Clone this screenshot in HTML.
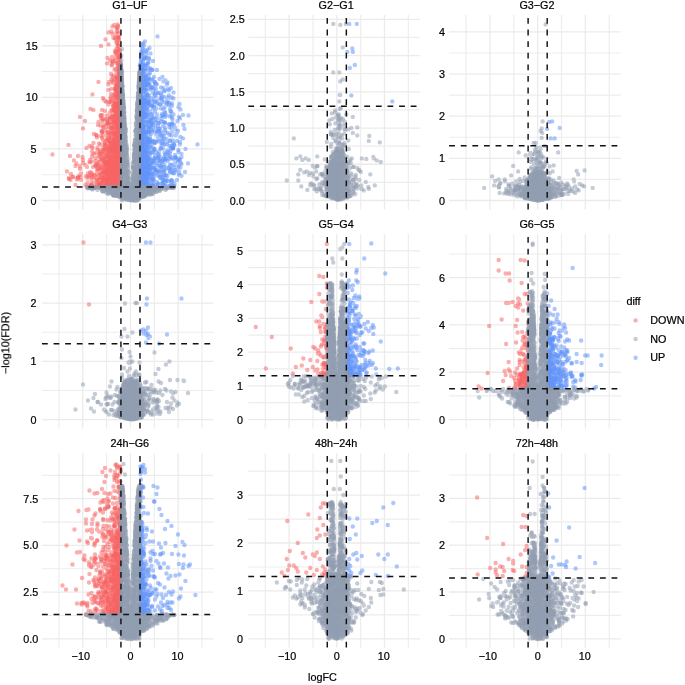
<!DOCTYPE html>
<html><head><meta charset="utf-8"><title>volcano</title>
<style>html,body{margin:0;padding:0;background:#fff}svg{display:block}text{will-change:transform}</style>
</head><body>
<svg width="685" height="685" viewBox="0 0 685 685">
<rect width="685" height="685" fill="#fff"/>
<path d="M58.92 14.90V209.40M106.62 14.90V209.40M154.32 14.90V209.40M202.02 14.90V209.40M41.97 174.71H213.57M41.97 123.12H213.57M41.97 71.54H213.57M41.97 19.95H213.57M265.25 14.90V209.40M312.95 14.90V209.40M360.65 14.90V209.40M408.35 14.90V209.40M248.30 182.38H419.90M248.30 146.15H419.90M248.30 109.91H419.90M248.30 73.68H419.90M248.30 37.44H419.90M466.10 14.90V209.40M513.80 14.90V209.40M561.50 14.90V209.40M609.20 14.90V209.40M449.15 179.43H620.75M449.15 137.28H620.75M449.15 95.12H620.75M449.15 52.97H620.75M58.92 233.97V428.47M106.62 233.97V428.47M154.32 233.97V428.47M202.02 233.97V428.47M41.97 390.46H213.57M41.97 332.24H213.57M41.97 274.02H213.57M265.25 233.97V428.47M312.95 233.97V428.47M360.65 233.97V428.47M408.35 233.97V428.47M248.30 402.69H419.90M248.30 368.94H419.90M248.30 335.19H419.90M248.30 301.44H419.90M248.30 267.69H419.90M466.10 233.97V428.47M513.80 233.97V428.47M561.50 233.97V428.47M609.20 233.97V428.47M449.15 395.92H620.75M449.15 348.62H620.75M449.15 301.32H620.75M449.15 254.02H620.75M58.92 452.96V647.46M106.62 452.96V647.46M154.32 452.96V647.46M202.02 452.96V647.46M41.97 615.45H213.57M41.97 568.75H213.57M41.97 522.05H213.57M41.97 475.35H213.57M265.25 452.96V647.46M312.95 452.96V647.46M360.65 452.96V647.46M408.35 452.96V647.46M248.30 614.85H419.90M248.30 566.95H419.90M248.30 519.05H419.90M248.30 471.15H419.90M466.10 452.96V647.46M513.80 452.96V647.46M561.50 452.96V647.46M609.20 452.96V647.46M449.15 615.40H620.75M449.15 568.60H620.75M449.15 521.80H620.75M449.15 475.00H620.75" fill="none" stroke="#EDEDED" stroke-width="1.15"/>
<path d="M82.77 14.90V209.40M130.47 14.90V209.40M178.17 14.90V209.40M41.97 200.50H213.57M41.97 148.91H213.57M41.97 97.33H213.57M41.97 45.75H213.57M289.10 14.90V209.40M336.80 14.90V209.40M384.50 14.90V209.40M248.30 200.50H419.90M248.30 164.26H419.90M248.30 128.03H419.90M248.30 91.80H419.90M248.30 55.56H419.90M248.30 19.32H419.90M489.95 14.90V209.40M537.65 14.90V209.40M585.35 14.90V209.40M449.15 200.50H620.75M449.15 158.35H620.75M449.15 116.20H620.75M449.15 74.05H620.75M449.15 31.90H620.75M82.77 233.97V428.47M130.47 233.97V428.47M178.17 233.97V428.47M41.97 419.57H213.57M41.97 361.35H213.57M41.97 303.13H213.57M41.97 244.91H213.57M289.10 233.97V428.47M336.80 233.97V428.47M384.50 233.97V428.47M248.30 419.57H419.90M248.30 385.82H419.90M248.30 352.07H419.90M248.30 318.32H419.90M248.30 284.57H419.90M248.30 250.82H419.90M489.95 233.97V428.47M537.65 233.97V428.47M585.35 233.97V428.47M449.15 419.57H620.75M449.15 372.27H620.75M449.15 324.97H620.75M449.15 277.67H620.75M82.77 452.96V647.46M130.47 452.96V647.46M178.17 452.96V647.46M41.97 638.80H213.57M41.97 592.10H213.57M41.97 545.40H213.57M41.97 498.70H213.57M289.10 452.96V647.46M336.80 452.96V647.46M384.50 452.96V647.46M248.30 638.80H419.90M248.30 590.90H419.90M248.30 543.00H419.90M248.30 495.10H419.90M489.95 452.96V647.46M537.65 452.96V647.46M585.35 452.96V647.46M449.15 638.80H620.75M449.15 592.00H620.75M449.15 545.20H620.75M449.15 498.40H620.75" fill="none" stroke="#EBEBEB" stroke-width="1.3"/>
<g fill="none" stroke-linecap="round" stroke-width="8.80" stroke-opacity=".5">
<svg x="41.97" y="14.90" width="171.60" height="194.50" viewBox="0 0 343.20 389.00">
<path stroke="#F85E5E" d="M143 344h0M154 213h0M148 286h0M150 323h0M142 271h0M155 182h0M119 277h0M154 312h0M143 333h0M149 158h0M146 318h0M158 174h0M154 166h0M135 300h0M150 336h0M143 260h0M153 220h0M146 278h0M157 179h0M157 210h0M129 280h0M139 343h0M149 332h0M146 189h0M158 145h0M150 288h0M148 238h0M148 269h0M118 326h0M156 211h0M153 310h0M154 249h0M156 168h0M149 326h0M143 312h0M155 156h0M145 202h0M154 274h0M154 332h0M156 296h0M153 341h0M150 216h0M124 317h0M154 294h0M128 316h0M139 333h0M149 220h0M155 219h0M154 324h0M132 320h0M157 331h0M146 337h0M129 296h0M121 330h0M154 140h0M149 308h0M149 327h0M153 240h0M144 327h0M108 328h0M155 324h0M145 230h0M158 286h0M133 252h0M154 281h0M150 327h0M146 336h0M153 141h0M149 115h0M137 306h0M146 339h0M154 53h0M152 217h0M137 322h0M142 182h0M145 307h0M99 315h0M147 178h0M150 214h0M148 149h0M149 221h0M155 274h0M153 281h0M157 299h0M148 294h0M157 229h0M153 233h0M127 302h0M144 309h0M151 254h0M150 125h0M143 335h0M156 326h0M153 235h0M137 320h0M157 306h0M149 34h0M140 336h0M154 321h0M156 337h0M157 194h0M158 342h0M157 176h0M149 74h0M155 271h0M157 133h0M151 267h0M151 168h0M157 114h0M149 25h0M140 255h0M149 319h0M154 143h0M132 294h0M144 343h0M157 303h0M156 233h0M138 239h0M147 146h0M147 283h0M156 251h0M133 279h0M150 33h0M157 172h0M158 253h0M157 314h0M129 342h0M157 180h0M152 326h0M157 250h0M157 179h0M149 273h0M143 318h0M126 285h0M152 314h0M124 291h0M157 144h0M142 256h0M148 242h0M137 296h0M134 284h0M124 280h0M138 301h0M154 112h0M154 187h0M139 344h0M132 311h0M141 23h0M138 336h0M149 249h0M154 247h0M142 298h0M131 323h0M145 329h0M140 270h0M156 307h0M121 344h0M151 300h0M152 101h0M157 203h0M156 278h0M149 259h0M154 301h0M142 327h0M153 320h0M152 84h0M139 242h0M149 341h0M147 222h0M111 324h0M152 235h0M147 302h0M144 209h0M119 282h0M130 331h0M145 268h0M142 340h0M156 263h0M154 136h0M152 264h0M153 309h0M145 247h0M149 188h0M151 256h0M121 233h0M141 315h0M143 232h0M144 319h0M129 313h0M158 232h0M152 228h0M155 144h0M133 315h0M156 250h0M146 235h0M155 178h0M155 340h0M153 336h0M146 73h0M155 217h0M155 236h0M149 142h0M154 315h0M120 246h0M131 334h0M141 284h0M146 245h0M151 289h0M141 326h0M153 324h0M147 330h0M133 332h0M152 276h0M153 195h0M150 121h0M146 205h0M135 315h0M155 292h0M148 334h0M141 307h0M152 162h0M143 299h0M157 192h0M151 294h0M135 299h0M148 261h0M151 81h0M153 177h0M149 250h0M148 306h0M143 210h0M134 322h0M154 317h0M125 324h0M139 317h0M78 317h0M152 179h0M152 246h0M151 323h0M152 170h0M153 58h0M144 233h0M119 317h0M149 310h0M152 333h0M152 242h0M154 221h0M115 337h0M134 322h0M148 258h0M132 218h0M149 212h0M142 319h0M143 333h0M137 322h0M155 96h0M142 307h0M147 295h0M153 234h0M154 267h0M154 212h0M142 314h0M137 343h0M155 324h0M148 293h0M142 342h0M150 277h0M157 191h0M153 258h0M134 315h0M140 310h0M154 338h0M149 337h0M137 263h0M145 303h0M154 224h0M131 331h0M155 340h0M146 224h0M151 162h0M124 298h0M148 247h0M139 329h0M146 299h0M157 293h0M150 271h0M157 159h0M140 330h0M153 208h0M158 102h0M136 208h0M146 336h0M157 314h0M157 191h0M143 186h0M115 307h0M140 262h0M96 290h0M139 312h0M146 323h0M131 264h0M144 222h0M127 261h0M143 250h0M111 270h0M155 333h0M127 321h0M139 246h0M87 300h0M152 279h0M148 193h0M157 106h0M145 223h0M128 340h0M155 281h0M143 227h0M108 292h0M158 245h0M151 313h0M104 238h0M137 327h0M136 289h0M142 247h0M116 284h0M99 339h0M95 293h0M141 341h0M123 269h0M130 214h0M150 284h0M128 284h0M109 276h0M148 235h0M153 246h0M135 329h0M76 320h0M142 278h0M129 173h0M109 303h0M154 270h0M110 334h0M67 302h0M141 226h0M117 221h0M151 289h0M112 328h0M107 302h0M135 297h0M123 292h0M154 233h0M150 284h0M111 293h0M90 304h0M148 108h0M131 304h0M113 341h0M115 321h0M127 231h0M118 342h0M137 226h0M50 313h0M61 324h0M82 227h0M97 188h0M67 340h0M118 62h0M127 49h0"/>
<path stroke="#F85E5E" d="M144 344h0M154 133h0M137 329h0M142 340h0M149 287h0M148 262h0M151 288h0M155 128h0M154 218h0M148 220h0M150 329h0M147 343h0M152 324h0M156 328h0M156 342h0M154 293h0M144 302h0M133 271h0M154 287h0M154 186h0M137 328h0M146 91h0M158 293h0M96 342h0M155 116h0M137 266h0M158 208h0M143 211h0M145 230h0M134 324h0M144 291h0M152 326h0M155 302h0M151 197h0M145 296h0M146 327h0M151 287h0M117 307h0M158 254h0M155 174h0M153 325h0M151 245h0M142 169h0M152 126h0M103 321h0M154 278h0M142 267h0M151 244h0M147 312h0M140 315h0M153 234h0M157 251h0M148 337h0M121 304h0M151 291h0M155 333h0M150 232h0M157 323h0M144 342h0M141 229h0M131 313h0M140 217h0M149 125h0M152 184h0M148 217h0M128 327h0M142 263h0M155 257h0M139 33h0M139 331h0M150 304h0M157 280h0M153 254h0M155 84h0M157 142h0M156 244h0M147 278h0M122 333h0M148 304h0M147 274h0M155 157h0M132 234h0M148 319h0M152 273h0M155 161h0M158 299h0M155 213h0M157 113h0M123 327h0M148 336h0M153 222h0M138 300h0M143 343h0M151 294h0M150 239h0M102 304h0M157 313h0M138 167h0M155 333h0M137 340h0M141 97h0M144 319h0M139 343h0M148 238h0M148 250h0M152 281h0M143 190h0M150 183h0M156 169h0M155 233h0M156 313h0M152 25h0M153 277h0M150 277h0M133 295h0M156 221h0M158 313h0M144 273h0M155 275h0M141 235h0M158 213h0M157 208h0M131 210h0M138 221h0M122 335h0M153 294h0M156 332h0M153 70h0M134 319h0M136 332h0M126 289h0M152 318h0M156 232h0M158 325h0M157 276h0M148 141h0M157 208h0M146 263h0M151 334h0M158 267h0M155 340h0M142 303h0M149 325h0M148 301h0M149 67h0M136 337h0M152 22h0M144 333h0M157 277h0M158 329h0M96 315h0M151 235h0M140 203h0M151 326h0M152 252h0M156 124h0M133 335h0M147 180h0M154 300h0M121 279h0M148 308h0M158 188h0M132 341h0M153 304h0M139 148h0M138 313h0M145 336h0M126 260h0M134 239h0M131 308h0M157 109h0M148 236h0M150 207h0M69 327h0M150 244h0M121 200h0M145 172h0M150 335h0M151 219h0M147 93h0M151 228h0M152 315h0M146 254h0M130 329h0M135 207h0M146 225h0M126 295h0M156 288h0M131 86h0M115 341h0M153 296h0M146 147h0M151 131h0M156 309h0M158 175h0M155 105h0M147 248h0M158 281h0M149 232h0M154 234h0M139 292h0M147 197h0M156 264h0M150 286h0M152 103h0M158 140h0M155 84h0M154 244h0M154 174h0M154 292h0M143 257h0M155 332h0M143 335h0M151 278h0M71 326h0M157 233h0M78 330h0M91 336h0M146 239h0M151 198h0M155 222h0M146 292h0M146 343h0M155 323h0M152 266h0M153 158h0M128 317h0M142 287h0M149 320h0M156 306h0M154 138h0M148 232h0M152 46h0M150 242h0M128 335h0M157 124h0M157 217h0M157 249h0M150 303h0M140 101h0M147 152h0M157 229h0M115 294h0M135 288h0M141 341h0M144 335h0M154 239h0M149 298h0M132 308h0M137 329h0M154 240h0M153 173h0M138 309h0M156 130h0M126 262h0M149 277h0M151 225h0M156 143h0M141 309h0M149 303h0M138 312h0M150 57h0M152 242h0M157 260h0M151 216h0M154 290h0M99 331h0M138 205h0M141 327h0M152 33h0M152 245h0M157 228h0M147 302h0M154 106h0M129 328h0M155 78h0M158 242h0M150 249h0M141 310h0M150 336h0M158 131h0M157 343h0M143 335h0M143 160h0M155 181h0M141 316h0M157 300h0M151 223h0M154 225h0M155 269h0M151 329h0M154 118h0M140 342h0M153 205h0M140 326h0M147 293h0M122 332h0M136 316h0M76 302h0M150 329h0M138 227h0M148 166h0M147 269h0M81 284h0M112 220h0M122 166h0M76 303h0M54 326h0M155 302h0M82 296h0M123 334h0M150 138h0M153 272h0M129 333h0M117 325h0M70 329h0M136 235h0M137 256h0M120 190h0M124 221h0M141 133h0M151 262h0M118 206h0M145 263h0M144 218h0M142 293h0M126 300h0M138 318h0M152 290h0M121 235h0M101 278h0M140 288h0M142 339h0M154 250h0M138 283h0M128 209h0M149 297h0M110 313h0M116 298h0M127 299h0M100 273h0M137 307h0M124 310h0M140 300h0M139 339h0M150 265h0M109 241h0M138 168h0M99 343h0M135 337h0M96 295h0M140 309h0M143 302h0M128 309h0M133 319h0M147 287h0M118 302h0M127 298h0M147 318h0M144 284h0M113 214h0M109 320h0M139 273h0M152 320h0M21 279h0"/>
<path stroke="#F85E5E" d="M149 343h0M141 269h0M151 280h0M155 192h0M157 100h0M152 302h0M142 159h0M138 319h0M152 283h0M153 112h0M142 283h0M146 185h0M130 97h0M142 200h0M157 191h0M150 334h0M152 144h0M147 86h0M143 276h0M124 334h0M124 339h0M144 248h0M158 280h0M154 157h0M151 225h0M133 295h0M146 303h0M157 321h0M130 310h0M136 302h0M157 204h0M136 299h0M150 321h0M118 289h0M113 283h0M153 273h0M148 312h0M149 278h0M134 203h0M148 254h0M142 217h0M133 326h0M156 192h0M132 344h0M157 297h0M151 38h0M158 235h0M153 280h0M137 218h0M131 240h0M139 305h0M157 261h0M156 290h0M146 291h0M125 257h0M157 173h0M134 267h0M119 304h0M131 334h0M156 316h0M155 147h0M146 286h0M153 271h0M141 301h0M137 339h0M150 289h0M137 173h0M156 334h0M153 109h0M143 167h0M155 176h0M121 315h0M122 272h0M145 264h0M139 280h0M155 302h0M152 21h0M155 331h0M157 283h0M142 303h0M151 264h0M119 337h0M149 196h0M145 327h0M155 277h0M141 336h0M157 267h0M148 272h0M157 173h0M116 317h0M151 194h0M139 291h0M153 125h0M157 141h0M126 192h0M150 216h0M141 337h0M153 143h0M111 343h0M145 162h0M147 267h0M143 235h0M141 322h0M154 80h0M141 237h0M149 50h0M157 274h0M157 225h0M154 247h0M143 304h0M154 225h0M156 311h0M154 112h0M137 343h0M153 205h0M152 44h0M153 336h0M144 305h0M140 328h0M144 343h0M156 259h0M144 192h0M138 158h0M156 212h0M139 204h0M146 264h0M123 208h0M144 327h0M151 150h0M154 112h0M155 207h0M156 247h0M136 91h0M155 166h0M126 340h0M146 310h0M153 208h0M153 316h0M155 194h0M136 276h0M144 174h0M157 311h0M138 344h0M155 184h0M147 336h0M124 332h0M150 330h0M124 343h0M125 308h0M155 226h0M155 261h0M156 174h0M157 342h0M151 308h0M155 250h0M150 235h0M155 329h0M156 263h0M149 339h0M143 294h0M158 241h0M149 314h0M139 99h0M156 245h0M154 163h0M155 118h0M152 230h0M131 284h0M157 293h0M156 291h0M139 129h0M151 19h0M154 261h0M149 344h0M131 338h0M153 84h0M156 90h0M149 310h0M154 340h0M150 295h0M156 332h0M103 256h0M155 103h0M128 298h0M145 341h0M155 216h0M154 38h0M154 221h0M151 290h0M72 324h0M141 342h0M132 252h0M147 238h0M151 323h0M155 285h0M153 251h0M154 323h0M157 151h0M157 277h0M150 314h0M153 129h0M156 106h0M156 332h0M148 47h0M155 80h0M150 185h0M156 240h0M151 303h0M128 252h0M127 318h0M158 124h0M145 327h0M137 312h0M140 322h0M137 308h0M138 221h0M137 325h0M138 340h0M131 216h0M146 213h0M146 207h0M150 199h0M128 330h0M143 264h0M149 76h0M154 176h0M152 212h0M144 271h0M153 251h0M136 341h0M145 20h0M139 325h0M157 264h0M156 302h0M152 177h0M133 294h0M134 244h0M113 338h0M127 339h0M155 287h0M153 61h0M153 178h0M122 225h0M145 213h0M154 50h0M137 273h0M135 262h0M150 295h0M153 338h0M114 308h0M157 218h0M148 326h0M126 313h0M149 322h0M138 341h0M155 214h0M155 336h0M151 288h0M149 303h0M144 284h0M145 266h0M120 317h0M152 197h0M127 331h0M148 249h0M152 299h0M155 225h0M143 266h0M150 26h0M128 314h0M155 142h0M149 224h0M150 252h0M154 158h0M152 154h0M154 219h0M151 273h0M150 256h0M149 266h0M153 238h0M156 342h0M155 232h0M158 290h0M117 259h0M155 153h0M116 274h0M149 316h0M91 323h0M121 261h0M101 266h0M124 170h0M149 273h0M144 295h0M144 300h0M134 225h0M123 241h0M152 343h0M141 255h0M145 261h0M155 296h0M151 295h0M144 287h0M92 317h0M130 270h0M62 324h0M146 280h0M134 311h0M143 235h0M132 290h0M127 173h0M157 281h0M134 237h0M100 325h0M130 201h0M154 216h0M95 262h0M143 343h0M142 318h0M139 343h0M136 279h0M133 179h0M118 338h0M134 274h0M111 300h0M154 342h0M138 118h0M150 245h0M115 340h0M134 312h0M124 323h0M154 227h0M146 164h0M109 240h0M144 267h0M116 282h0M137 340h0M147 294h0M109 341h0M129 207h0M133 275h0M110 307h0M147 340h0M143 295h0M133 139h0M140 326h0M57 330h0M86 212h0M133 35h0"/>
<path stroke="#F85E5E" d="M150 344h0M151 344h0M152 344h0M144 319h0M144 340h0M136 298h0M148 184h0M118 336h0M153 323h0M146 285h0M100 284h0M132 306h0M153 312h0M157 147h0M154 246h0M151 214h0M157 320h0M141 307h0M156 333h0M136 304h0M139 285h0M136 274h0M146 281h0M140 203h0M157 304h0M138 305h0M154 109h0M146 308h0M152 294h0M149 250h0M150 288h0M136 284h0M156 325h0M126 296h0M156 315h0M148 307h0M121 326h0M155 161h0M146 298h0M157 275h0M156 141h0M154 307h0M120 339h0M156 188h0M135 319h0M153 298h0M155 278h0M157 325h0M143 325h0M148 275h0M151 244h0M138 340h0M152 299h0M133 150h0M152 289h0M153 286h0M158 333h0M156 278h0M145 109h0M157 184h0M153 337h0M150 237h0M136 341h0M141 226h0M127 331h0M147 325h0M119 232h0M152 313h0M136 255h0M154 242h0M155 308h0M157 333h0M157 111h0M128 281h0M149 127h0M135 174h0M157 174h0M156 256h0M148 339h0M158 315h0M158 156h0M150 131h0M154 257h0M123 295h0M149 96h0M158 115h0M130 332h0M151 322h0M133 343h0M157 224h0M141 331h0M147 241h0M153 198h0M155 246h0M133 309h0M150 257h0M155 153h0M153 179h0M155 341h0M155 117h0M131 307h0M155 243h0M157 168h0M157 320h0M147 130h0M143 296h0M150 323h0M145 334h0M157 341h0M150 138h0M148 286h0M141 300h0M154 214h0M150 194h0M156 134h0M150 255h0M154 156h0M158 130h0M149 54h0M138 339h0M153 247h0M146 323h0M148 313h0M151 222h0M147 161h0M141 322h0M152 263h0M152 280h0M149 273h0M154 340h0M152 341h0M149 158h0M143 252h0M154 278h0M151 243h0M149 267h0M154 178h0M157 233h0M155 294h0M152 250h0M152 326h0M156 248h0M150 314h0M154 91h0M149 139h0M156 329h0M157 245h0M132 216h0M154 311h0M154 261h0M100 319h0M156 344h0M123 304h0M158 279h0M157 296h0M141 124h0M147 307h0M152 235h0M148 193h0M156 72h0M158 258h0M155 342h0M134 318h0M142 330h0M155 291h0M98 341h0M155 187h0M156 210h0M156 243h0M130 247h0M140 300h0M157 229h0M144 318h0M126 255h0M157 340h0M153 289h0M154 206h0M149 249h0M157 272h0M156 209h0M142 332h0M156 260h0M143 336h0M146 273h0M156 288h0M157 324h0M157 338h0M154 253h0M129 303h0M157 110h0M149 230h0M144 300h0M134 134h0M147 343h0M148 277h0M155 342h0M127 294h0M156 125h0M134 299h0M151 191h0M139 337h0M150 316h0M146 176h0M146 325h0M144 313h0M147 78h0M144 339h0M123 314h0M149 232h0M140 84h0M137 325h0M148 44h0M156 109h0M150 342h0M139 268h0M150 238h0M151 328h0M110 245h0M155 252h0M155 227h0M155 229h0M150 260h0M158 133h0M158 186h0M156 145h0M143 288h0M147 325h0M157 320h0M153 262h0M118 201h0M157 334h0M129 341h0M134 330h0M141 265h0M153 247h0M134 326h0M156 155h0M142 295h0M158 216h0M149 309h0M131 277h0M90 344h0M145 270h0M149 202h0M107 300h0M142 257h0M145 333h0M146 304h0M100 263h0M142 93h0M143 284h0M152 276h0M152 131h0M143 288h0M141 315h0M158 145h0M157 273h0M152 248h0M157 100h0M143 288h0M123 305h0M153 292h0M133 319h0M154 195h0M142 287h0M138 272h0M153 46h0M150 264h0M156 82h0M143 332h0M134 343h0M152 198h0M136 304h0M146 284h0M156 104h0M135 284h0M156 318h0M156 252h0M158 228h0M148 267h0M137 165h0M156 325h0M144 324h0M157 104h0M157 109h0M146 239h0M156 241h0M147 272h0M110 330h0M149 289h0M157 231h0M148 328h0M155 213h0M145 181h0M152 292h0M158 157h0M137 288h0M146 47h0M143 268h0M156 326h0M121 209h0M145 242h0M148 266h0M154 302h0M151 330h0M132 294h0M149 336h0M153 68h0M155 256h0M129 314h0M143 319h0M143 214h0M132 310h0M138 233h0M137 294h0M147 238h0M154 258h0M139 251h0M82 290h0M124 274h0M157 177h0M136 312h0M143 329h0M132 336h0M111 330h0M150 185h0M135 288h0M116 275h0M149 308h0M133 333h0M157 279h0M153 341h0M124 287h0M129 260h0M89 266h0M132 247h0M72 327h0M94 322h0M147 280h0M156 271h0M147 335h0M147 246h0M153 320h0M119 289h0M118 242h0M156 314h0M150 194h0M140 192h0M153 294h0M158 289h0M154 236h0M145 299h0M150 162h0M118 326h0M116 337h0M148 150h0M76 308h0M116 271h0M112 309h0M143 182h0M54 328h0M104 277h0M125 268h0M135 247h0M122 269h0M132 269h0M72 326h0M155 259h0M141 273h0M147 334h0M156 280h0M126 267h0M152 248h0M148 254h0M72 282h0M56 282h0M53 260h0M76 204h0M101 159h0"/>
<path stroke="#F85E5E" d="M137 344h0M152 343h0M151 343h0M154 186h0M158 240h0M156 70h0M154 272h0M148 182h0M135 215h0M155 116h0M155 315h0M157 96h0M130 307h0M154 272h0M145 330h0M147 342h0M157 184h0M133 59h0M153 278h0M109 301h0M153 259h0M153 224h0M149 337h0M143 238h0M154 342h0M147 129h0M157 113h0M137 304h0M158 287h0M157 225h0M151 319h0M109 343h0M150 166h0M154 306h0M143 225h0M147 267h0M158 133h0M157 322h0M152 284h0M139 324h0M157 278h0M130 338h0M143 318h0M157 124h0M152 62h0M157 210h0M141 38h0M142 336h0M148 201h0M122 314h0M146 305h0M127 311h0M153 323h0M155 276h0M150 136h0M150 332h0M147 318h0M129 328h0M154 325h0M155 138h0M142 312h0M149 253h0M131 343h0M157 285h0M138 336h0M138 321h0M100 339h0M140 296h0M146 341h0M150 263h0M157 236h0M141 328h0M150 320h0M137 255h0M149 274h0M152 311h0M149 315h0M157 270h0M140 323h0M147 239h0M122 329h0M149 161h0M141 250h0M143 332h0M127 319h0M146 247h0M157 183h0M140 344h0M154 318h0M156 252h0M147 326h0M122 335h0M127 316h0M151 303h0M153 173h0M156 267h0M148 210h0M143 295h0M149 190h0M152 290h0M152 301h0M146 331h0M143 132h0M143 316h0M148 156h0M153 325h0M131 326h0M143 283h0M152 268h0M153 159h0M154 158h0M149 315h0M155 322h0M156 102h0M149 239h0M158 201h0M132 295h0M157 156h0M136 195h0M146 316h0M152 224h0M157 249h0M156 295h0M154 323h0M155 302h0M147 304h0M157 183h0M149 268h0M112 331h0M95 344h0M157 144h0M157 276h0M156 228h0M149 331h0M145 283h0M136 321h0M143 180h0M126 269h0M141 315h0M151 240h0M156 291h0M146 203h0M145 301h0M146 148h0M133 308h0M125 293h0M154 243h0M138 275h0M154 266h0M157 270h0M155 287h0M156 343h0M150 336h0M147 270h0M115 330h0M154 178h0M157 209h0M149 216h0M139 327h0M139 308h0M151 202h0M153 306h0M155 99h0M129 342h0M156 264h0M154 304h0M141 324h0M136 288h0M155 336h0M77 324h0M154 256h0M156 325h0M135 267h0M131 282h0M124 225h0M155 319h0M157 183h0M158 179h0M150 288h0M157 234h0M157 244h0M137 246h0M124 320h0M150 246h0M151 245h0M152 300h0M156 287h0M131 249h0M142 136h0M157 211h0M147 284h0M141 92h0M155 266h0M157 317h0M143 289h0M154 274h0M158 298h0M97 323h0M149 313h0M156 231h0M142 262h0M152 237h0M157 306h0M157 290h0M154 293h0M143 121h0M158 249h0M142 251h0M136 258h0M150 304h0M146 275h0M149 267h0M152 249h0M153 328h0M155 254h0M156 259h0M121 311h0M153 206h0M151 319h0M151 259h0M132 343h0M137 296h0M157 287h0M142 40h0M114 329h0M136 262h0M146 123h0M137 314h0M113 344h0M150 219h0M145 206h0M140 283h0M156 191h0M155 256h0M155 203h0M141 255h0M104 325h0M131 315h0M156 317h0M145 289h0M143 46h0M131 235h0M132 335h0M157 201h0M153 249h0M142 343h0M143 238h0M154 111h0M130 273h0M156 148h0M146 302h0M148 287h0M138 174h0M156 238h0M155 71h0M157 325h0M151 301h0M148 305h0M139 297h0M122 320h0M143 253h0M154 156h0M148 144h0M150 325h0M155 145h0M146 209h0M140 310h0M157 336h0M147 252h0M153 263h0M130 324h0M152 95h0M157 253h0M152 161h0M149 256h0M137 208h0M152 282h0M127 328h0M155 86h0M148 126h0M144 322h0M158 250h0M157 140h0M151 270h0M158 248h0M139 327h0M147 72h0M136 254h0M123 313h0M158 303h0M153 142h0M149 162h0M150 333h0M158 202h0M143 334h0M158 279h0M144 292h0M156 206h0M157 110h0M156 263h0M149 166h0M157 306h0M155 303h0M133 275h0M151 138h0M140 306h0M155 298h0M150 316h0M139 272h0M153 307h0M140 338h0M132 316h0M145 320h0M147 254h0M151 251h0M155 338h0M155 214h0M154 44h0M107 344h0M144 183h0M145 300h0M91 327h0M154 337h0M154 336h0M126 339h0M155 191h0M147 333h0M153 148h0M136 313h0M152 275h0M121 213h0M139 190h0M118 318h0M121 287h0M115 343h0M157 325h0M152 253h0M156 104h0M109 297h0M114 257h0M102 322h0M148 282h0M111 265h0M127 333h0M88 323h0M115 278h0M111 339h0M129 275h0M128 224h0M149 338h0M114 335h0M128 221h0M105 320h0M127 328h0M146 339h0M133 267h0M127 272h0M130 341h0M104 336h0M103 343h0M138 299h0M147 304h0M87 340h0M103 339h0M131 302h0M158 299h0M145 294h0M158 224h0M145 213h0M153 237h0M143 317h0M155 156h0M145 178h0M118 329h0M149 183h0M117 201h0M156 165h0M141 252h0M148 284h0M128 284h0M135 339h0M156 245h0M135 322h0M107 286h0M114 300h0M157 339h0M139 245h0M134 344h0M135 310h0M100 293h0M120 234h0M155 256h0M132 343h0M150 129h0M153 314h0M122 250h0M58 318h0M64 291h0M69 297h0M103 190h0M113 134h0"/>
<path stroke="#5B8FF9" d="M198 111h0M222 273h0M197 209h0M227 310h0M200 278h0M211 342h0M201 317h0M204 236h0M212 184h0M196 327h0M211 341h0M198 318h0M200 175h0M202 223h0M200 186h0M212 282h0M196 326h0M199 271h0M204 242h0M205 277h0M199 321h0M198 123h0M199 290h0M207 332h0M204 195h0M196 305h0M216 248h0M202 339h0M199 211h0M196 301h0M209 276h0M211 327h0M213 213h0M208 219h0M213 344h0M198 198h0M198 243h0M203 342h0M197 305h0M200 219h0M199 175h0M197 176h0M202 191h0M201 330h0M196 326h0M210 256h0M199 341h0M199 127h0M197 229h0M197 338h0M201 165h0M207 303h0M211 248h0M201 315h0M198 300h0M203 334h0M201 192h0M205 334h0M207 214h0M198 340h0M208 296h0M202 296h0M210 308h0M203 322h0M211 196h0M231 250h0M199 259h0M203 311h0M196 279h0M196 219h0M198 222h0M213 291h0M198 326h0M198 307h0M197 195h0M203 273h0M199 305h0M200 221h0M205 325h0M198 302h0M203 300h0M205 231h0M197 172h0M202 282h0M197 245h0M202 293h0M203 336h0M199 342h0M198 332h0M219 338h0M203 308h0M198 182h0M198 226h0M210 317h0M198 268h0M200 311h0M201 272h0M201 337h0M198 166h0M201 242h0M198 301h0M198 276h0M197 252h0M200 303h0M200 333h0M205 284h0M196 234h0M209 315h0M206 322h0M204 176h0M200 268h0M196 339h0M197 191h0M212 193h0M200 182h0M218 295h0M197 199h0M216 313h0M201 230h0M206 310h0M197 312h0M200 251h0M208 298h0M202 311h0M199 223h0M201 231h0M205 278h0M196 293h0M199 336h0M200 335h0M200 243h0M199 326h0M207 257h0M197 269h0M205 313h0M200 205h0M203 128h0M205 341h0M199 255h0M201 255h0M198 243h0M203 278h0M198 203h0M199 248h0M203 134h0M203 313h0M206 310h0M198 315h0M214 310h0M199 254h0M197 194h0M196 238h0M200 343h0M210 257h0M205 334h0M196 142h0M218 300h0M198 279h0M211 284h0M199 309h0M201 308h0M202 273h0M201 281h0M196 277h0M206 163h0M197 211h0M201 242h0M197 189h0M197 184h0M201 329h0M196 176h0M205 297h0M216 252h0M208 338h0M212 282h0M199 313h0M199 344h0M218 275h0M197 187h0M202 286h0M236 249h0M275 288h0M210 187h0M245 275h0M197 247h0M229 239h0M205 275h0M232 287h0M238 179h0M231 171h0M234 216h0M198 152h0M265 340h0M241 337h0M264 259h0M196 332h0M245 236h0M209 281h0M236 324h0M237 326h0M213 265h0M246 151h0M202 93h0M265 337h0M226 297h0M214 107h0M203 111h0M214 86h0M200 64h0M250 176h0M259 330h0M287 268h0M202 275h0M207 150h0M262 316h0M255 288h0M276 259h0M196 113h0M199 149h0M232 337h0M256 252h0M213 299h0M198 326h0M218 265h0M283 220h0M219 181h0M211 109h0M245 318h0M200 267h0M198 212h0M210 141h0M219 329h0M210 320h0M202 296h0M201 323h0M252 332h0M244 329h0M197 166h0M205 278h0M214 294h0M257 272h0M197 181h0M250 139h0M274 320h0M255 342h0M240 326h0M198 252h0M211 196h0M198 236h0M239 315h0M202 288h0M208 137h0M203 328h0M229 138h0M210 184h0M196 126h0M197 160h0M197 188h0M275 178h0M204 320h0M209 79h0M243 288h0M197 231h0M234 178h0M273 184h0M221 307h0M196 101h0M277 296h0M196 291h0M260 197h0M216 278h0M196 252h0M200 336h0M279 322h0M200 217h0M199 122h0M234 314h0M197 339h0M224 267h0M223 319h0M221 332h0M201 281h0M258 180h0M196 276h0M197 188h0M198 245h0M215 333h0M254 219h0M217 193h0M246 226h0M215 140h0M218 145h0M210 160h0M197 226h0M240 172h0M231 242h0M229 275h0M246 343h0M228 216h0M223 291h0M199 317h0M228 214h0M273 270h0M261 219h0M208 339h0M277 244h0M197 113h0M196 326h0M263 199h0M212 175h0M212 96h0M260 182h0M253 306h0M246 196h0M206 126h0M262 266h0M227 206h0M207 170h0M241 201h0M197 149h0M203 292h0M220 275h0M243 316h0M216 336h0M234 156h0M226 137h0M204 138h0M247 235h0M202 66h0M199 304h0M229 295h0M214 126h0M200 261h0M239 247h0M197 267h0M215 225h0M200 227h0M267 313h0M208 189h0M245 320h0M238 155h0M226 193h0M240 198h0M198 296h0M213 232h0M276 207h0M259 200h0M197 265h0M231 43h0"/>
<path stroke="#5B8FF9" d="M199 343h0M201 228h0M215 287h0M201 297h0M198 344h0M197 337h0M202 305h0M203 296h0M205 291h0M198 165h0M203 255h0M204 327h0M207 263h0M197 242h0M197 328h0M197 250h0M214 319h0M203 327h0M196 247h0M199 333h0M201 258h0M200 335h0M196 326h0M202 246h0M198 253h0M202 226h0M197 248h0M200 250h0M214 287h0M200 244h0M207 251h0M203 262h0M200 325h0M197 168h0M198 248h0M201 331h0M196 233h0M200 238h0M199 204h0M201 289h0M199 325h0M199 212h0M196 320h0M197 213h0M208 320h0M198 197h0M199 341h0M205 303h0M241 334h0M209 295h0M200 318h0M198 283h0M197 278h0M198 302h0M206 339h0M197 302h0M202 306h0M197 240h0M198 232h0M199 304h0M199 103h0M197 100h0M200 265h0M200 315h0M212 307h0M199 259h0M206 279h0M197 305h0M200 172h0M198 246h0M207 261h0M209 280h0M196 272h0M212 233h0M199 257h0M197 149h0M231 344h0M196 317h0M201 263h0M202 343h0M200 268h0M201 248h0M198 312h0M198 338h0M197 284h0M206 305h0M197 125h0M203 291h0M204 341h0M198 253h0M199 154h0M206 343h0M198 338h0M200 344h0M204 324h0M201 333h0M210 185h0M200 184h0M198 295h0M201 104h0M197 154h0M203 101h0M199 209h0M196 135h0M198 105h0M197 127h0M197 337h0M198 178h0M199 302h0M235 310h0M200 109h0M197 181h0M198 274h0M223 305h0M210 264h0M198 121h0M208 202h0M205 197h0M198 120h0M200 287h0M210 247h0M197 319h0M210 272h0M201 230h0M197 343h0M203 222h0M199 340h0M198 330h0M199 214h0M207 337h0M198 248h0M214 308h0M201 273h0M207 341h0M208 305h0M198 309h0M214 300h0M208 267h0M201 322h0M203 343h0M197 301h0M206 338h0M197 340h0M202 284h0M196 302h0M199 225h0M218 211h0M200 285h0M200 300h0M206 276h0M198 210h0M208 271h0M205 237h0M204 320h0M199 327h0M208 177h0M198 138h0M211 316h0M197 173h0M202 323h0M200 332h0M199 228h0M199 270h0M198 252h0M207 133h0M201 258h0M196 334h0M200 326h0M199 99h0M198 101h0M196 335h0M204 301h0M201 268h0M202 295h0M208 276h0M199 164h0M202 335h0M197 212h0M254 181h0M245 259h0M256 313h0M240 164h0M279 278h0M241 328h0M199 295h0M242 266h0M257 193h0M210 285h0M260 307h0M208 184h0M258 332h0M204 147h0M231 207h0M197 340h0M245 310h0M218 212h0M202 174h0M244 153h0M200 339h0M203 154h0M196 202h0M213 94h0M199 137h0M245 341h0M230 285h0M249 248h0M277 305h0M206 270h0M197 293h0M263 257h0M262 257h0M240 163h0M261 263h0M221 110h0M237 338h0M235 309h0M211 214h0M258 315h0M218 342h0M243 214h0M258 338h0M197 180h0M252 236h0M212 172h0M225 256h0M237 293h0M279 284h0M201 112h0M240 295h0M196 235h0M214 253h0M201 240h0M259 300h0M254 176h0M201 205h0M235 228h0M237 238h0M197 317h0M254 151h0M235 292h0M207 85h0M240 324h0M197 131h0M213 271h0M207 328h0M201 153h0M235 280h0M244 242h0M201 343h0M214 251h0M205 234h0M207 131h0M197 327h0M256 189h0M216 116h0M196 151h0M197 274h0M243 293h0M225 211h0M222 92h0M203 172h0M267 285h0M216 251h0M213 254h0M228 311h0M245 256h0M228 148h0M208 245h0M196 222h0M235 280h0M226 282h0M200 331h0M254 181h0M201 261h0M199 240h0M206 135h0M202 231h0M247 288h0M219 210h0M227 155h0M204 317h0M198 158h0M228 254h0M246 341h0M224 184h0M222 219h0M197 170h0M200 144h0M209 169h0M224 208h0M197 326h0M198 115h0M197 218h0M209 291h0M235 302h0M203 320h0M198 153h0M230 177h0M203 290h0M221 296h0M270 330h0M244 304h0M198 256h0M204 325h0M255 262h0M256 251h0M206 142h0M198 213h0M206 141h0M205 200h0M198 135h0M220 145h0M253 343h0M205 204h0M204 329h0M207 124h0M230 234h0M199 191h0M254 161h0M227 224h0M263 155h0M197 290h0M271 292h0M241 304h0M196 246h0M239 261h0M204 333h0M228 211h0M217 255h0M242 267h0M260 312h0M197 167h0M197 143h0M248 320h0M260 303h0M222 253h0M197 327h0M255 219h0M251 254h0M217 277h0M206 87h0M292 297h0M198 178h0M201 75h0M211 305h0M242 267h0M199 225h0M213 180h0M198 157h0M208 234h0M197 215h0M212 164h0M198 132h0M201 219h0M276 254h0M203 269h0M206 53h0"/>
<path stroke="#5B8FF9" d="M215 344h0M203 344h0M210 344h0M208 251h0M198 250h0M203 289h0M208 198h0M196 121h0M205 292h0M197 167h0M202 168h0M208 231h0M209 334h0M208 320h0M202 202h0M215 301h0M199 238h0M199 338h0M203 251h0M206 332h0M200 344h0M198 258h0M210 291h0M197 308h0M199 265h0M210 199h0M200 331h0M211 204h0M202 300h0M200 342h0M198 253h0M203 315h0M202 321h0M207 132h0M198 302h0M198 343h0M202 142h0M197 155h0M200 328h0M199 149h0M196 287h0M196 320h0M204 202h0M198 251h0M196 245h0M201 256h0M197 325h0M219 327h0M216 309h0M198 312h0M199 251h0M201 303h0M196 186h0M203 314h0M199 301h0M207 315h0M202 255h0M199 213h0M201 232h0M216 286h0M198 290h0M198 221h0M209 263h0M197 260h0M198 219h0M210 283h0M199 146h0M201 227h0M207 337h0M209 327h0M199 270h0M197 313h0M197 268h0M207 324h0M196 338h0M207 199h0M230 340h0M205 290h0M205 323h0M204 255h0M199 341h0M202 335h0M198 192h0M199 330h0M219 261h0M207 322h0M197 283h0M206 317h0M207 281h0M204 337h0M203 283h0M202 242h0M204 118h0M196 281h0M197 161h0M208 302h0M203 316h0M202 267h0M200 269h0M216 325h0M213 235h0M198 191h0M201 325h0M198 285h0M207 341h0M197 342h0M198 329h0M200 301h0M198 255h0M196 208h0M197 286h0M196 210h0M197 344h0M200 342h0M198 239h0M205 290h0M207 225h0M203 228h0M256 299h0M198 331h0M208 233h0M200 295h0M203 322h0M214 259h0M202 291h0M196 327h0M196 315h0M196 333h0M198 276h0M200 276h0M201 308h0M209 266h0M215 219h0M199 284h0M197 206h0M199 133h0M204 309h0M209 320h0M217 304h0M197 333h0M199 303h0M199 328h0M199 330h0M198 337h0M202 198h0M197 308h0M204 190h0M215 286h0M215 235h0M198 133h0M208 264h0M206 274h0M209 254h0M205 343h0M197 252h0M211 160h0M197 252h0M196 141h0M203 302h0M211 343h0M218 238h0M199 229h0M199 314h0M213 223h0M201 315h0M207 342h0M208 140h0M220 203h0M197 240h0M199 344h0M197 341h0M197 341h0M205 335h0M213 317h0M197 229h0M207 291h0M200 301h0M205 319h0M205 228h0M234 284h0M204 246h0M207 294h0M209 177h0M218 318h0M217 77h0M201 190h0M206 317h0M209 316h0M197 331h0M274 301h0M206 159h0M229 139h0M217 255h0M261 286h0M208 274h0M200 230h0M237 241h0M205 342h0M239 256h0M219 172h0M224 340h0M223 253h0M220 173h0M197 180h0M256 203h0M235 128h0M232 222h0M196 322h0M222 275h0M246 215h0M218 180h0M210 326h0M220 274h0M202 259h0M251 322h0M249 332h0M200 179h0M274 313h0M198 143h0M213 133h0M207 120h0M213 200h0M213 318h0M241 124h0M219 166h0M258 308h0M204 88h0M225 134h0M202 205h0M215 322h0M220 344h0M208 102h0M218 150h0M282 247h0M232 156h0M224 287h0M204 160h0M209 154h0M199 206h0M198 76h0M238 145h0M230 110h0M241 319h0M230 313h0M205 339h0M239 208h0M215 138h0M212 248h0M196 127h0M199 73h0M197 244h0M199 246h0M205 103h0M199 338h0M214 177h0M252 274h0M246 290h0M214 139h0M244 319h0M198 266h0M200 208h0M206 253h0M202 185h0M226 141h0M199 277h0M219 199h0M255 240h0M208 297h0M244 313h0M198 91h0M220 236h0M286 314h0M198 279h0M262 251h0M205 251h0M220 234h0M199 222h0M226 256h0M213 303h0M263 167h0M214 224h0M210 135h0M216 129h0M267 241h0M225 162h0M207 106h0M272 232h0M218 218h0M243 200h0M237 167h0M205 140h0M213 140h0M204 169h0M266 280h0M256 277h0M269 237h0M279 298h0M222 156h0M213 250h0M201 342h0M205 202h0M221 179h0M246 230h0M208 317h0M199 295h0M230 300h0M203 212h0M261 267h0M261 209h0M208 313h0M200 228h0M207 188h0M208 307h0M275 317h0M257 285h0M223 330h0M212 302h0M243 285h0M206 271h0M216 211h0M224 149h0M220 131h0M235 234h0M242 258h0M209 150h0M232 321h0M201 107h0M202 296h0M208 241h0M215 66h0"/>
<path stroke="#5B8FF9" d="M210 344h0M198 344h0M209 344h0M215 220h0M202 192h0M199 313h0M198 337h0M197 259h0M205 316h0M196 265h0M217 293h0M196 279h0M207 113h0M201 338h0M200 304h0M203 222h0M199 296h0M198 318h0M197 344h0M197 216h0M198 210h0M200 286h0M196 267h0M196 227h0M222 340h0M197 308h0M198 239h0M201 237h0M198 320h0M202 110h0M197 317h0M197 292h0M198 204h0M198 324h0M206 307h0M199 249h0M197 330h0M197 143h0M209 244h0M198 229h0M198 197h0M198 184h0M207 344h0M199 322h0M200 324h0M197 336h0M197 293h0M200 271h0M200 127h0M200 131h0M210 141h0M196 289h0M196 199h0M203 293h0M199 283h0M206 336h0M208 305h0M197 307h0M200 98h0M214 298h0M199 302h0M200 283h0M199 264h0M202 273h0M204 199h0M200 307h0M198 334h0M197 267h0M197 238h0M197 270h0M197 339h0M197 146h0M202 174h0M204 152h0M197 305h0M211 316h0M219 330h0M205 192h0M225 322h0M196 165h0M201 181h0M198 165h0M202 312h0M204 321h0M197 233h0M198 127h0M198 149h0M196 304h0M202 341h0M198 290h0M201 140h0M204 306h0M201 317h0M200 231h0M197 270h0M210 290h0M199 317h0M204 264h0M200 337h0M198 278h0M197 248h0M207 334h0M197 249h0M215 309h0M197 329h0M200 195h0M203 292h0M198 220h0M203 192h0M211 174h0M202 291h0M202 321h0M198 140h0M201 115h0M197 143h0M197 269h0M200 229h0M196 168h0M201 321h0M198 330h0M199 236h0M197 146h0M200 254h0M206 268h0M207 165h0M197 253h0M197 330h0M198 258h0M211 319h0M201 279h0M227 307h0M200 331h0M199 308h0M205 168h0M205 330h0M218 222h0M197 331h0M197 264h0M203 334h0M197 265h0M225 288h0M198 310h0M203 334h0M218 227h0M196 230h0M212 304h0M210 306h0M213 327h0M201 334h0M206 283h0M200 321h0M205 328h0M202 284h0M197 288h0M201 146h0M205 309h0M203 330h0M200 308h0M207 341h0M200 311h0M196 321h0M199 278h0M199 329h0M199 297h0M211 338h0M212 336h0M210 336h0M197 186h0M209 158h0M200 223h0M200 239h0M198 291h0M200 302h0M197 262h0M209 121h0M197 319h0M199 343h0M208 211h0M198 171h0M196 261h0M207 253h0M208 309h0M207 314h0M223 319h0M200 281h0M198 276h0M199 304h0M197 322h0M218 336h0M256 314h0M260 339h0M241 255h0M272 305h0M197 158h0M220 110h0M238 267h0M245 330h0M246 330h0M251 165h0M201 343h0M224 124h0M247 131h0M204 132h0M196 193h0M203 70h0M198 312h0M196 332h0M201 281h0M258 266h0M205 271h0M268 305h0M206 250h0M211 100h0M236 227h0M213 205h0M251 135h0M223 327h0M211 321h0M220 206h0M214 160h0M203 84h0M196 238h0M198 131h0M220 215h0M211 190h0M221 319h0M261 332h0M247 280h0M208 72h0M200 296h0M201 149h0M241 341h0M197 322h0M212 276h0M197 320h0M268 286h0M264 317h0M201 149h0M259 165h0M234 253h0M206 270h0M260 234h0M208 238h0M220 182h0M198 109h0M201 77h0M238 291h0M206 181h0M213 168h0M259 218h0M230 337h0M212 138h0M274 204h0M272 290h0M240 167h0M209 200h0M233 230h0M243 133h0M244 164h0M242 222h0M236 288h0M197 198h0M201 79h0M230 334h0M226 173h0M228 286h0M262 267h0M217 110h0M213 316h0M211 176h0M265 261h0M220 199h0M238 233h0M241 251h0M200 141h0M224 332h0M215 344h0M282 200h0M221 252h0M245 185h0M217 296h0M204 61h0M234 273h0M258 192h0M277 189h0M206 86h0M270 252h0M244 174h0M205 272h0M211 148h0M198 297h0M249 329h0M235 293h0M259 226h0M222 317h0M246 217h0M239 305h0M200 274h0M197 191h0M251 271h0M200 59h0M211 251h0M198 231h0M218 327h0M213 258h0M197 341h0M258 166h0M246 216h0M199 62h0M224 254h0M197 113h0M197 312h0M213 146h0M215 216h0M246 204h0M250 259h0M201 191h0M201 70h0M213 199h0M228 162h0M238 160h0M208 204h0M213 293h0M197 308h0M259 241h0M224 170h0M212 177h0M250 167h0M215 225h0M221 293h0M240 309h0M201 276h0M233 228h0M239 166h0M222 293h0M204 128h0M236 313h0M196 160h0M197 257h0M216 235h0M259 332h0M213 129h0M203 99h0M242 334h0M201 323h0M208 267h0M200 123h0M249 179h0M198 123h0M196 282h0M248 288h0M217 265h0M236 302h0M257 284h0M200 292h0M225 268h0M253 279h0M196 228h0M236 179h0M202 206h0M202 153h0M199 181h0M247 326h0M271 212h0M238 187h0M226 159h0M197 110h0M226 232h0M203 321h0M233 216h0M260 177h0M217 343h0M258 146h0M223 231h0M197 307h0M311 259h0M201 62h0"/>
<path stroke="#5B8FF9" d="M197 311h0M201 108h0M198 118h0M202 323h0M202 123h0M204 200h0M197 304h0M201 283h0M198 326h0M202 312h0M199 209h0M203 263h0M214 293h0M204 320h0M198 335h0M203 333h0M198 175h0M210 330h0M201 271h0M198 327h0M199 315h0M208 313h0M198 177h0M215 253h0M196 181h0M205 270h0M197 295h0M197 171h0M202 226h0M220 322h0M204 319h0M207 219h0M204 274h0M197 163h0M212 321h0M196 288h0M204 311h0M199 324h0M207 292h0M201 319h0M222 342h0M200 237h0M199 341h0M196 109h0M202 301h0M196 219h0M208 333h0M200 208h0M202 107h0M213 304h0M197 251h0M197 244h0M199 232h0M197 317h0M202 312h0M208 221h0M197 301h0M201 106h0M205 319h0M201 313h0M209 340h0M198 324h0M204 123h0M198 303h0M198 308h0M198 277h0M201 179h0M199 308h0M206 327h0M207 332h0M202 235h0M197 200h0M197 233h0M197 334h0M206 203h0M225 270h0M199 282h0M200 331h0M201 272h0M196 188h0M208 291h0M197 99h0M202 335h0M196 297h0M198 96h0M201 320h0M208 323h0M199 127h0M197 233h0M205 232h0M198 307h0M201 341h0M198 189h0M196 102h0M198 237h0M198 281h0M208 318h0M198 331h0M198 268h0M199 292h0M205 312h0M200 208h0M197 156h0M201 205h0M197 146h0M202 317h0M204 343h0M200 303h0M204 341h0M197 153h0M196 288h0M201 254h0M197 244h0M205 225h0M207 328h0M196 241h0M207 99h0M198 308h0M212 272h0M201 339h0M203 181h0M204 311h0M220 292h0M198 121h0M208 304h0M199 245h0M197 221h0M197 334h0M207 292h0M196 176h0M204 323h0M198 328h0M198 114h0M199 249h0M199 308h0M197 326h0M199 333h0M200 294h0M205 198h0M199 196h0M199 100h0M197 277h0M197 297h0M197 223h0M199 341h0M203 122h0M198 282h0M196 284h0M222 327h0M200 172h0M206 343h0M200 318h0M199 253h0M204 199h0M198 339h0M214 323h0M200 301h0M208 301h0M202 332h0M200 247h0M210 322h0M216 304h0M200 322h0M200 286h0M201 237h0M211 344h0M200 225h0M198 258h0M198 236h0M204 174h0M201 331h0M196 208h0M197 273h0M199 310h0M198 205h0M199 279h0M197 219h0M200 184h0M196 322h0M201 268h0M198 242h0M199 338h0M200 332h0M266 225h0M221 129h0M198 245h0M197 335h0M219 218h0M198 195h0M198 148h0M293 201h0M229 187h0M229 316h0M207 108h0M259 262h0M211 70h0M199 91h0M261 217h0M197 308h0M197 223h0M247 279h0M219 210h0M200 146h0M199 151h0M212 129h0M260 205h0M237 267h0M198 82h0M241 242h0M273 274h0M250 282h0M201 334h0M198 325h0M226 174h0M222 187h0M196 241h0M226 134h0M203 225h0M200 275h0M250 279h0M230 199h0M245 333h0M209 131h0M216 244h0M239 202h0M267 285h0M239 302h0M201 147h0M199 166h0M202 116h0M200 176h0M201 318h0M247 336h0M212 337h0M243 189h0M201 339h0M198 87h0M232 231h0M219 294h0M204 146h0M220 146h0M207 332h0M200 82h0M244 248h0M200 213h0M213 235h0M197 342h0M198 145h0M223 311h0M210 314h0M266 297h0M205 107h0M219 317h0M215 173h0M235 323h0M208 235h0M214 227h0M214 119h0M251 292h0M248 307h0M209 86h0M212 323h0M206 281h0M196 322h0M249 201h0M205 343h0M202 123h0M201 265h0M240 294h0M212 137h0M255 225h0M252 174h0M204 186h0M198 214h0M205 205h0M247 201h0M217 107h0M237 326h0M254 307h0M266 310h0M198 329h0M196 329h0M196 136h0M198 217h0M201 214h0M232 279h0M264 342h0M197 97h0M213 175h0M216 290h0M246 194h0M207 172h0M196 192h0M262 266h0M229 314h0M202 57h0M238 292h0M201 309h0M197 343h0M245 300h0M207 261h0M201 104h0M198 268h0M220 145h0M199 268h0M267 229h0M240 292h0M214 88h0M264 300h0M276 290h0M198 126h0M212 285h0M252 148h0M238 213h0M221 222h0M200 271h0M208 73h0M243 146h0M197 210h0M197 123h0M216 292h0M196 315h0M220 230h0M198 86h0M204 307h0M198 214h0M285 228h0M224 184h0M201 168h0M201 310h0M263 289h0M201 246h0M196 240h0M224 306h0M197 172h0M209 313h0M264 220h0M225 292h0M253 305h0"/>
<path stroke="#8D99AE" d="M163 213h0M168 258h0M160 144h0M168 341h0M168 367h0M163 242h0M164 186h0M164 241h0M161 178h0M165 223h0M168 325h0M167 274h0M163 212h0M167 272h0M174 335h0M167 233h0M169 284h0M160 307h0M163 316h0M159 140h0M158 107h0M172 301h0M164 312h0M159 295h0M159 245h0M170 282h0M167 295h0M169 370h0M158 160h0M172 342h0M161 177h0M160 314h0M176 358h0M169 352h0M163 203h0M160 200h0M163 214h0M162 160h0M164 268h0M159 179h0M159 129h0M158 164h0M166 227h0M159 219h0M160 135h0M158 107h0M163 178h0M160 237h0M170 325h0M159 121h0M163 315h0M160 136h0M160 371h0M162 208h0M161 345h0M161 226h0M165 194h0M161 169h0M165 361h0M164 335h0M172 325h0M173 335h0M162 175h0M162 171h0M166 232h0M159 229h0M159 110h0M165 347h0M169 259h0M171 338h0M166 261h0M171 348h0M166 280h0M165 284h0M170 295h0M166 241h0M169 361h0M163 172h0M165 232h0M162 223h0M161 263h0M161 284h0M158 113h0M160 210h0M161 317h0M165 342h0M170 366h0M161 186h0M159 112h0M158 99h0M173 327h0M169 265h0M168 252h0M164 208h0M168 368h0M159 123h0M160 233h0M161 231h0M158 110h0M159 123h0M164 213h0M169 270h0M174 365h0M174 360h0M167 287h0M164 266h0M158 102h0M163 175h0M165 300h0M165 264h0M161 141h0M163 246h0M158 303h0M159 303h0M164 187h0M159 133h0M163 184h0M161 187h0M168 279h0M160 261h0M164 246h0M162 169h0M160 247h0M167 275h0M158 143h0M162 270h0M169 351h0M160 138h0M168 258h0M164 193h0M164 248h0M167 229h0M165 250h0M163 351h0M159 113h0M167 352h0M164 215h0M169 261h0M163 193h0M168 359h0M159 112h0M164 210h0M160 145h0M159 161h0M163 355h0M164 364h0M169 321h0M163 290h0M159 251h0M159 128h0M161 196h0M163 311h0M161 288h0M167 233h0M171 330h0M161 199h0M165 228h0M163 194h0M160 151h0M167 315h0M163 208h0M166 366h0M159 115h0M163 282h0M164 237h0M180 362h0M189 326h0M188 278h0M190 361h0M191 343h0M187 305h0M193 264h0M194 187h0M188 350h0M195 131h0M190 250h0M195 210h0M194 203h0M188 257h0M194 138h0M196 121h0M190 319h0M195 125h0M185 301h0M194 236h0M186 359h0M188 250h0M195 145h0M194 267h0M195 350h0M190 203h0M195 120h0M184 352h0M192 236h0M192 192h0M193 160h0M185 351h0M192 249h0M195 144h0M189 262h0M185 291h0M193 354h0M191 286h0M180 350h0M194 148h0M190 262h0M186 371h0M190 268h0M194 258h0M195 120h0M192 291h0M190 190h0M187 231h0M191 286h0M188 303h0M195 333h0M195 117h0M193 211h0M185 258h0M192 254h0M179 362h0M190 371h0M183 310h0M195 217h0M196 141h0M183 326h0M191 218h0M193 268h0M194 178h0M179 369h0M188 315h0M190 305h0M193 290h0M190 350h0M185 255h0M191 312h0M195 184h0M192 156h0M180 353h0M191 185h0M186 353h0M191 233h0M196 193h0M193 170h0M190 272h0M195 115h0M194 143h0M183 311h0M195 136h0M190 189h0M187 281h0M193 169h0M184 278h0M191 343h0M192 226h0M194 141h0M184 346h0M195 129h0M181 349h0M193 275h0M189 202h0M182 356h0M192 255h0M186 349h0M190 229h0M195 133h0M184 288h0M193 162h0M195 298h0M184 307h0M178 367h0M194 340h0M187 266h0M186 364h0M186 356h0M189 241h0M186 259h0M193 330h0M187 257h0M195 119h0M179 364h0M186 250h0M195 269h0M195 227h0M186 331h0M189 204h0M194 127h0M194 319h0M190 209h0M183 326h0M186 306h0M193 338h0M186 269h0M190 229h0M194 232h0M195 120h0M181 328h0M192 324h0M191 304h0M187 328h0M193 243h0M191 190h0M194 264h0M196 241h0M191 180h0M195 214h0M179 370h0M193 344h0M186 265h0M183 356h0M195 147h0M182 297h0M183 296h0M189 252h0M190 322h0M195 128h0M182 303h0M195 351h0M195 117h0M195 351h0M193 219h0M184 346h0M158 346h0M189 361h0M137 344h0M177 344h0M148 361h0M168 351h0M192 350h0M181 351h0M192 366h0M168 345h0M175 366h0M193 360h0M153 355h0M152 351h0M172 352h0M188 357h0M158 364h0M173 352h0M169 356h0M146 345h0M171 353h0M174 351h0M196 354h0M192 344h0M174 343h0M148 359h0M165 360h0M177 359h0M139 346h0M139 344h0M190 351h0M178 344h0M206 360h0M164 350h0M168 361h0M153 362h0M160 349h0M163 367h0M151 346h0M168 363h0M170 355h0M159 355h0M192 360h0M184 353h0M214 346h0M153 351h0M162 358h0M175 354h0M199 361h0M185 360h0M165 348h0M184 361h0M191 363h0M168 350h0M193 351h0M192 360h0M192 345h0M205 350h0M182 359h0M205 357h0M184 369h0M163 353h0M179 348h0M188 349h0M172 361h0M182 344h0M159 347h0M181 358h0M169 344h0M165 353h0M166 350h0M182 350h0M188 349h0M161 348h0M175 355h0M174 353h0M201 355h0M201 354h0M180 364h0M165 361h0M190 351h0M152 362h0M194 360h0M194 345h0M170 360h0M176 359h0M154 351h0M165 361h0M177 346h0M179 362h0M135 351h0M172 367h0M188 365h0M167 351h0M157 353h0M159 364h0M149 345h0M179 349h0M178 356h0M176 365h0M182 346h0M200 358h0M208 357h0M191 366h0M151 354h0M141 345h0M210 345h0M96 346h0M157 348h0M162 351h0M191 349h0M200 351h0M159 345h0M156 349h0M217 354h0M161 350h0M137 354h0M233 346h0M256 345h0M118 345h0M137 348h0M147 361h0M200 357h0M138 348h0M160 351h0M206 349h0M217 347h0M205 352h0M198 346h0M204 357h0M224 347h0M107 345h0M153 357h0M166 366h0M216 353h0M144 359h0M238 347h0M150 352h0M252 345h0M223 349h0M154 360h0M192 351h0M155 352h0M163 345h0M160 359h0M151 357h0M166 360h0M113 345h0M195 358h0M213 349h0M167 346h0M192 362h0M197 355h0M213 357h0M163 353h0M190 362h0M188 365h0M225 352h0M149 354h0M101 345h0M213 354h0M165 347h0M188 356h0M188 349h0M201 356h0M159 357h0M97 346h0M141 358h0M167 352h0M192 349h0M190 354h0M196 355h0M151 356h0M187 347h0M162 357h0M164 362h0M160 348h0M260 346h0M218 346h0M161 351h0M164 349h0M165 348h0M187 360h0M193 351h0M188 345h0M146 358h0M130 348h0M158 360h0M201 347h0M164 345h0M155 361h0M151 348h0M203 351h0M194 364h0M131 348h0M188 353h0M230 353h0M196 350h0M159 91h0"/>
<path stroke="#8D99AE" d="M159 129h0M166 333h0M169 264h0M158 137h0M161 179h0M169 294h0M163 220h0M167 253h0M160 210h0M169 322h0M159 237h0M160 222h0M159 233h0M162 217h0M162 163h0M160 175h0M163 265h0M173 364h0M158 99h0M159 128h0M167 299h0M166 305h0M170 296h0M160 130h0M170 293h0M159 111h0M170 314h0M172 307h0M169 350h0M161 156h0M161 201h0M171 310h0M171 326h0M161 304h0M159 136h0M160 129h0M161 187h0M163 204h0M172 348h0M163 366h0M166 308h0M161 157h0M165 259h0M160 150h0M166 221h0M159 110h0M169 263h0M164 221h0M162 251h0M159 124h0M161 346h0M162 185h0M159 204h0M167 251h0M164 309h0M171 338h0M159 191h0M159 145h0M158 161h0M169 315h0M160 135h0M167 339h0M159 114h0M158 257h0M163 287h0M166 302h0M158 114h0M169 300h0M170 359h0M166 338h0M160 191h0M159 140h0M159 129h0M164 312h0M166 334h0M162 156h0M167 235h0M160 137h0M159 232h0M168 269h0M160 142h0M171 330h0M163 196h0M161 142h0M160 137h0M172 317h0M165 337h0M175 369h0M160 319h0M159 148h0M163 336h0M159 112h0M162 276h0M162 317h0M158 246h0M164 285h0M170 312h0M158 113h0M164 336h0M168 245h0M176 359h0M164 348h0M166 262h0M172 319h0M163 294h0M167 270h0M175 351h0M163 217h0M158 103h0M158 117h0M159 152h0M158 147h0M160 204h0M168 333h0M162 327h0M175 347h0M163 318h0M162 308h0M160 233h0M164 268h0M170 279h0M169 280h0M159 185h0M162 177h0M165 225h0M161 171h0M164 342h0M164 317h0M165 261h0M163 251h0M162 227h0M161 305h0M159 178h0M160 166h0M169 299h0M159 109h0M164 269h0M174 347h0M172 341h0M160 201h0M163 182h0M168 361h0M168 274h0M158 108h0M160 216h0M164 259h0M162 191h0M170 361h0M159 120h0M167 279h0M173 346h0M160 217h0M160 140h0M162 208h0M158 184h0M191 355h0M185 358h0M195 185h0M188 264h0M185 288h0M192 167h0M186 329h0M195 116h0M193 323h0M192 212h0M191 329h0M195 286h0M184 332h0M186 279h0M188 279h0M182 360h0M195 187h0M180 344h0M186 350h0M183 325h0M186 337h0M185 349h0M192 345h0M189 253h0M192 200h0M189 244h0M195 117h0M188 353h0M193 243h0M184 365h0M195 139h0M190 199h0M188 287h0M195 151h0M195 182h0M193 195h0M186 346h0M193 189h0M195 214h0M194 292h0M191 296h0M187 310h0M191 182h0M190 371h0M194 133h0M195 123h0M186 356h0M192 205h0M195 158h0M188 298h0M189 317h0M187 273h0M193 340h0M190 329h0M191 198h0M192 184h0M193 163h0M187 277h0M194 187h0M196 220h0M187 232h0M195 159h0M194 282h0M189 259h0M188 220h0M188 230h0M186 335h0M193 229h0M185 368h0M186 284h0M187 240h0M195 131h0M193 155h0M192 174h0M196 115h0M189 283h0M195 115h0M179 366h0M191 177h0M189 312h0M195 234h0M196 116h0M189 349h0M195 127h0M180 349h0M195 197h0M178 356h0M190 203h0M190 294h0M185 261h0M188 319h0M186 326h0M191 324h0M192 214h0M180 344h0M190 193h0M189 258h0M194 169h0M188 232h0M194 148h0M195 122h0M187 291h0M184 363h0M186 282h0M191 281h0M185 277h0M193 236h0M192 185h0M192 187h0M194 143h0M187 281h0M180 364h0M186 249h0M195 252h0M185 285h0M195 143h0M185 359h0M183 333h0M191 278h0M195 133h0M195 267h0M195 118h0M183 321h0M189 296h0M187 254h0M181 338h0M194 299h0M190 189h0M183 304h0M195 151h0M194 136h0M182 353h0M191 296h0M195 363h0M193 222h0M188 259h0M189 217h0M193 189h0M184 293h0M195 154h0M193 266h0M183 305h0M186 353h0M195 118h0M191 265h0M196 262h0M185 329h0M193 293h0M194 226h0M191 203h0M194 274h0M195 116h0M191 265h0M195 338h0M180 357h0M191 208h0M192 214h0M193 194h0M184 333h0M195 215h0M187 299h0M185 309h0M188 260h0M191 195h0M188 264h0M195 345h0M194 359h0M196 352h0M142 359h0M162 366h0M170 348h0M186 355h0M180 362h0M177 345h0M196 354h0M192 366h0M200 363h0M180 357h0M171 363h0M168 347h0M155 356h0M180 360h0M169 364h0M182 358h0M177 344h0M181 366h0M178 365h0M158 348h0M188 349h0M188 352h0M174 352h0M177 345h0M153 363h0M188 346h0M167 364h0M202 358h0M208 344h0M180 351h0M189 350h0M153 354h0M187 360h0M188 353h0M170 359h0M167 354h0M215 359h0M175 355h0M181 344h0M155 364h0M195 349h0M162 344h0M167 346h0M172 363h0M177 357h0M193 362h0M171 356h0M145 345h0M155 349h0M168 364h0M151 355h0M166 344h0M170 354h0M194 358h0M173 364h0M176 360h0M156 361h0M183 358h0M156 360h0M174 355h0M199 350h0M169 347h0M172 361h0M174 359h0M158 350h0M159 358h0M180 348h0M190 352h0M189 363h0M179 370h0M165 359h0M191 352h0M172 349h0M196 358h0M154 351h0M155 353h0M150 352h0M183 367h0M137 345h0M165 360h0M175 351h0M163 355h0M198 349h0M184 346h0M191 366h0M164 363h0M170 355h0M180 358h0M184 345h0M169 368h0M203 355h0M151 360h0M156 357h0M154 350h0M196 362h0M160 364h0M187 356h0M186 346h0M179 361h0M181 346h0M176 356h0M158 360h0M163 358h0M195 359h0M152 344h0M211 358h0M211 355h0M161 363h0M162 358h0M212 357h0M158 357h0M182 355h0M163 345h0M186 362h0M165 348h0M157 347h0M167 358h0M144 361h0M164 361h0M194 346h0M143 345h0M155 345h0M174 369h0M234 349h0M142 346h0M96 345h0M198 357h0M160 356h0M161 347h0M188 364h0M219 352h0M122 347h0M160 356h0M212 351h0M193 354h0M165 360h0M162 366h0M222 356h0M158 349h0M159 353h0M126 346h0M189 347h0M155 357h0M191 358h0M189 359h0M223 352h0M189 354h0M110 348h0M201 348h0M139 346h0M133 358h0M162 363h0M93 346h0M130 345h0M154 353h0M166 349h0M192 365h0M163 346h0M149 348h0M153 346h0M223 352h0M206 350h0M139 352h0M234 347h0M203 363h0M107 346h0M164 346h0M160 359h0M98 345h0M220 348h0M202 355h0M151 356h0M222 358h0M224 355h0M206 355h0M133 346h0M227 347h0M134 349h0M128 347h0M157 360h0M141 352h0M187 360h0M160 366h0M147 356h0M200 363h0M132 350h0M222 351h0M155 350h0M216 354h0M151 344h0M212 360h0M193 347h0M122 353h0M196 348h0M202 345h0M166 358h0M204 358h0M149 354h0M198 346h0M152 353h0M167 351h0M188 355h0M156 354h0M167 353h0M216 353h0M218 345h0M147 359h0M125 345h0M191 356h0M152 345h0M188 356h0M111 350h0M215 358h0M124 353h0M198 360h0M158 345h0M239 347h0M190 359h0M153 352h0M107 346h0M189 346h0M163 358h0M104 345h0M258 345h0M198 349h0M143 353h0M249 348h0M145 357h0M158 348h0"/>
<path stroke="#8D99AE" d="M160 131h0M159 121h0M164 271h0M159 172h0M165 258h0M163 250h0M161 162h0M167 246h0M166 273h0M159 131h0M158 124h0M160 165h0M164 184h0M164 260h0M175 360h0M158 110h0M165 361h0M159 255h0M160 132h0M159 239h0M169 311h0M158 103h0M163 309h0M159 152h0M166 257h0M159 138h0M160 160h0M162 160h0M159 222h0M164 195h0M163 171h0M169 279h0M163 200h0M160 187h0M163 181h0M161 225h0M164 219h0M175 352h0M161 178h0M168 296h0M160 218h0M162 222h0M167 322h0M166 305h0M160 189h0M161 152h0M160 291h0M165 294h0M159 320h0M176 368h0M169 278h0M163 255h0M168 279h0M166 347h0M164 263h0M161 184h0M158 159h0M160 181h0M165 287h0M158 215h0M160 155h0M164 195h0M173 326h0M163 187h0M173 336h0M160 130h0M172 312h0M174 335h0M173 328h0M159 219h0M166 243h0M161 310h0M170 363h0M169 298h0M165 225h0M171 290h0M159 198h0M162 307h0M160 234h0M176 358h0M159 146h0M166 296h0M158 99h0M171 366h0M162 215h0M159 146h0M167 300h0M166 269h0M158 106h0M159 168h0M166 270h0M167 342h0M167 257h0M160 127h0M159 328h0M159 116h0M161 263h0M159 174h0M159 153h0M169 341h0M165 204h0M160 130h0M166 253h0M159 246h0M158 116h0M162 166h0M160 267h0M170 346h0M167 246h0M158 108h0M164 320h0M160 283h0M159 173h0M160 259h0M158 204h0M159 178h0M158 114h0M166 322h0M158 130h0M173 313h0M171 286h0M164 303h0M158 105h0M164 224h0M162 292h0M160 301h0M170 343h0M159 215h0M165 350h0M162 214h0M167 313h0M159 175h0M161 167h0M161 148h0M169 321h0M167 231h0M167 340h0M159 125h0M165 211h0M165 207h0M170 274h0M158 105h0M165 236h0M162 258h0M162 300h0M158 183h0M166 243h0M166 230h0M160 144h0M161 314h0M169 282h0M176 366h0M163 345h0M165 203h0M168 359h0M165 216h0M191 179h0M188 344h0M196 255h0M194 239h0M191 322h0M187 366h0M193 257h0M183 338h0M193 299h0M194 304h0M193 172h0M185 347h0M181 316h0M178 367h0M185 278h0M184 278h0M182 324h0M191 265h0M190 193h0M192 352h0M191 190h0M195 207h0M194 294h0M187 366h0M183 331h0M195 128h0M186 276h0M191 306h0M195 293h0M190 357h0M193 329h0M192 255h0M185 315h0M189 227h0M190 207h0M192 350h0M182 316h0M192 181h0M191 180h0M187 343h0M196 143h0M194 196h0M193 211h0M186 268h0M195 134h0M184 318h0M188 263h0M182 349h0M188 341h0M192 352h0M191 242h0M194 332h0M191 174h0M181 362h0M191 363h0M191 226h0M190 244h0M195 337h0M193 214h0M195 122h0M194 165h0M196 116h0M183 356h0M193 143h0M195 271h0M190 334h0M192 165h0M193 255h0M191 311h0M194 289h0M189 249h0M196 124h0M178 368h0M185 292h0M191 253h0M193 185h0M195 180h0M185 323h0M188 313h0M187 353h0M195 128h0M192 284h0M188 327h0M193 285h0M191 301h0M189 311h0M194 294h0M192 272h0M193 213h0M195 144h0M195 294h0M191 279h0M192 210h0M193 160h0M193 221h0M186 308h0M183 305h0M191 255h0M195 208h0M196 155h0M193 225h0M195 129h0M193 205h0M190 191h0M193 370h0M194 169h0M195 144h0M195 205h0M193 206h0M196 116h0M194 301h0M194 185h0M182 319h0M185 260h0M192 220h0M195 123h0M196 119h0M193 174h0M181 371h0M191 225h0M190 304h0M196 200h0M196 119h0M187 268h0M181 345h0M185 284h0M195 135h0M195 244h0M187 340h0M195 134h0M192 164h0M195 195h0M182 358h0M193 181h0M195 181h0M191 179h0M194 232h0M187 289h0M173 359h0M181 357h0M187 346h0M163 356h0M185 358h0M195 355h0M181 346h0M178 347h0M183 363h0M200 348h0M157 363h0M170 364h0M196 358h0M200 345h0M205 347h0M202 352h0M206 345h0M201 362h0M202 355h0M184 349h0M189 350h0M193 362h0M182 368h0M176 363h0M191 356h0M194 347h0M198 351h0M157 364h0M161 363h0M215 352h0M143 350h0M204 354h0M192 344h0M193 351h0M187 347h0M181 344h0M188 357h0M181 369h0M164 366h0M202 363h0M183 364h0M177 360h0M177 370h0M167 366h0M164 364h0M191 358h0M163 363h0M172 345h0M169 352h0M163 349h0M162 351h0M163 344h0M162 364h0M159 362h0M192 356h0M141 358h0M165 359h0M150 345h0M194 347h0M180 366h0M187 356h0M169 344h0M189 347h0M165 355h0M146 355h0M174 345h0M208 349h0M204 362h0M176 353h0M196 345h0M174 353h0M163 356h0M195 346h0M158 346h0M167 355h0M143 353h0M154 348h0M193 351h0M208 354h0M161 352h0M167 344h0M166 352h0M161 355h0M180 352h0M186 356h0M165 367h0M184 365h0M150 354h0M190 346h0M176 362h0M158 360h0M216 356h0M184 354h0M150 360h0M215 354h0M160 348h0M184 350h0M142 357h0M164 354h0M171 356h0M195 358h0M174 367h0M199 347h0M150 357h0M166 367h0M207 353h0M158 351h0M190 353h0M209 355h0M161 358h0M143 357h0M185 350h0M207 353h0M192 359h0M163 346h0M147 361h0M196 350h0M160 344h0M199 350h0M191 359h0M191 349h0M258 344h0M164 347h0M193 345h0M153 349h0M210 358h0M155 348h0M193 345h0M101 349h0M189 350h0M156 346h0M235 352h0M122 353h0M159 357h0M131 347h0M191 355h0M202 351h0M161 356h0M198 351h0M151 358h0M139 345h0M236 348h0M207 352h0M204 345h0M263 346h0M153 349h0M120 351h0M162 360h0M155 352h0M132 357h0M192 346h0M202 345h0M164 352h0M190 355h0M161 345h0M195 353h0M130 347h0M207 352h0M213 351h0M139 354h0M193 352h0M163 349h0M206 351h0M202 362h0M194 364h0M200 345h0M208 346h0M196 360h0M189 359h0M165 354h0M232 347h0M152 351h0M188 350h0M197 362h0M155 358h0M198 354h0M142 356h0M188 357h0M210 353h0M188 353h0M222 351h0M219 348h0M101 345h0M148 362h0M190 348h0M226 350h0M143 361h0M187 353h0M192 346h0M220 345h0M127 350h0M92 347h0M138 347h0M166 346h0M217 351h0M150 348h0M105 346h0M220 353h0M205 363h0M196 357h0M151 359h0M165 367h0M188 357h0M199 349h0M240 347h0M221 354h0M205 353h0M157 346h0M138 350h0M198 351h0M219 357h0M115 346h0M202 346h0M187 348h0M211 344h0M165 357h0M205 359h0M228 347h0"/>
<path stroke="#8D99AE" d="M165 237h0M171 298h0M159 295h0M175 343h0M167 228h0M166 261h0M161 239h0M163 200h0M166 280h0M169 296h0M171 296h0M173 354h0M161 348h0M170 296h0M168 289h0M168 294h0M166 294h0M159 122h0M165 216h0M159 115h0M169 316h0M160 239h0M164 253h0M164 353h0M162 336h0M175 365h0M166 294h0M158 198h0M164 217h0M168 328h0M158 270h0M160 183h0M165 334h0M164 357h0M159 321h0M161 305h0M163 232h0M159 121h0M165 213h0M160 166h0M162 296h0M159 213h0M162 217h0M163 177h0M174 360h0M160 228h0M161 303h0M162 195h0M171 303h0M163 205h0M168 273h0M162 293h0M163 219h0M161 230h0M163 205h0M163 345h0M158 299h0M162 183h0M167 300h0M171 343h0M168 309h0M162 268h0M159 208h0M161 235h0M161 160h0M165 329h0M166 354h0M164 245h0M164 337h0M173 336h0M161 201h0M163 359h0M164 203h0M159 156h0M158 110h0M163 286h0M160 233h0M175 341h0M160 145h0M159 136h0M158 109h0M164 197h0M159 113h0M166 335h0M164 318h0M163 279h0M173 314h0M169 363h0M164 197h0M158 137h0M158 215h0M159 133h0M166 274h0M165 219h0M166 252h0M159 291h0M158 109h0M165 270h0M168 268h0M159 135h0M165 247h0M159 146h0M159 339h0M161 252h0M161 188h0M169 295h0M161 260h0M176 363h0M164 206h0M163 345h0M160 157h0M170 363h0M159 289h0M160 231h0M167 259h0M168 312h0M163 231h0M161 290h0M171 289h0M160 335h0M159 155h0M171 312h0M163 292h0M162 211h0M160 169h0M159 292h0M171 351h0M175 351h0M163 229h0M176 359h0M166 326h0M162 287h0M167 307h0M159 244h0M164 340h0M163 244h0M162 242h0M159 160h0M161 183h0M170 328h0M159 168h0M161 293h0M159 120h0M176 362h0M159 293h0M164 220h0M159 265h0M159 178h0M163 319h0M163 272h0M172 353h0M170 269h0M158 99h0M161 352h0M162 316h0M160 148h0M158 185h0M162 197h0M159 332h0M166 239h0M158 100h0M159 357h0M161 151h0M164 211h0M163 253h0M162 336h0M167 352h0M162 278h0M159 161h0M166 220h0M165 221h0M162 292h0M160 151h0M158 324h0M185 284h0M187 337h0M190 331h0M185 262h0M196 148h0M193 147h0M180 350h0M180 358h0M194 266h0M189 213h0M187 341h0M189 205h0M190 352h0M194 132h0M190 209h0M192 191h0M184 283h0M193 206h0M190 198h0M195 207h0M183 346h0M181 339h0M190 276h0M195 125h0M193 270h0M185 293h0M191 188h0M190 239h0M193 162h0M179 342h0M191 181h0M183 299h0M182 305h0M195 275h0M191 368h0M195 203h0M187 332h0M194 144h0M196 318h0M192 301h0M194 218h0M192 302h0M194 157h0M182 330h0M194 200h0M182 367h0M193 196h0M191 319h0M195 234h0M185 371h0M193 197h0M195 188h0M184 339h0M194 169h0M179 353h0M184 288h0M193 326h0M190 193h0M187 319h0M183 340h0M192 284h0M189 239h0M190 258h0M192 263h0M191 301h0M184 328h0M184 345h0M186 283h0M191 189h0M190 240h0M189 227h0M184 359h0M193 282h0M187 325h0M189 269h0M189 250h0M193 156h0M194 173h0M187 289h0M181 353h0M194 174h0M191 336h0M195 121h0M194 134h0M194 136h0M194 336h0M193 192h0M186 296h0M189 285h0M185 309h0M189 360h0M186 255h0M193 230h0M194 142h0M195 119h0M192 288h0M187 283h0M195 117h0M186 274h0M181 361h0M191 367h0M196 170h0M194 256h0M194 230h0M196 236h0M191 231h0M183 369h0M184 337h0M187 296h0M196 146h0M189 243h0M193 272h0M192 164h0M192 311h0M189 226h0M186 290h0M178 371h0M191 236h0M191 334h0M184 345h0M192 166h0M184 354h0M195 249h0M183 318h0M194 239h0M188 235h0M188 356h0M184 354h0M194 244h0M185 314h0M196 120h0M195 220h0M191 204h0M192 212h0M191 335h0M190 214h0M192 243h0M191 272h0M180 362h0M189 263h0M194 207h0M194 354h0M185 287h0M184 285h0M192 304h0M192 206h0M194 151h0M195 273h0M194 181h0M190 197h0M190 299h0M194 146h0M195 339h0M190 334h0M195 119h0M186 306h0M189 348h0M195 226h0M192 257h0M186 302h0M188 285h0M192 341h0M194 204h0M196 185h0M187 314h0M193 185h0M195 126h0M194 345h0M161 355h0M208 351h0M195 366h0M158 352h0M187 365h0M183 367h0M166 351h0M184 353h0M202 351h0M180 357h0M156 352h0M185 357h0M182 366h0M186 353h0M164 362h0M188 343h0M147 361h0M178 344h0M158 359h0M202 356h0M165 344h0M167 354h0M187 350h0M153 345h0M186 368h0M162 354h0M167 345h0M169 346h0M161 358h0M173 363h0M136 354h0M160 364h0M177 358h0M185 358h0M198 358h0M158 344h0M174 350h0M156 361h0M158 345h0M189 354h0M174 370h0M186 368h0M167 359h0M161 358h0M159 355h0M179 355h0M163 346h0M188 346h0M160 348h0M167 357h0M197 354h0M178 360h0M135 344h0M210 356h0M180 346h0M167 357h0M196 363h0M179 370h0M164 353h0M186 357h0M177 367h0M195 364h0M196 360h0M174 357h0M189 360h0M171 363h0M161 359h0M172 368h0M177 349h0M178 345h0M172 359h0M174 352h0M154 345h0M172 350h0M176 370h0M174 366h0M181 348h0M182 360h0M181 347h0M195 345h0M154 350h0M210 345h0M209 351h0M175 357h0M175 345h0M196 358h0M184 345h0M174 359h0M152 360h0M203 362h0M189 354h0M201 351h0M152 348h0M206 358h0M174 359h0M187 364h0M196 349h0M199 354h0M173 365h0M165 362h0M186 345h0M186 344h0M175 367h0M192 364h0M158 362h0M187 351h0M136 355h0M175 363h0M181 355h0M190 345h0M173 368h0M161 362h0M205 346h0M180 352h0M187 348h0M173 346h0M161 344h0M193 351h0M173 346h0M192 347h0M198 359h0M191 352h0M181 348h0M198 347h0M206 351h0M128 351h0M204 361h0M204 361h0M162 352h0M189 346h0M218 359h0M193 347h0M188 360h0M152 347h0M211 347h0M156 362h0M147 353h0M191 361h0M150 349h0M192 364h0M189 358h0M206 357h0M207 349h0M142 357h0M157 349h0M216 353h0M162 362h0M204 354h0M103 346h0M160 363h0M160 346h0M122 348h0M157 350h0M144 361h0M165 360h0M198 351h0M148 358h0M192 348h0M153 347h0M197 347h0M247 346h0M92 345h0M223 345h0M200 355h0M191 346h0M198 357h0M145 345h0M191 363h0M202 357h0M156 345h0M149 359h0M154 347h0M142 345h0M211 352h0M191 354h0M162 348h0M210 345h0M162 358h0M132 349h0M234 347h0M203 352h0M163 355h0M208 355h0M120 345h0M134 348h0M261 345h0M207 354h0M191 354h0M98 345h0M229 345h0M141 348h0M146 345h0M212 349h0M189 350h0M213 355h0M199 349h0M193 345h0M188 348h0M146 350h0M194 363h0M196 348h0M203 353h0M167 353h0M207 346h0M90 345h0M162 359h0M125 346h0M147 349h0M194 354h0M148 354h0M210 350h0M198 358h0M202 344h0M145 348h0M203 349h0M144 353h0M158 348h0M198 355h0M160 357h0M216 353h0M215 350h0M189 353h0M187 346h0M202 347h0M164 352h0M153 350h0M201 364h0M131 350h0M225 350h0M146 353h0M125 351h0M131 345h0M147 350h0M229 354h0M159 82h0"/>
<path stroke="#8D99AE" d="M161 368h0M159 368h0M165 271h0M164 303h0M158 140h0M163 329h0M164 239h0M159 126h0M166 330h0M172 336h0M160 272h0M163 183h0M167 240h0M161 290h0M174 362h0M159 137h0M164 208h0M163 320h0M167 340h0M162 294h0M161 167h0M173 358h0M161 346h0M165 208h0M169 309h0M171 296h0M163 215h0M168 364h0M170 313h0M167 328h0M160 163h0M159 222h0M158 196h0M159 128h0M158 127h0M164 187h0M161 164h0M160 144h0M164 200h0M158 151h0M162 264h0M164 277h0M160 208h0M163 184h0M163 182h0M173 354h0M159 189h0M167 227h0M165 253h0M163 258h0M167 291h0M165 366h0M159 115h0M170 365h0M173 327h0M170 298h0M161 175h0M158 115h0M158 274h0M160 169h0M164 216h0M175 365h0M158 172h0M158 182h0M168 277h0M162 336h0M163 265h0M164 229h0M160 192h0M163 183h0M159 246h0M169 264h0M172 326h0M161 278h0M171 321h0M160 228h0M161 204h0M159 191h0M166 264h0M164 368h0M160 156h0M158 109h0M158 105h0M158 195h0M160 200h0M160 182h0M163 195h0M168 275h0M164 294h0M158 207h0M170 337h0M173 322h0M159 145h0M164 203h0M169 267h0M162 226h0M160 175h0M158 224h0M173 353h0M166 240h0M171 327h0M163 186h0M159 328h0M166 236h0M167 288h0M164 322h0M160 321h0M169 345h0M163 232h0M159 146h0M165 280h0M169 314h0M166 327h0M160 150h0M160 153h0M160 331h0M163 237h0M171 321h0M158 144h0M160 186h0M160 318h0M169 297h0M165 238h0M162 169h0M164 188h0M161 168h0M165 257h0M164 266h0M166 241h0M163 357h0M160 154h0M162 289h0M159 116h0M160 340h0M159 351h0M163 255h0M162 268h0M161 171h0M169 294h0M160 182h0M175 347h0M158 104h0M160 186h0M171 337h0M159 125h0M164 186h0M169 296h0M160 335h0M164 325h0M168 347h0M167 320h0M159 260h0M165 217h0M160 159h0M159 313h0M172 339h0M166 361h0M161 183h0M161 142h0M166 243h0M160 190h0M159 137h0M163 190h0M159 139h0M158 153h0M167 335h0M160 144h0M159 188h0M159 163h0M160 265h0M193 141h0M189 258h0M195 323h0M195 170h0M181 351h0M195 145h0M185 358h0M188 273h0M188 308h0M191 351h0M193 213h0M193 216h0M179 366h0M195 284h0M186 367h0M183 356h0M194 145h0M194 135h0M183 337h0M193 286h0M191 236h0M194 267h0M194 201h0M192 215h0M192 195h0M195 129h0M184 282h0M192 215h0M193 193h0M191 329h0M196 137h0M183 294h0M184 280h0M193 165h0M190 206h0M195 141h0M193 320h0M188 350h0M192 160h0M189 233h0M193 188h0M183 357h0M187 365h0M190 233h0M190 320h0M193 220h0M193 165h0M182 326h0M193 290h0M186 270h0M188 221h0M189 286h0M194 345h0M195 140h0M185 261h0M188 261h0M181 336h0M182 306h0M196 121h0M189 326h0M194 148h0M191 300h0M187 272h0M194 131h0M196 135h0M187 315h0M186 346h0M193 283h0M195 221h0M186 371h0M187 342h0M195 140h0M195 284h0M194 137h0M180 337h0M192 289h0M191 183h0M185 318h0M194 153h0M186 267h0M192 319h0M195 208h0M191 252h0M185 305h0M192 186h0M183 364h0M183 319h0M193 182h0M195 367h0M191 297h0M188 269h0M191 330h0M194 165h0M190 348h0M195 197h0M189 286h0M192 279h0M194 185h0M188 285h0M195 157h0M180 340h0M194 181h0M188 217h0M186 294h0M192 199h0M191 174h0M188 334h0M188 258h0M187 260h0M186 317h0M187 233h0M189 281h0M192 181h0M193 274h0M192 306h0M189 345h0M194 283h0M188 348h0M195 298h0M195 138h0M194 191h0M187 282h0M184 270h0M194 265h0M194 265h0M193 179h0M187 308h0M194 232h0M195 219h0M195 287h0M192 199h0M192 295h0M187 347h0M195 115h0M182 332h0M191 176h0M188 264h0M191 217h0M192 161h0M191 316h0M194 155h0M195 208h0M189 300h0M193 206h0M183 345h0M192 168h0M194 271h0M187 262h0M190 251h0M194 146h0M190 224h0M187 264h0M161 361h0M166 359h0M151 346h0M188 352h0M172 345h0M164 352h0M173 363h0M169 349h0M176 355h0M156 357h0M151 356h0M174 345h0M171 367h0M172 348h0M189 358h0M165 353h0M182 351h0M172 368h0M162 357h0M183 369h0M194 358h0M146 359h0M196 359h0M192 360h0M174 369h0M202 357h0M179 344h0M189 362h0M159 350h0M200 363h0M182 361h0M200 345h0M206 362h0M185 360h0M153 345h0M170 350h0M179 347h0M162 354h0M169 358h0M179 356h0M172 363h0M199 348h0M177 351h0M208 345h0M180 350h0M162 351h0M172 346h0M206 357h0M146 346h0M173 346h0M178 351h0M187 366h0M186 344h0M195 361h0M160 355h0M166 350h0M161 358h0M166 360h0M175 356h0M170 354h0M166 350h0M158 352h0M175 347h0M164 359h0M210 358h0M166 364h0M204 344h0M168 347h0M177 352h0M164 353h0M217 353h0M152 350h0M151 346h0M161 352h0M150 344h0M184 347h0M195 344h0M170 360h0M210 355h0M210 355h0M174 365h0M216 349h0M187 343h0M186 351h0M198 364h0M189 351h0M208 354h0M160 358h0M207 358h0M183 358h0M166 364h0M149 354h0M198 364h0M190 354h0M200 352h0M155 362h0M171 360h0M176 351h0M154 350h0M179 347h0M161 351h0M192 349h0M160 357h0M179 350h0M148 354h0M184 357h0M188 348h0M161 359h0M159 349h0M168 367h0M179 362h0M154 361h0M173 364h0M181 369h0M200 347h0M165 346h0M193 357h0M193 346h0M128 345h0M207 349h0M166 358h0M119 349h0M131 345h0M203 347h0M229 349h0M156 349h0M190 354h0M213 355h0M215 349h0M228 346h0M161 355h0M160 357h0M222 348h0M236 351h0M264 345h0M164 346h0M211 349h0M152 347h0M164 348h0M127 347h0M195 348h0M166 357h0M205 351h0M203 349h0M190 353h0M131 350h0M218 350h0M240 347h0M205 354h0M156 358h0M218 354h0M253 346h0M207 352h0M162 359h0M162 351h0M134 350h0M224 354h0M100 348h0M157 353h0M217 352h0M157 355h0M144 360h0M160 355h0M209 359h0M144 356h0M158 354h0M146 350h0M149 345h0M188 363h0M164 345h0M204 358h0M161 358h0M133 352h0M134 351h0M227 348h0M210 353h0M188 356h0M203 351h0M194 354h0M129 356h0M166 350h0M206 355h0M166 349h0M165 353h0M218 348h0M187 357h0M130 354h0M193 352h0M142 345h0M196 357h0M153 346h0M157 359h0M163 350h0M142 360h0M140 351h0M167 353h0M155 346h0M105 346h0M162 349h0M157 346h0M162 353h0M166 361h0M247 350h0M210 354h0M188 362h0M195 349h0M132 347h0M121 352h0M213 352h0M219 358h0M99 345h0M222 350h0M157 353h0M164 348h0M164 362h0M166 352h0M128 350h0M193 350h0M231 349h0M150 348h0M165 360h0M158 363h0M160 68h0"/>
</svg>
<svg x="248.30" y="14.90" width="171.60" height="194.50" viewBox="0 0 343.20 389.00">
<path stroke="#5B8FF9" d="M208 67h0"/>
<path stroke="#5B8FF9" d="M202 18h0"/>
<path stroke="#5B8FF9" d="M206 161h0"/>
<path stroke="#5B8FF9" d="M198 74h0M213 100h0M203 106h0"/>
<path stroke="#5B8FF9" d="M217 18h0M209 74h0M288 173h0"/>
<path stroke="#8D99AE" d="M167 347h0M162 308h0M172 305h0M184 295h0M198 356h0M183 318h0M189 336h0M192 282h0M168 331h0M188 328h0M172 307h0M161 337h0M165 360h0M202 353h0M177 294h0M191 344h0M181 319h0M173 298h0M198 350h0M176 356h0M179 364h0M188 362h0M164 333h0M163 348h0M173 296h0M179 283h0M184 354h0M166 346h0M186 275h0M164 322h0M173 278h0M182 307h0M193 351h0M185 289h0M178 306h0M174 357h0M191 360h0M177 341h0M184 324h0M162 357h0M179 351h0M161 336h0M181 368h0M176 298h0M168 350h0M192 347h0M164 340h0M177 307h0M171 309h0M174 356h0M171 326h0M170 278h0M187 306h0M182 324h0M193 314h0M189 347h0M157 337h0M192 288h0M180 278h0M184 311h0M160 341h0M178 277h0M163 335h0M175 310h0M167 351h0M171 338h0M164 350h0M162 358h0M175 330h0M171 307h0M173 337h0M187 326h0M171 310h0M193 353h0M189 330h0M187 278h0M182 277h0M181 357h0M172 365h0M188 288h0M171 340h0M195 363h0M181 336h0M188 360h0M182 273h0M187 361h0M160 357h0M172 288h0M186 340h0M179 267h0M162 325h0M170 337h0M175 350h0M180 318h0M187 356h0M177 292h0M165 298h0M193 344h0M188 353h0M178 346h0M167 333h0M169 292h0M176 283h0M169 311h0M187 286h0M175 274h0M177 330h0M174 352h0M193 326h0M188 327h0M165 328h0M189 277h0M169 339h0M159 322h0M177 328h0M164 310h0M181 313h0M170 330h0M168 325h0M194 341h0M179 342h0M182 318h0M175 310h0M193 286h0M175 288h0M172 302h0M178 352h0M170 351h0M187 297h0M179 345h0M182 307h0M180 368h0M173 348h0M172 341h0M157 333h0M175 334h0M189 349h0M187 358h0M182 358h0M182 320h0M166 339h0M166 327h0M171 343h0M170 299h0M177 308h0M181 298h0M185 334h0M182 362h0M164 330h0M185 347h0M182 303h0M178 345h0M174 341h0M221 310h0M177 354h0M198 314h0M195 363h0M150 322h0M159 363h0M182 343h0M180 350h0M160 313h0M190 297h0M175 350h0M178 349h0M180 312h0M195 348h0M192 351h0M227 287h0M190 316h0M199 335h0M180 309h0M201 299h0M235 334h0M178 346h0M178 351h0M206 332h0M168 355h0M185 351h0M200 364h0M171 310h0M189 347h0M181 341h0M166 343h0M148 353h0M179 338h0M206 336h0M216 342h0M157 330h0M175 363h0M184 335h0M169 351h0M182 320h0M193 313h0M199 323h0M168 359h0M163 333h0M162 309h0M189 327h0M176 366h0M176 329h0M187 327h0M149 322h0M130 340h0M150 337h0M173 325h0M211 334h0M178 358h0M205 361h0M180 308h0M187 339h0M136 313h0M178 346h0M154 362h0M157 305h0M185 343h0M193 320h0M161 312h0M144 319h0M181 317h0M184 365h0M179 329h0M182 335h0M137 353h0M130 317h0M170 329h0M212 349h0M171 317h0M214 324h0M185 333h0M171 355h0M192 333h0M165 305h0M158 337h0M172 365h0M192 319h0M175 323h0M176 368h0M169 355h0M176 356h0M187 350h0M178 345h0M182 367h0M180 306h0M192 280h0M188 269h0M177 280h0M173 230h0M201 299h0M183 257h0M186 259h0M172 278h0M181 236h0M183 221h0M192 237h0M184 271h0M181 289h0M180 262h0M181 207h0M194 230h0M193 260h0M184 241h0M165 234h0M182 244h0M209 204h0M189 208h0M250 284h0M104 283h0M218 241h0M241 252h0M251 287h0"/>
<path stroke="#8D99AE" d="M189 346h0M180 316h0M180 349h0M190 311h0M178 369h0M159 344h0M170 342h0M184 277h0M187 354h0M197 344h0M169 301h0M190 328h0M175 355h0M175 352h0M176 349h0M196 333h0M172 312h0M191 314h0M185 295h0M178 329h0M180 297h0M183 306h0M188 320h0M184 322h0M162 330h0M185 314h0M164 301h0M184 353h0M187 305h0M187 286h0M170 280h0M194 364h0M191 308h0M166 286h0M186 314h0M182 343h0M180 318h0M170 303h0M185 347h0M166 305h0M170 346h0M184 306h0M194 313h0M167 318h0M173 324h0M183 365h0M168 286h0M167 297h0M169 343h0M184 315h0M161 346h0M172 318h0M185 285h0M179 335h0M162 307h0M198 363h0M175 332h0M184 341h0M192 340h0M168 331h0M179 355h0M192 332h0M183 356h0M181 363h0M171 325h0M168 345h0M177 274h0M188 329h0M171 310h0M184 282h0M166 329h0M175 362h0M191 321h0M181 365h0M180 345h0M187 362h0M190 345h0M178 361h0M169 310h0M185 364h0M186 305h0M159 341h0M160 319h0M189 367h0M162 361h0M178 365h0M186 343h0M181 325h0M196 339h0M159 357h0M181 297h0M189 309h0M189 327h0M166 335h0M194 340h0M195 358h0M167 348h0M171 346h0M187 325h0M182 357h0M170 327h0M163 311h0M166 283h0M184 282h0M183 286h0M166 366h0M177 362h0M169 333h0M175 273h0M178 353h0M176 353h0M195 308h0M163 320h0M181 352h0M183 288h0M191 331h0M184 337h0M188 366h0M189 363h0M175 306h0M176 307h0M173 292h0M169 361h0M158 346h0M185 352h0M188 297h0M184 351h0M156 343h0M178 356h0M169 365h0M182 345h0M163 357h0M196 297h0M159 328h0M168 289h0M171 295h0M183 338h0M196 324h0M178 327h0M176 325h0M171 359h0M198 327h0M167 285h0M164 340h0M194 300h0M188 347h0M163 358h0M184 297h0M171 298h0M192 359h0M163 329h0M172 326h0M187 329h0M185 361h0M182 312h0M162 340h0M175 324h0M179 331h0M159 362h0M189 322h0M174 321h0M200 361h0M188 309h0M166 296h0M178 285h0M188 347h0M164 350h0M171 289h0M165 291h0M177 305h0M199 343h0M178 298h0M189 274h0M199 346h0M199 345h0M184 311h0M170 343h0M168 367h0M179 315h0M186 303h0M201 335h0M194 321h0M180 353h0M187 356h0M143 348h0M182 323h0M124 316h0M179 343h0M215 320h0M157 342h0M179 342h0M198 352h0M188 329h0M167 344h0M227 348h0M203 322h0M209 354h0M195 324h0M190 331h0M196 331h0M142 339h0M176 344h0M194 330h0M206 321h0M192 360h0M160 337h0M209 343h0M166 347h0M163 301h0M187 350h0M199 349h0M197 352h0M205 349h0M175 355h0M173 337h0M198 328h0M189 356h0M154 333h0M215 343h0M178 348h0M188 338h0M179 316h0M151 341h0M170 329h0M138 302h0M183 348h0M173 328h0M195 300h0M174 328h0M180 317h0M157 318h0M153 289h0M180 307h0M219 341h0M155 328h0M241 348h0M236 288h0M253 341h0M190 302h0M187 316h0M215 328h0M193 325h0M185 354h0M172 296h0M204 362h0M118 350h0M176 313h0M179 302h0M174 358h0M198 339h0M181 326h0M217 339h0M207 287h0M200 355h0M181 331h0M132 341h0M184 333h0M168 346h0M159 346h0M193 359h0M178 301h0M197 313h0M180 326h0M167 309h0M190 323h0M167 329h0M178 354h0M159 360h0M170 351h0M132 348h0M178 333h0M188 310h0M163 302h0M173 343h0M177 340h0M186 347h0M168 208h0M183 298h0M192 228h0M169 240h0M174 314h0M190 263h0M192 256h0M186 295h0M185 287h0M181 199h0M174 217h0M188 247h0M190 222h0M187 241h0M182 256h0M165 264h0M163 219h0M91 247h0M263 255h0M218 225h0"/>
<path stroke="#8D99AE" d="M192 285h0M177 310h0M194 299h0M176 271h0M167 335h0M192 314h0M177 311h0M172 341h0M193 357h0M177 285h0M158 359h0M182 328h0M190 296h0M192 297h0M179 356h0M175 358h0M183 359h0M172 281h0M175 268h0M177 326h0M179 311h0M180 337h0M167 317h0M177 343h0M179 316h0M182 330h0M181 326h0M172 303h0M187 306h0M187 357h0M173 329h0M184 302h0M200 346h0M173 346h0M179 366h0M195 298h0M184 279h0M172 365h0M156 350h0M169 340h0M201 344h0M161 313h0M181 344h0M184 279h0M180 358h0M177 278h0M184 367h0M195 317h0M181 304h0M184 298h0M164 331h0M182 330h0M173 366h0M191 364h0M182 332h0M172 297h0M175 273h0M165 350h0M180 271h0M197 311h0M178 277h0M191 281h0M183 366h0M167 305h0M158 345h0M170 274h0M178 369h0M167 332h0M177 366h0M185 350h0M181 347h0M181 287h0M187 300h0M168 328h0M195 363h0M175 267h0M171 363h0M180 335h0M158 326h0M180 304h0M169 327h0M176 306h0M163 348h0M191 315h0M171 310h0M179 338h0M159 354h0M176 300h0M172 342h0M167 353h0M180 355h0M185 356h0M179 344h0M179 368h0M187 318h0M185 333h0M179 362h0M190 299h0M165 338h0M193 355h0M184 324h0M178 359h0M174 303h0M183 340h0M188 305h0M177 287h0M170 339h0M173 293h0M180 353h0M175 303h0M191 334h0M170 351h0M168 315h0M160 327h0M196 351h0M178 347h0M183 274h0M165 332h0M196 311h0M182 331h0M164 360h0M170 292h0M187 353h0M162 313h0M200 338h0M172 359h0M193 358h0M174 288h0M202 349h0M190 359h0M176 305h0M167 282h0M174 355h0M157 358h0M197 310h0M196 354h0M179 302h0M187 316h0M180 358h0M185 348h0M164 337h0M190 367h0M171 326h0M188 320h0M177 360h0M190 299h0M165 300h0M193 355h0M173 364h0M189 276h0M188 353h0M178 320h0M186 287h0M192 358h0M171 297h0M176 352h0M170 361h0M172 337h0M176 363h0M197 316h0M183 368h0M183 363h0M188 291h0M177 304h0M193 308h0M185 369h0M166 361h0M160 326h0M184 284h0M171 327h0M174 343h0M161 345h0M177 324h0M165 322h0M172 277h0M186 304h0M165 315h0M169 274h0M166 322h0M177 325h0M181 351h0M179 315h0M179 362h0M189 320h0M186 347h0M173 347h0M181 370h0M200 333h0M192 361h0M196 342h0M192 312h0M178 335h0M170 336h0M186 366h0M159 362h0M193 350h0M198 318h0M171 355h0M180 344h0M170 309h0M187 329h0M180 300h0M177 341h0M175 335h0M195 309h0M168 347h0M164 363h0M196 305h0M171 348h0M172 295h0M196 333h0M154 312h0M182 365h0M184 336h0M198 320h0M173 318h0M200 315h0M212 359h0M201 324h0M178 300h0M165 360h0M156 307h0M183 360h0M173 307h0M164 344h0M196 298h0M184 355h0M178 365h0M174 354h0M197 357h0M170 333h0M209 329h0M209 304h0M165 295h0M181 323h0M183 358h0M121 290h0M165 356h0M182 353h0M198 284h0M168 313h0M169 330h0M194 317h0M169 310h0M161 307h0M145 347h0M157 361h0M124 341h0M164 341h0M204 290h0M160 326h0M181 325h0M177 351h0M174 348h0M161 312h0M174 363h0M195 351h0M124 339h0M178 302h0M166 335h0M180 338h0M171 294h0M183 363h0M138 327h0M163 318h0M165 332h0M165 361h0M183 350h0M184 319h0M184 309h0M178 346h0M138 303h0M148 334h0M214 358h0M147 318h0M200 344h0M176 327h0M177 284h0M147 337h0M180 349h0M181 322h0M231 351h0M152 338h0M161 347h0M177 305h0M178 359h0M166 326h0M151 360h0M174 352h0M179 365h0M168 343h0M206 317h0M182 221h0M165 239h0M183 188h0M188 273h0M200 229h0M184 310h0M176 287h0M183 355h0M185 348h0M185 213h0M181 252h0M166 258h0M186 285h0M175 253h0M185 347h0M190 310h0M180 247h0M167 197h0M179 346h0M182 226h0M187 363h0M187 347h0M199 320h0M183 246h0M178 256h0M184 20h0M170 115h0M184 133h0M77 331h0M242 242h0M265 294h0M257 291h0M115 287h0"/>
<path stroke="#8D99AE" d="M186 333h0M186 304h0M176 309h0M184 353h0M171 329h0M176 339h0M187 311h0M176 361h0M187 361h0M167 335h0M173 325h0M183 321h0M191 357h0M181 271h0M168 355h0M186 277h0M194 362h0M185 350h0M173 335h0M178 315h0M157 346h0M177 268h0M179 338h0M168 302h0M174 331h0M188 326h0M201 361h0M177 313h0M186 305h0M178 337h0M186 352h0M159 350h0M171 289h0M186 325h0M183 282h0M169 332h0M188 335h0M190 315h0M177 281h0M169 350h0M198 327h0M177 286h0M190 300h0M180 323h0M191 345h0M185 301h0M170 293h0M164 345h0M186 312h0M168 356h0M190 310h0M168 303h0M182 282h0M178 268h0M189 336h0M196 363h0M176 342h0M175 342h0M178 312h0M164 344h0M175 278h0M184 320h0M181 356h0M201 359h0M178 301h0M164 315h0M187 287h0M169 356h0M168 341h0M200 353h0M183 355h0M184 283h0M202 357h0M188 277h0M185 269h0M199 362h0M179 360h0M180 319h0M178 348h0M186 312h0M189 286h0M170 365h0M174 337h0M176 353h0M179 275h0M181 349h0M186 368h0M161 359h0M174 366h0M175 339h0M157 341h0M179 321h0M200 362h0M180 318h0M180 303h0M166 295h0M185 298h0M185 341h0M197 363h0M182 289h0M172 323h0M188 310h0M190 350h0M172 305h0M184 298h0M171 363h0M182 322h0M162 311h0M168 302h0M174 354h0M197 307h0M181 314h0M177 341h0M179 350h0M168 317h0M178 328h0M173 302h0M174 352h0M177 322h0M176 361h0M172 356h0M197 361h0M189 303h0M158 358h0M182 318h0M191 327h0M178 285h0M169 354h0M178 332h0M187 320h0M176 273h0M176 368h0M172 335h0M167 312h0M185 342h0M192 347h0M184 292h0M186 271h0M182 345h0M186 361h0M168 359h0M193 348h0M175 334h0M167 285h0M181 335h0M173 297h0M191 298h0M168 345h0M175 335h0M191 349h0M178 337h0M171 295h0M178 357h0M197 323h0M183 282h0M171 360h0M190 327h0M180 299h0M178 360h0M172 319h0M183 355h0M194 318h0M178 329h0M176 314h0M180 331h0M191 361h0M194 361h0M173 297h0M172 350h0M178 288h0M182 270h0M177 285h0M225 314h0M193 337h0M177 292h0M197 365h0M176 365h0M186 367h0M191 291h0M203 307h0M129 302h0M161 310h0M179 339h0M192 321h0M182 330h0M154 328h0M178 353h0M190 364h0M185 308h0M173 336h0M210 346h0M171 343h0M136 328h0M179 344h0M180 356h0M174 293h0M209 353h0M179 357h0M188 336h0M178 368h0M157 336h0M145 351h0M160 324h0M167 343h0M192 359h0M148 318h0M187 358h0M184 353h0M140 347h0M201 293h0M178 359h0M183 337h0M178 331h0M185 313h0M181 337h0M166 327h0M175 348h0M188 345h0M168 327h0M164 355h0M199 306h0M186 311h0M193 326h0M191 334h0M172 287h0M178 358h0M167 347h0M164 326h0M182 321h0M169 330h0M157 363h0M181 317h0M157 361h0M222 330h0M153 335h0M173 340h0M196 362h0M180 359h0M112 315h0M187 357h0M168 314h0M167 302h0M144 346h0M181 361h0M178 340h0M170 312h0M210 330h0M133 305h0M106 343h0M187 330h0M210 356h0M180 313h0M173 355h0M161 353h0M210 353h0M177 364h0M174 350h0M130 323h0M177 343h0M240 344h0M191 339h0M176 340h0M184 344h0M162 304h0M200 328h0M188 260h0M182 207h0M183 228h0M173 195h0M188 287h0M175 205h0M185 318h0M185 265h0M185 280h0M177 238h0M166 239h0M188 269h0M189 296h0M188 312h0M170 354h0M201 268h0M182 210h0M160 294h0M174 252h0M172 301h0M178 202h0M200 251h0M209 236h0M195 18h0M189 129h0M100 319h0"/>
<path stroke="#8D99AE" d="M177 346h0M175 348h0M172 364h0M175 321h0M202 362h0M178 369h0M192 363h0M190 309h0M176 334h0M179 326h0M174 330h0M169 353h0M184 309h0M199 345h0M177 356h0M176 315h0M196 338h0M186 324h0M170 358h0M185 327h0M183 336h0M174 310h0M172 308h0M181 278h0M180 282h0M184 277h0M196 316h0M173 337h0M171 287h0M194 309h0M170 333h0M186 364h0M165 359h0M164 356h0M166 333h0M186 351h0M178 278h0M190 332h0M191 348h0M172 303h0M171 307h0M173 311h0M183 333h0M167 324h0M179 347h0M175 328h0M181 362h0M189 302h0M185 335h0M163 317h0M160 356h0M185 346h0M180 364h0M168 339h0M194 363h0M191 344h0M165 332h0M179 269h0M188 356h0M184 355h0M178 356h0M187 297h0M170 307h0M166 307h0M185 346h0M186 352h0M179 331h0M192 302h0M171 336h0M171 350h0M170 317h0M171 331h0M187 301h0M200 362h0M161 324h0M198 339h0M179 322h0M179 362h0M195 340h0M162 333h0M184 350h0M179 319h0M167 355h0M165 362h0M172 366h0M166 285h0M180 272h0M190 328h0M184 365h0M185 311h0M178 312h0M171 357h0M184 364h0M174 356h0M191 303h0M177 334h0M170 356h0M168 361h0M178 311h0M181 298h0M175 360h0M165 362h0M167 366h0M170 361h0M162 354h0M184 334h0M196 358h0M166 353h0M196 344h0M187 346h0M156 358h0M184 320h0M163 358h0M193 303h0M181 368h0M160 359h0M170 366h0M164 310h0M188 355h0M183 290h0M181 369h0M192 306h0M157 352h0M180 332h0M163 307h0M177 332h0M201 335h0M178 350h0M160 338h0M173 338h0M163 303h0M167 366h0M183 324h0M165 360h0M192 336h0M177 287h0M180 277h0M193 330h0M168 294h0M195 347h0M169 336h0M174 366h0M178 363h0M189 355h0M173 364h0M164 364h0M201 344h0M187 338h0M160 338h0M193 342h0M195 345h0M173 358h0M193 345h0M172 340h0M189 364h0M187 352h0M170 356h0M179 367h0M170 362h0M189 329h0M191 326h0M162 362h0M179 314h0M180 341h0M189 301h0M163 326h0M181 266h0M192 343h0M189 297h0M188 359h0M179 318h0M169 365h0M197 348h0M157 348h0M189 332h0M174 277h0M171 351h0M162 313h0M168 345h0M181 326h0M181 287h0M180 359h0M175 340h0M184 327h0M181 318h0M193 352h0M163 340h0M190 339h0M186 334h0M167 327h0M174 350h0M244 319h0M181 350h0M165 326h0M184 358h0M193 313h0M121 320h0M186 342h0M226 341h0M190 322h0M184 318h0M173 355h0M161 320h0M126 337h0M180 325h0M170 330h0M179 351h0M177 354h0M207 340h0M215 339h0M187 347h0M197 365h0M189 284h0M161 326h0M150 320h0M178 336h0M198 338h0M159 321h0M167 347h0M183 333h0M190 364h0M182 352h0M165 321h0M181 355h0M195 337h0M168 324h0M219 347h0M170 345h0M214 344h0M170 323h0M180 364h0M170 332h0M169 347h0M196 328h0M178 360h0M161 311h0M176 356h0M179 336h0M194 365h0M156 303h0M186 331h0M195 361h0M180 346h0M186 355h0M175 321h0M117 313h0M196 363h0M177 363h0M171 336h0M190 332h0M193 301h0M173 350h0M218 306h0M191 364h0M183 309h0M178 351h0M194 313h0M180 304h0M166 337h0M154 361h0M190 288h0M148 360h0M187 329h0M199 353h0M188 313h0M184 359h0M176 305h0M179 367h0M186 353h0M222 311h0M159 359h0M174 337h0M148 358h0M135 348h0M172 357h0M171 290h0M160 351h0M211 304h0M196 295h0M205 296h0M174 368h0M180 364h0M168 314h0M197 337h0M171 308h0M186 268h0M190 313h0M162 211h0M186 269h0M206 226h0M175 243h0M179 200h0M182 305h0M171 238h0M166 345h0M179 227h0M182 204h0M174 191h0M179 212h0M185 186h0M170 246h0M196 199h0M178 287h0M178 292h0M185 206h0M188 271h0M182 219h0M138 283h0M193 213h0M157 254h0M193 216h0M170 18h0M189 65h0M182 115h0M183 160h0M182 173h0M184 160h0M96 287h0M108 290h0M100 331h0M104 310h0"/>
</svg>
<svg x="449.15" y="14.90" width="171.60" height="194.50" viewBox="0 0 343.20 389.00">
<path stroke="#5B8FF9" d="M200 214h0M196 228h0"/>
<path stroke="#5B8FF9" d="M203 247h0M211 247h0"/>
<path stroke="#5B8FF9" d="M206 213h0M221 226h0"/>
<path stroke="#8D99AE" d="M169 364h0M186 330h0M172 354h0M179 369h0M191 367h0M160 353h0M175 344h0M193 347h0M179 335h0M168 344h0M185 339h0M179 358h0M164 346h0M190 349h0M160 328h0M169 358h0M169 359h0M176 368h0M168 342h0M178 331h0M185 358h0M192 330h0M185 323h0M171 361h0M166 363h0M174 363h0M160 356h0M183 353h0M175 362h0M180 367h0M170 321h0M180 324h0M171 332h0M189 319h0M165 326h0M166 368h0M192 338h0M200 348h0M180 351h0M169 357h0M176 345h0M168 349h0M176 325h0M183 349h0M193 364h0M168 363h0M177 366h0M166 349h0M175 358h0M195 359h0M166 369h0M175 364h0M183 343h0M157 364h0M183 314h0M176 360h0M184 359h0M174 352h0M181 347h0M183 317h0M173 342h0M181 341h0M181 343h0M178 335h0M187 351h0M174 316h0M166 350h0M173 332h0M164 326h0M170 354h0M185 328h0M175 329h0M173 333h0M187 370h0M161 355h0M163 353h0M182 346h0M168 359h0M182 317h0M166 359h0M153 355h0M183 324h0M152 367h0M174 330h0M175 363h0M172 359h0M193 358h0M157 368h0M187 331h0M201 346h0M174 320h0M173 369h0M182 326h0M194 367h0M179 365h0M168 329h0M191 357h0M190 359h0M191 344h0M161 339h0M172 344h0M169 333h0M170 348h0M181 357h0M169 362h0M167 320h0M195 355h0M173 364h0M182 347h0M178 349h0M179 342h0M171 336h0M183 354h0M172 363h0M171 335h0M166 349h0M172 360h0M180 339h0M187 332h0M171 322h0M172 349h0M201 365h0M192 359h0M190 365h0M178 329h0M174 333h0M195 345h0M183 313h0M157 350h0M177 339h0M173 327h0M192 331h0M165 350h0M169 369h0M183 369h0M181 349h0M181 321h0M177 343h0M158 359h0M167 342h0M152 359h0M157 345h0M187 346h0M184 353h0M174 364h0M187 316h0M168 355h0M183 368h0M183 322h0M171 367h0M168 368h0M172 354h0M181 318h0M184 353h0M163 335h0M162 345h0M164 363h0M154 357h0M175 345h0M195 349h0M190 356h0M160 338h0M171 345h0M158 363h0M191 339h0M161 322h0M195 348h0M159 347h0M193 331h0M191 348h0M180 335h0M188 348h0M160 338h0M200 349h0M187 359h0M184 363h0M184 312h0M226 358h0M155 353h0M175 361h0M170 368h0M166 362h0M189 366h0M162 367h0M205 357h0M202 348h0M169 366h0M159 358h0M198 335h0M144 363h0M207 346h0M185 342h0M129 356h0M188 360h0M157 343h0M159 343h0M165 364h0M114 355h0M177 357h0M200 366h0M164 344h0M214 349h0M175 332h0M240 344h0M202 355h0M132 341h0M184 338h0M201 357h0M123 349h0M204 350h0M149 355h0M182 354h0M215 349h0M155 331h0M207 362h0M209 331h0M162 342h0M182 352h0M193 366h0M181 349h0M171 351h0M186 347h0M178 343h0M112 333h0M141 345h0M188 344h0M191 333h0M207 346h0M163 366h0M200 353h0M182 346h0M165 366h0M162 354h0M195 341h0M139 352h0M226 360h0M153 358h0M167 338h0M184 369h0M266 341h0M177 365h0M227 339h0M191 364h0M178 364h0M201 364h0M171 355h0M177 356h0M175 334h0M157 352h0M206 351h0M167 368h0M176 354h0M176 360h0M179 350h0M162 353h0M188 367h0M184 369h0M136 341h0M169 357h0M177 357h0M195 354h0M246 347h0M139 349h0M167 366h0M179 369h0M178 365h0M168 356h0M114 348h0M142 334h0M167 363h0M167 342h0M176 365h0M196 353h0M148 348h0M158 362h0M200 359h0M166 355h0M154 365h0M204 360h0M178 332h0M103 336h0M179 363h0M179 352h0M199 360h0M159 363h0M117 356h0M193 359h0M237 340h0M187 343h0M205 356h0M167 368h0M167 358h0M189 303h0M173 314h0M182 294h0M168 328h0M182 337h0M180 273h0M180 363h0M186 358h0M182 328h0M175 334h0M192 335h0M184 306h0M176 283h0M151 325h0M184 287h0M166 337h0M173 290h0M191 298h0M162 327h0M172 307h0M185 310h0M193 19h0M186 236h0M86 323h0M258 319h0M249 329h0M250 333h0"/>
<path stroke="#8D99AE" d="M193 348h0M191 365h0M168 342h0M179 370h0M199 345h0M164 342h0M179 360h0M170 313h0M158 351h0M162 341h0M192 349h0M174 350h0M188 332h0M165 345h0M177 350h0M171 350h0M172 354h0M173 354h0M177 365h0M177 318h0M191 358h0M162 365h0M185 322h0M168 336h0M178 336h0M160 345h0M175 330h0M189 332h0M180 335h0M178 320h0M188 342h0M167 338h0M180 325h0M159 339h0M166 367h0M169 329h0M158 364h0M181 325h0M174 362h0M180 359h0M174 366h0M175 349h0M190 355h0M181 356h0M176 341h0M196 340h0M192 335h0M170 340h0M168 343h0M175 329h0M181 331h0M170 323h0M178 369h0M172 341h0M161 338h0M180 367h0M193 349h0M166 344h0M154 338h0M163 362h0M187 345h0M162 344h0M192 352h0M163 337h0M162 344h0M181 341h0M185 359h0M161 343h0M172 325h0M198 361h0M171 313h0M181 356h0M169 330h0M189 320h0M164 362h0M182 341h0M184 326h0M169 335h0M179 354h0M192 363h0M187 351h0M198 367h0M181 365h0M170 351h0M155 349h0M195 348h0M176 348h0M155 339h0M178 328h0M193 334h0M201 348h0M173 367h0M190 332h0M185 323h0M183 357h0M173 367h0M202 361h0M161 349h0M161 357h0M185 341h0M200 347h0M181 330h0M176 344h0M176 369h0M182 360h0M187 350h0M158 352h0M196 354h0M188 361h0M163 363h0M177 338h0M193 347h0M169 354h0M173 347h0M166 333h0M188 340h0M197 344h0M175 312h0M182 359h0M169 359h0M165 344h0M184 354h0M162 354h0M182 348h0M187 331h0M173 321h0M189 355h0M175 341h0M179 342h0M188 350h0M172 312h0M170 343h0M176 361h0M162 354h0M191 332h0M175 310h0M178 310h0M151 354h0M184 342h0M192 339h0M177 342h0M169 354h0M177 322h0M178 336h0M188 366h0M181 325h0M202 364h0M174 339h0M197 360h0M172 356h0M164 350h0M162 349h0M173 340h0M198 339h0M195 327h0M166 344h0M196 345h0M179 365h0M196 348h0M181 328h0M175 355h0M168 336h0M202 362h0M190 342h0M200 365h0M190 352h0M183 318h0M182 366h0M164 356h0M176 361h0M180 359h0M188 346h0M192 367h0M186 363h0M157 330h0M181 358h0M219 349h0M153 361h0M213 352h0M126 337h0M158 364h0M202 347h0M197 351h0M176 359h0M190 361h0M150 346h0M182 369h0M177 363h0M99 344h0M170 349h0M174 343h0M134 343h0M175 350h0M225 350h0M182 354h0M155 346h0M147 354h0M101 338h0M176 356h0M207 345h0M142 361h0M193 359h0M146 354h0M210 357h0M156 358h0M219 352h0M202 341h0M192 344h0M211 336h0M175 340h0M211 354h0M178 367h0M176 348h0M193 348h0M200 363h0M177 371h0M226 360h0M178 358h0M188 367h0M138 348h0M166 347h0M167 336h0M174 361h0M191 357h0M203 342h0M187 364h0M223 344h0M183 350h0M135 345h0M197 366h0M123 345h0M220 355h0M182 354h0M175 343h0M177 346h0M204 340h0M145 343h0M202 352h0M225 359h0M152 364h0M186 340h0M174 356h0M188 337h0M182 330h0M180 363h0M197 359h0M177 368h0M150 352h0M101 356h0M133 350h0M123 341h0M186 361h0M165 361h0M119 352h0M188 356h0M189 343h0M149 354h0M181 367h0M182 367h0M174 357h0M177 344h0M159 358h0M161 365h0M178 341h0M166 348h0M188 366h0M183 342h0M174 347h0M176 344h0M172 360h0M178 366h0M230 358h0M158 341h0M191 360h0M214 362h0M195 345h0M176 355h0M186 315h0M185 324h0M170 278h0M189 285h0M173 273h0M184 338h0M166 290h0M188 345h0M177 355h0M167 315h0M164 289h0M175 350h0M175 296h0M180 348h0M195 367h0M164 308h0M179 308h0M201 303h0M188 303h0M183 281h0M203 329h0M185 324h0M184 329h0M187 328h0M178 295h0M138 313h0M172 276h0M153 281h0M187 213h0M173 256h0M191 262h0M99 329h0"/>
<path stroke="#8D99AE" d="M162 334h0M189 349h0M159 360h0M176 340h0M164 360h0M172 333h0M192 324h0M169 350h0M182 344h0M172 341h0M182 363h0M169 316h0M184 332h0M183 336h0M174 349h0M179 352h0M162 330h0M164 355h0M193 348h0M192 362h0M173 339h0M196 351h0M165 366h0M159 352h0M181 320h0M185 339h0M173 348h0M170 330h0M164 319h0M174 332h0M181 339h0M175 328h0M177 364h0M174 362h0M166 340h0M173 358h0M183 315h0M167 354h0M163 328h0M191 327h0M170 353h0M162 357h0M192 351h0M170 363h0M183 368h0M161 327h0M171 336h0M177 341h0M171 330h0M150 365h0M176 336h0M174 357h0M179 364h0M156 338h0M175 362h0M193 353h0M162 327h0M166 364h0M165 320h0M189 353h0M156 360h0M180 339h0M174 350h0M182 356h0M186 336h0M187 354h0M171 330h0M172 362h0M184 361h0M168 361h0M188 349h0M175 340h0M182 369h0M183 345h0M181 345h0M175 335h0M169 327h0M168 351h0M181 359h0M180 338h0M168 325h0M155 342h0M184 331h0M166 363h0M175 362h0M182 341h0M156 364h0M170 331h0M163 362h0M175 364h0M185 350h0M185 345h0M171 368h0M189 366h0M182 329h0M173 320h0M171 363h0M181 355h0M178 354h0M173 366h0M184 344h0M174 345h0M174 337h0M163 346h0M163 326h0M200 353h0M177 348h0M172 344h0M181 366h0M169 335h0M190 365h0M187 359h0M191 338h0M172 353h0M178 342h0M166 349h0M182 352h0M176 330h0M178 357h0M172 323h0M171 346h0M171 325h0M160 355h0M170 330h0M172 336h0M166 349h0M159 364h0M189 346h0M169 352h0M172 369h0M172 369h0M156 331h0M173 346h0M187 319h0M197 360h0M171 358h0M171 351h0M179 356h0M186 364h0M181 362h0M181 327h0M158 350h0M191 360h0M177 327h0M175 371h0M184 315h0M178 362h0M177 319h0M188 369h0M177 368h0M189 339h0M179 332h0M203 363h0M191 341h0M194 364h0M202 360h0M194 328h0M165 352h0M174 370h0M186 357h0M173 356h0M176 339h0M182 329h0M171 325h0M172 327h0M171 360h0M168 331h0M187 343h0M178 320h0M179 360h0M193 343h0M178 362h0M165 330h0M187 365h0M170 336h0M172 350h0M173 354h0M190 317h0M167 324h0M180 352h0M183 343h0M172 369h0M154 355h0M172 353h0M192 356h0M179 346h0M242 351h0M195 357h0M186 343h0M220 326h0M221 359h0M154 366h0M127 353h0M171 352h0M181 342h0M149 351h0M204 334h0M209 342h0M155 351h0M174 354h0M163 354h0M169 366h0M179 364h0M180 352h0M143 346h0M206 359h0M217 340h0M142 357h0M203 356h0M215 357h0M189 354h0M155 345h0M200 327h0M212 343h0M175 368h0M177 333h0M248 353h0M193 366h0M186 369h0M183 366h0M181 346h0M169 364h0M150 354h0M187 348h0M136 343h0M201 362h0M169 353h0M208 338h0M191 364h0M200 365h0M119 339h0M172 368h0M145 361h0M133 350h0M148 361h0M171 365h0M163 365h0M191 350h0M217 358h0M171 354h0M132 349h0M185 362h0M178 348h0M164 364h0M160 364h0M182 345h0M191 368h0M192 341h0M136 363h0M153 363h0M148 332h0M128 352h0M237 352h0M169 367h0M196 360h0M123 359h0M197 357h0M162 366h0M140 359h0M180 359h0M199 361h0M167 366h0M186 356h0M170 327h0M194 366h0M183 336h0M176 358h0M195 355h0M172 336h0M176 365h0M141 328h0M220 345h0M180 350h0M230 348h0M199 355h0M195 335h0M181 343h0M198 364h0M261 338h0M184 344h0M171 365h0M216 362h0M173 359h0M134 333h0M194 361h0M180 340h0M160 350h0M199 365h0M222 349h0M200 336h0M207 346h0M171 356h0M168 335h0M220 361h0M162 368h0M178 367h0M256 349h0M148 353h0M214 345h0M170 329h0M195 296h0M185 296h0M176 303h0M184 305h0M163 276h0M165 284h0M170 344h0M175 300h0M184 344h0M175 339h0M179 365h0M169 320h0M172 269h0M163 294h0M182 313h0M189 303h0M170 298h0M179 352h0M166 280h0M183 303h0M178 340h0M164 305h0M172 275h0M169 322h0M179 314h0M201 317h0M161 279h0M169 301h0M191 302h0M185 227h0M185 246h0M70 346h0M124 321h0"/>
<path stroke="#8D99AE" d="M178 350h0M157 350h0M170 331h0M176 336h0M156 354h0M156 350h0M172 312h0M179 329h0M172 365h0M187 342h0M191 336h0M174 364h0M186 369h0M180 363h0M166 342h0M177 313h0M181 342h0M159 327h0M175 321h0M183 332h0M189 346h0M189 333h0M174 315h0M180 338h0M201 359h0M180 344h0M184 346h0M183 368h0M169 343h0M163 365h0M170 336h0M177 360h0M177 354h0M171 350h0M177 350h0M197 344h0M181 353h0M177 321h0M177 335h0M180 333h0M161 326h0M168 354h0M202 363h0M193 338h0M178 347h0M159 361h0M196 341h0M189 317h0M189 325h0M179 343h0M160 326h0M199 336h0M191 343h0M165 327h0M175 358h0M175 317h0M195 337h0M190 361h0M165 319h0M169 330h0M187 348h0M192 336h0M198 349h0M191 366h0M153 351h0M198 353h0M164 345h0M158 353h0M171 335h0M152 366h0M185 357h0M177 369h0M201 359h0M201 354h0M167 324h0M157 358h0M179 334h0M190 340h0M182 331h0M180 371h0M183 330h0M195 337h0M170 326h0M187 359h0M181 363h0M173 325h0M172 365h0M187 354h0M177 335h0M163 340h0M180 342h0M166 320h0M179 324h0M167 362h0M198 353h0M160 332h0M173 354h0M182 363h0M183 322h0M171 340h0M172 369h0M179 318h0M174 359h0M194 334h0M163 322h0M155 354h0M182 340h0M180 329h0M181 361h0M198 358h0M178 359h0M155 363h0M165 326h0M180 350h0M179 322h0M168 369h0M198 334h0M173 346h0M196 331h0M169 360h0M166 369h0M173 345h0M165 358h0M170 344h0M162 366h0M182 319h0M167 340h0M165 337h0M174 326h0M181 324h0M189 347h0M162 338h0M172 352h0M192 335h0M175 367h0M157 349h0M199 367h0M169 343h0M180 342h0M175 309h0M172 353h0M178 346h0M183 331h0M197 335h0M174 322h0M198 348h0M178 347h0M197 368h0M186 321h0M165 363h0M160 350h0M174 321h0M201 366h0M176 315h0M182 356h0M160 328h0M178 331h0M159 349h0M166 337h0M185 320h0M170 344h0M180 366h0M159 343h0M190 349h0M187 328h0M179 316h0M178 363h0M172 370h0M178 345h0M191 330h0M160 348h0M157 354h0M161 352h0M141 344h0M133 357h0M213 357h0M216 356h0M169 363h0M172 353h0M211 353h0M193 365h0M160 345h0M179 354h0M198 358h0M198 327h0M196 358h0M259 351h0M121 356h0M224 360h0M182 367h0M206 364h0M192 357h0M162 349h0M223 353h0M172 358h0M143 359h0M234 347h0M178 343h0M220 339h0M224 335h0M189 366h0M187 368h0M233 343h0M181 342h0M150 362h0M186 331h0M172 347h0M217 343h0M183 345h0M148 344h0M118 357h0M213 343h0M187 355h0M215 336h0M212 364h0M174 351h0M163 367h0M152 350h0M176 347h0M171 335h0M171 362h0M180 364h0M167 369h0M138 351h0M159 348h0M165 365h0M201 348h0M238 358h0M217 346h0M168 356h0M165 331h0M182 328h0M180 347h0M186 369h0M130 360h0M178 350h0M175 352h0M195 368h0M170 359h0M153 357h0M182 351h0M131 350h0M193 359h0M154 364h0M202 363h0M196 358h0M119 342h0M154 344h0M167 363h0M169 347h0M169 341h0M227 349h0M190 360h0M172 345h0M252 343h0M191 360h0M153 362h0M174 351h0M115 352h0M168 369h0M100 345h0M117 358h0M167 361h0M178 276h0M173 325h0M191 336h0M182 333h0M191 320h0M183 341h0M189 333h0M172 309h0M183 337h0M176 289h0M197 350h0M183 316h0M197 313h0M178 291h0M199 338h0M196 314h0M181 295h0M175 265h0M180 360h0M194 293h0M207 313h0M209 301h0M169 256h0M271 311h0M92 332h0M128 302h0M90 341h0M99 342h0"/>
<path stroke="#8D99AE" d="M178 323h0M159 360h0M191 331h0M165 346h0M176 366h0M167 337h0M179 358h0M181 340h0M175 309h0M166 335h0M168 364h0M169 366h0M190 344h0M170 331h0M180 352h0M173 320h0M158 351h0M182 313h0M189 342h0M167 353h0M179 340h0M169 356h0M179 353h0M157 335h0M192 355h0M177 333h0M172 354h0M166 341h0M189 360h0M172 328h0M166 359h0M190 332h0M184 318h0M174 315h0M189 324h0M170 354h0M167 364h0M179 347h0M182 369h0M165 333h0M165 364h0M173 352h0M179 316h0M166 327h0M195 359h0M189 345h0M166 328h0M163 321h0M179 349h0M176 314h0M176 356h0M164 354h0M195 366h0M176 358h0M202 361h0M162 361h0M180 339h0M160 344h0M201 364h0M172 347h0M187 368h0M169 313h0M170 368h0M168 363h0M192 338h0M175 369h0M184 312h0M175 354h0M175 368h0M183 349h0M180 341h0M175 326h0M175 357h0M158 356h0M199 355h0M189 318h0M180 357h0M163 368h0M189 350h0M183 332h0M183 329h0M166 353h0M177 354h0M184 351h0M174 362h0M174 332h0M186 320h0M178 325h0M175 316h0M189 341h0M174 321h0M155 347h0M170 370h0M187 332h0M159 351h0M184 352h0M190 363h0M179 371h0M157 361h0M183 362h0M185 349h0M176 321h0M173 342h0M179 355h0M181 322h0M182 363h0M164 365h0M183 333h0M170 359h0M174 368h0M160 347h0M164 367h0M175 312h0M186 370h0M169 342h0M178 319h0M186 347h0M180 346h0M181 364h0M155 337h0M181 362h0M175 358h0M180 341h0M168 336h0M159 350h0M204 357h0M184 324h0M201 358h0M184 365h0M172 344h0M164 331h0M181 359h0M188 364h0M166 336h0M167 355h0M174 357h0M172 343h0M182 332h0M166 350h0M173 338h0M201 364h0M171 334h0M156 345h0M178 364h0M197 349h0M171 369h0M181 347h0M190 335h0M163 332h0M184 323h0M194 357h0M164 352h0M176 335h0M155 356h0M203 364h0M173 314h0M174 337h0M172 345h0M181 350h0M176 361h0M168 338h0M163 336h0M190 341h0M169 313h0M180 330h0M181 346h0M181 327h0M176 311h0M174 344h0M165 362h0M179 320h0M175 317h0M178 351h0M169 357h0M167 366h0M200 365h0M172 360h0M172 365h0M162 325h0M166 342h0M164 324h0M180 341h0M199 338h0M195 356h0M161 330h0M166 322h0M184 330h0M165 330h0M193 328h0M168 351h0M157 355h0M169 317h0M182 366h0M201 367h0M171 318h0M177 370h0M180 367h0M189 360h0M152 359h0M179 348h0M151 356h0M180 362h0M173 343h0M176 351h0M168 359h0M164 368h0M236 337h0M175 353h0M252 356h0M192 349h0M176 362h0M182 369h0M189 350h0M185 366h0M156 365h0M142 348h0M154 332h0M166 356h0M176 342h0M150 362h0M136 359h0M200 357h0M153 358h0M156 354h0M207 359h0M199 363h0M132 344h0M187 346h0M169 342h0M162 358h0M165 340h0M203 355h0M170 349h0M150 362h0M199 354h0M193 361h0M150 351h0M183 342h0M190 341h0M152 350h0M177 354h0M225 358h0M159 341h0M149 345h0M192 355h0M193 343h0M172 363h0M176 349h0M209 357h0M180 368h0M203 340h0M178 366h0M181 348h0M170 362h0M184 369h0M166 349h0M131 351h0M198 360h0M155 362h0M164 348h0M177 363h0M183 347h0M172 338h0M176 355h0M234 344h0M194 356h0M169 361h0M172 355h0M243 352h0M242 352h0M237 340h0M149 346h0M205 365h0M234 342h0M205 350h0M144 357h0M140 340h0M175 356h0M200 348h0M179 351h0M174 347h0M218 338h0M110 357h0M183 331h0M196 356h0M191 362h0M198 361h0M233 340h0M155 365h0M192 317h0M183 299h0M178 317h0M177 305h0M172 353h0M185 316h0M204 353h0M185 282h0M175 312h0M176 325h0M175 307h0M180 330h0M176 286h0M177 336h0M183 268h0M174 339h0M188 306h0M181 283h0M179 283h0M218 275h0M179 315h0M139 275h0M181 274h0M169 288h0M183 277h0M183 232h0M183 265h0M287 346h0M255 312h0M111 329h0M270 343h0"/>
</svg>
<svg x="41.97" y="233.97" width="171.60" height="194.50" viewBox="0 0 343.20 389.00">
<path stroke="#F85E5E" d="M83 17h0"/>
<path stroke="#F85E5E" d="M94 141h0"/>
<path stroke="#5B8FF9" d="M217 17h0M210 129h0M209 141h0M198 193h0"/>
<path stroke="#5B8FF9" d="M208 194h0M209 202h0M250 201h0"/>
<path stroke="#5B8FF9" d="M208 17h0M203 191h0M203 199h0M212 200h0"/>
<path stroke="#5B8FF9" d="M279 129h0M216 205h0M213 208h0"/>
<path stroke="#5B8FF9" d="M212 187h0M208 217h0M234 219h0"/>
<path stroke="#8D99AE" d="M166 321h0M197 342h0M197 315h0M184 336h0M164 336h0M157 356h0M179 324h0M186 308h0M174 334h0M176 345h0M185 334h0M178 323h0M202 361h0M192 304h0M163 327h0M183 316h0M172 339h0M172 369h0M181 357h0M165 309h0M186 367h0M181 329h0M157 366h0M156 354h0M186 363h0M184 322h0M175 349h0M181 319h0M177 360h0M182 350h0M169 359h0M190 368h0M199 353h0M177 332h0M190 333h0M169 300h0M187 321h0M199 331h0M185 348h0M175 318h0M176 359h0M174 341h0M172 346h0M166 346h0M179 307h0M185 319h0M179 319h0M185 341h0M183 351h0M185 299h0M161 326h0M191 353h0M193 349h0M175 343h0M202 338h0M180 316h0M197 339h0M176 313h0M193 295h0M197 339h0M164 367h0M184 343h0M168 296h0M163 327h0M177 340h0M163 357h0M164 365h0M166 321h0M181 361h0M201 337h0M172 362h0M179 367h0M170 314h0M162 354h0M178 340h0M157 348h0M189 350h0M167 335h0M176 319h0M184 329h0M154 349h0M175 359h0M188 363h0M156 340h0M179 345h0M190 342h0M167 345h0M172 358h0M179 317h0M176 362h0M175 363h0M180 357h0M175 350h0M165 343h0M196 310h0M178 310h0M159 331h0M157 333h0M181 326h0M199 347h0M179 314h0M176 340h0M179 331h0M165 357h0M162 356h0M176 364h0M166 325h0M174 352h0M161 321h0M170 307h0M189 317h0M180 332h0M163 319h0M190 355h0M176 323h0M173 311h0M186 314h0M194 365h0M174 298h0M170 341h0M170 320h0M165 326h0M188 338h0M182 321h0M179 304h0M171 341h0M197 339h0M169 335h0M164 322h0M170 368h0M173 351h0M164 322h0M156 360h0M169 360h0M195 339h0M154 339h0M173 302h0M189 326h0M165 309h0M179 343h0M188 348h0M183 308h0M190 335h0M184 341h0M189 346h0M163 349h0M177 296h0M174 354h0M170 313h0M188 354h0M171 321h0M162 307h0M161 329h0M190 350h0M190 365h0M175 366h0M160 336h0M181 309h0M178 365h0M176 317h0M197 365h0M177 344h0M165 367h0M156 346h0M153 354h0M162 360h0M200 349h0M174 357h0M162 360h0M194 318h0M179 299h0M167 330h0M197 323h0M167 340h0M185 343h0M186 296h0M191 345h0M168 318h0M179 358h0M164 362h0M191 318h0M164 309h0M165 353h0M165 347h0M196 317h0M163 305h0M190 344h0M163 321h0M170 369h0M176 343h0M171 349h0M170 341h0M182 356h0M179 319h0M164 347h0M192 339h0M175 318h0M129 341h0M197 335h0M183 349h0M206 317h0M254 356h0M157 361h0M219 302h0M158 362h0M189 349h0M203 309h0M188 362h0M231 331h0M150 358h0M198 353h0M184 314h0M194 292h0M154 337h0M223 316h0M185 346h0M158 366h0M162 361h0M188 347h0M250 336h0M183 308h0M191 314h0M170 320h0M173 292h0M237 313h0M194 343h0M185 343h0M190 327h0M184 337h0M182 366h0M157 340h0M158 314h0M162 307h0M211 354h0M199 347h0M195 320h0M205 317h0M165 338h0M128 327h0M169 296h0M177 366h0M145 336h0M103 328h0M167 310h0M267 316h0M238 298h0M149 364h0M137 328h0M218 361h0M208 310h0M150 324h0M165 300h0M194 326h0M174 345h0M136 305h0M211 310h0M215 331h0M212 323h0M186 368h0M160 287h0M183 284h0M184 307h0M173 346h0M179 293h0M175 350h0M175 345h0M175 291h0M176 334h0M171 275h0M194 358h0M165 298h0M190 138h0M292 318h0"/>
<path stroke="#8D99AE" d="M177 351h0M178 307h0M180 346h0M184 305h0M178 318h0M188 335h0M163 329h0M188 295h0M178 354h0M171 326h0M172 304h0M175 343h0M200 343h0M200 365h0M163 354h0M176 369h0M160 358h0M185 318h0M159 338h0M184 316h0M163 341h0M169 352h0M184 327h0M179 314h0M170 308h0M196 310h0M178 301h0M186 359h0M176 316h0M184 340h0M159 318h0M191 367h0M182 301h0M191 352h0M174 352h0M193 361h0M189 347h0M198 364h0M163 346h0M162 337h0M186 342h0M188 344h0M179 345h0M202 322h0M165 333h0M186 309h0M188 348h0M198 304h0M178 337h0M188 309h0M183 324h0M194 349h0M160 332h0M183 364h0M165 301h0M171 299h0M190 335h0M199 367h0M177 337h0M172 362h0M171 354h0M175 339h0M195 334h0M181 346h0M176 366h0M173 332h0M193 359h0M184 315h0M160 351h0M191 304h0M187 344h0M186 352h0M189 331h0M175 367h0M190 306h0M195 326h0M177 366h0M162 339h0M194 325h0M180 352h0M173 314h0M193 352h0M187 357h0M174 330h0M181 332h0M172 350h0M168 311h0M185 330h0M175 324h0M178 325h0M166 358h0M181 319h0M199 355h0M184 349h0M180 293h0M191 338h0M166 361h0M173 330h0M176 335h0M202 357h0M164 333h0M164 298h0M198 349h0M161 339h0M182 362h0M191 349h0M182 307h0M186 331h0M192 342h0M171 357h0M175 369h0M160 338h0M181 356h0M153 358h0M190 323h0M180 354h0M187 333h0M192 353h0M191 320h0M192 314h0M186 315h0M179 342h0M190 315h0M190 344h0M179 303h0M190 314h0M181 313h0M186 341h0M189 309h0M176 301h0M194 355h0M174 313h0M166 319h0M174 370h0M179 314h0M179 335h0M163 337h0M194 331h0M192 342h0M167 301h0M172 317h0M181 355h0M170 339h0M175 324h0M172 308h0M199 352h0M180 341h0M186 367h0M194 358h0M171 307h0M179 365h0M179 359h0M182 331h0M199 355h0M177 369h0M165 356h0M184 297h0M176 320h0M160 325h0M180 316h0M173 313h0M193 353h0M178 332h0M187 349h0M189 322h0M193 311h0M196 303h0M157 317h0M158 366h0M230 348h0M214 339h0M203 320h0M170 343h0M167 363h0M158 349h0M209 296h0M195 323h0M157 336h0M187 356h0M149 311h0M229 336h0M171 353h0M132 340h0M216 315h0M129 317h0M212 333h0M195 340h0M92 333h0M186 350h0M190 335h0M152 337h0M230 346h0M193 362h0M143 362h0M190 350h0M172 317h0M190 358h0M168 330h0M184 322h0M168 348h0M162 366h0M205 352h0M198 357h0M181 351h0M178 322h0M172 344h0M200 362h0M185 355h0M187 363h0M190 366h0M208 341h0M184 370h0M258 339h0M274 340h0M161 366h0M178 353h0M271 292h0M154 362h0M134 361h0M236 360h0M112 336h0M191 369h0M168 366h0M184 352h0M216 315h0M205 331h0M227 312h0M213 310h0M256 292h0M190 312h0M183 365h0M182 300h0M171 291h0M192 325h0M180 324h0M179 305h0M174 284h0M175 303h0M189 301h0M190 360h0M192 357h0M183 327h0M175 315h0M176 289h0M160 231h0M187 138h0M255 255h0M248 261h0M233 270h0M227 280h0"/>
<path stroke="#8D99AE" d="M175 302h0M184 313h0M170 344h0M154 356h0M172 364h0M180 290h0M167 365h0M169 305h0M184 308h0M173 353h0M200 366h0M174 300h0M181 362h0M183 345h0M158 342h0M194 367h0M177 370h0M168 340h0M168 346h0M160 351h0M189 336h0M181 327h0M167 355h0M203 362h0M180 290h0M160 331h0M174 364h0M195 325h0M185 360h0M170 315h0M176 340h0M198 345h0M170 336h0M186 301h0M168 305h0M184 335h0M180 318h0M184 340h0M183 317h0M178 323h0M173 310h0M185 353h0M188 294h0M170 360h0M184 366h0M173 348h0M197 343h0M188 359h0M191 361h0M166 313h0M198 317h0M174 331h0M173 356h0M174 359h0M177 359h0M175 335h0M165 366h0M178 351h0M183 320h0M189 364h0M168 341h0M201 342h0M189 316h0M169 309h0M173 362h0M176 360h0M186 368h0M178 363h0M197 325h0M167 362h0M181 349h0M188 367h0M167 366h0M172 301h0M181 318h0M193 353h0M183 319h0M195 351h0M182 370h0M182 333h0M166 343h0M174 370h0M175 341h0M172 313h0M158 364h0M166 327h0M173 346h0M165 314h0M174 337h0M178 336h0M181 339h0M174 296h0M190 311h0M181 361h0M160 343h0M184 344h0M185 310h0M170 341h0M179 352h0M175 337h0M176 336h0M176 354h0M190 368h0M185 304h0M174 350h0M160 316h0M174 307h0M170 307h0M185 309h0M189 363h0M183 334h0M192 317h0M166 345h0M183 330h0M181 348h0M179 300h0M158 340h0M189 329h0M162 330h0M169 304h0M171 323h0M188 340h0M177 340h0M190 295h0M181 349h0M176 298h0M183 336h0M187 367h0M176 310h0M180 313h0M170 313h0M181 344h0M165 355h0M178 332h0M181 298h0M166 323h0M193 354h0M177 354h0M174 357h0M176 346h0M177 297h0M182 311h0M184 299h0M178 305h0M157 365h0M177 355h0M184 301h0M168 369h0M182 368h0M166 302h0M180 345h0M179 335h0M167 354h0M172 341h0M185 361h0M177 352h0M194 343h0M177 304h0M176 331h0M171 300h0M192 330h0M178 311h0M188 328h0M176 340h0M194 348h0M177 341h0M177 370h0M169 365h0M188 364h0M180 359h0M169 348h0M173 352h0M175 356h0M173 317h0M182 314h0M193 322h0M165 347h0M171 322h0M186 301h0M189 345h0M193 339h0M173 339h0M181 299h0M179 345h0M182 353h0M157 365h0M198 357h0M185 347h0M166 366h0M159 309h0M184 345h0M215 328h0M177 335h0M214 357h0M178 313h0M154 358h0M231 332h0M207 310h0M195 346h0M134 327h0M234 334h0M173 368h0M183 359h0M118 341h0M213 345h0M168 333h0M196 321h0M192 344h0M214 309h0M164 340h0M230 333h0M160 339h0M204 316h0M222 337h0M190 365h0M217 310h0M191 320h0M167 327h0M184 363h0M198 323h0M210 355h0M191 359h0M212 344h0M234 318h0M229 359h0M177 314h0M249 313h0M178 340h0M196 366h0M190 361h0M206 339h0M161 322h0M181 314h0M198 351h0M151 306h0M262 350h0M191 363h0M182 356h0M127 330h0M205 344h0M168 313h0M129 356h0M183 293h0M207 308h0M191 332h0M224 316h0M222 361h0M203 350h0M194 362h0M229 353h0M199 366h0M204 344h0M158 341h0M166 293h0M177 307h0M187 363h0M199 334h0M147 361h0M174 345h0M168 315h0M194 340h0M167 341h0M175 329h0M191 319h0M194 367h0M187 370h0M200 355h0M181 306h0M170 327h0M185 318h0M173 334h0M157 336h0M140 352h0M215 328h0M174 258h0M195 360h0M178 292h0M185 279h0M176 255h0M158 328h0M187 296h0M194 281h0M173 257h0M177 257h0M175 295h0M164 268h0M166 139h0M165 190h0M82 301h0"/>
<path stroke="#8D99AE" d="M161 348h0M174 361h0M200 327h0M171 340h0M187 328h0M162 361h0M158 333h0M165 359h0M190 297h0M168 331h0M194 343h0M175 327h0M182 303h0M172 337h0M176 335h0M178 325h0M174 319h0M174 333h0M167 309h0M176 352h0M164 325h0M196 298h0M187 311h0M190 312h0M178 354h0M178 304h0M186 357h0M180 360h0M171 326h0M178 332h0M155 332h0M174 350h0M179 293h0M167 310h0M166 298h0M185 295h0M171 315h0M173 316h0M186 311h0M170 346h0M190 334h0M173 325h0M190 367h0M178 316h0M184 314h0M178 308h0M175 309h0M177 325h0M185 310h0M190 331h0M166 317h0M175 361h0M174 369h0M180 353h0M168 308h0M187 355h0M185 341h0M183 323h0M196 362h0M200 346h0M162 338h0M172 315h0M185 370h0M183 341h0M172 312h0M190 358h0M171 322h0M190 349h0M191 305h0M158 344h0M203 340h0M160 349h0M185 364h0M174 332h0M188 359h0M187 365h0M172 334h0M183 362h0M167 349h0M169 350h0M153 364h0M189 321h0M163 344h0M171 321h0M172 342h0M176 335h0M162 331h0M187 351h0M186 318h0M193 328h0M179 359h0M182 339h0M174 324h0M162 352h0M173 329h0M175 321h0M180 328h0M178 298h0M189 353h0M174 356h0M187 349h0M200 309h0M179 322h0M194 337h0M185 309h0M183 352h0M190 336h0M172 346h0M161 365h0M167 356h0M167 368h0M157 353h0M189 311h0M185 355h0M182 298h0M166 304h0M178 310h0M166 366h0M166 329h0M190 339h0M164 331h0M186 354h0M199 322h0M154 324h0M157 352h0M191 330h0M194 357h0M164 346h0M159 361h0M162 304h0M196 327h0M184 339h0M186 295h0M157 338h0M176 358h0M195 310h0M181 327h0M177 300h0M185 350h0M180 371h0M181 349h0M170 319h0M167 341h0M173 367h0M196 327h0M166 301h0M195 317h0M180 346h0M177 336h0M166 358h0M197 309h0M195 345h0M169 349h0M172 342h0M186 345h0M189 343h0M183 353h0M172 319h0M197 326h0M175 364h0M182 363h0M170 360h0M165 301h0M177 352h0M181 321h0M182 323h0M178 358h0M162 317h0M165 360h0M186 306h0M180 301h0M197 341h0M165 334h0M160 310h0M174 339h0M176 370h0M200 332h0M173 359h0M163 325h0M168 311h0M167 295h0M167 360h0M167 303h0M178 323h0M194 310h0M174 339h0M180 312h0M185 312h0M175 329h0M169 337h0M194 330h0M184 338h0M193 336h0M204 349h0M202 314h0M223 330h0M195 313h0M168 368h0M271 337h0M226 348h0M175 345h0M190 330h0M155 365h0M167 332h0M182 345h0M155 354h0M211 353h0M124 351h0M174 343h0M172 309h0M199 314h0M202 328h0M172 305h0M200 329h0M201 328h0M237 355h0M170 330h0M189 354h0M169 357h0M163 329h0M189 367h0M178 366h0M164 357h0M190 303h0M211 341h0M126 353h0M222 351h0M247 348h0M104 355h0M166 324h0M197 318h0M168 343h0M184 351h0M262 318h0M164 337h0M183 314h0M98 349h0M207 323h0M176 321h0M186 367h0M159 364h0M252 347h0M183 310h0M181 352h0M230 344h0M265 333h0M138 352h0M258 315h0M180 369h0M178 353h0M131 340h0M201 342h0M212 343h0M229 317h0M201 362h0M178 341h0M180 361h0M173 357h0M139 325h0M168 359h0M187 282h0M188 343h0M189 283h0M193 318h0M159 248h0M186 347h0M195 257h0M175 236h0M181 197h0M159 205h0M171 205h0M67 351h0M225 237h0"/>
<path stroke="#8D99AE" d="M185 361h0M185 331h0M182 341h0M164 368h0M182 355h0M188 306h0M175 292h0M183 314h0M168 325h0M184 320h0M179 338h0M173 353h0M160 336h0M191 353h0M194 330h0M188 310h0M175 298h0M181 358h0M175 357h0M175 329h0M177 361h0M189 332h0M194 314h0M159 312h0M173 310h0M170 346h0M161 327h0M193 360h0M184 332h0M161 329h0M170 362h0M191 352h0M165 367h0M156 363h0M182 338h0M156 362h0M154 326h0M164 336h0M158 328h0M187 366h0M172 321h0M168 355h0M190 344h0M189 316h0M154 335h0M173 361h0M160 316h0M170 368h0M195 346h0M172 329h0M186 340h0M166 367h0M153 336h0M163 328h0M183 356h0M184 359h0M169 300h0M177 335h0M153 362h0M161 338h0M165 327h0M179 298h0M180 290h0M173 300h0M186 351h0M176 355h0M180 308h0M178 352h0M163 354h0M190 362h0M190 317h0M154 356h0M184 319h0M190 339h0M180 363h0M192 331h0M176 351h0M182 369h0M155 350h0M181 351h0M182 296h0M195 321h0M155 333h0M171 325h0M169 333h0M174 346h0M169 317h0M186 316h0M170 316h0M163 310h0M172 363h0M188 352h0M187 364h0M190 317h0M178 335h0M191 363h0M167 334h0M165 296h0M163 349h0M181 317h0M183 326h0M200 348h0M191 316h0M192 359h0M175 339h0M162 358h0M176 366h0M190 323h0M182 367h0M179 365h0M175 337h0M164 350h0M201 331h0M184 346h0M188 320h0M174 291h0M181 362h0M175 362h0M190 340h0M178 303h0M179 349h0M171 361h0M188 330h0M187 329h0M196 316h0M185 340h0M186 368h0M192 304h0M192 347h0M164 343h0M169 360h0M185 365h0M185 310h0M188 352h0M164 350h0M189 324h0M162 301h0M176 296h0M192 347h0M192 342h0M172 329h0M169 319h0M186 361h0M174 366h0M189 292h0M185 340h0M170 315h0M188 323h0M177 341h0M194 331h0M194 321h0M165 313h0M173 296h0M158 320h0M178 368h0M198 350h0M173 332h0M173 362h0M179 316h0M185 304h0M187 318h0M172 340h0M199 345h0M174 349h0M194 354h0M171 363h0M177 341h0M156 361h0M174 313h0M163 356h0M178 330h0M166 334h0M202 341h0M183 368h0M201 346h0M175 317h0M172 361h0M177 337h0M191 358h0M174 368h0M158 327h0M154 335h0M167 344h0M175 314h0M164 333h0M176 348h0M193 333h0M174 356h0M183 301h0M174 301h0M183 346h0M188 341h0M168 333h0M170 316h0M166 356h0M173 368h0M177 353h0M192 368h0M195 365h0M175 310h0M159 339h0M196 338h0M157 316h0M180 356h0M188 333h0M218 357h0M181 356h0M190 356h0M176 318h0M168 320h0M202 355h0M179 364h0M206 297h0M190 316h0M190 348h0M174 305h0M197 318h0M141 341h0M111 336h0M182 342h0M152 351h0M195 363h0M178 303h0M170 315h0M185 316h0M198 323h0M241 322h0M181 357h0M223 333h0M181 365h0M203 347h0M186 309h0M204 345h0M131 323h0M270 343h0M231 337h0M196 325h0M181 360h0M252 349h0M164 355h0M207 336h0M196 358h0M139 295h0M191 301h0M202 320h0M257 347h0M219 356h0M174 346h0M196 330h0M106 320h0M187 356h0M261 327h0M171 337h0M196 325h0M179 366h0M192 368h0M195 303h0M233 346h0M217 321h0M192 365h0M206 359h0M192 346h0M233 354h0M233 295h0M283 293h0M186 339h0M184 331h0M197 367h0M199 344h0M161 341h0M188 328h0M146 322h0M200 348h0M183 350h0M208 321h0M170 343h0M187 355h0M230 334h0M246 310h0M204 353h0M223 311h0M190 326h0M199 360h0M145 354h0M202 339h0M177 369h0M179 370h0M171 347h0M185 360h0M160 281h0M188 275h0M177 245h0M195 282h0M174 337h0M181 255h0M169 298h0M184 353h0M165 302h0M176 269h0M169 362h0M284 294h0"/>
</svg>
<svg x="248.30" y="233.97" width="171.60" height="194.50" viewBox="0 0 343.20 389.00">
<path stroke="#F85E5E" d="M148 283h0M156 280h0M126 136h0M110 249h0M148 166h0M143 188h0M146 163h0M148 261h0M142 120h0M156 225h0M154 259h0M129 266h0"/>
<path stroke="#F85E5E" d="M155 282h0M155 261h0M95 266h0M151 258h0M157 271h0M153 213h0M152 219h0M138 254h0M138 271h0M140 279h0M134 273h0M124 252h0M140 233h0M15 186h0M35 269h0M85 229h0"/>
<path stroke="#F85E5E" d="M149 279h0M158 234h0M147 221h0M134 229h0M156 262h0M152 213h0M158 245h0M146 278h0M156 185h0M151 263h0M150 269h0M139 239h0M154 189h0M156 281h0M89 279h0M142 239h0M147 278h0M157 20h0"/>
<path stroke="#F85E5E" d="M144 283h0M148 135h0M153 188h0M155 196h0M145 196h0M156 229h0M152 258h0M154 266h0M136 175h0M148 211h0M156 223h0M158 180h0M154 206h0M152 135h0M150 86h0M150 247h0M155 150h0M149 277h0M157 261h0M118 272h0M47 206h0"/>
<path stroke="#F85E5E" d="M158 283h0M152 280h0M142 175h0M145 225h0M158 282h0M158 228h0M143 184h0M154 196h0M157 107h0M154 244h0M130 226h0M145 243h0M142 84h0M157 181h0M157 99h0M152 246h0M150 180h0M155 278h0M107 263h0M156 281h0M151 279h0"/>
<path stroke="#5B8FF9" d="M203 281h0M197 260h0M234 252h0M216 271h0M204 194h0M196 243h0M202 281h0M208 151h0M197 275h0M201 252h0M197 223h0M198 172h0M198 263h0M200 279h0M223 271h0M224 243h0M212 210h0M205 245h0M200 269h0M200 193h0M203 261h0M198 272h0M202 258h0M203 278h0M210 270h0M201 228h0M228 272h0M227 262h0M198 227h0M232 219h0M204 278h0M202 258h0M211 247h0M199 118h0M197 243h0M197 150h0M196 282h0M206 271h0M198 279h0M211 283h0M215 221h0M203 145h0M196 259h0M232 234h0M211 254h0M200 282h0M203 277h0M201 172h0M247 262h0M215 253h0M224 276h0M255 269h0M200 230h0M199 273h0M198 189h0M204 256h0M205 245h0M199 258h0M228 197h0M249 182h0M212 194h0M217 183h0M229 232h0M223 265h0M215 148h0M198 226h0M217 279h0M222 129h0M204 205h0M201 159h0M218 129h0M205 194h0M210 189h0"/>
<path stroke="#5B8FF9" d="M214 262h0M197 230h0M198 199h0M213 161h0M201 234h0M204 142h0M205 270h0M201 174h0M216 228h0M205 264h0M198 278h0M236 264h0M203 196h0M198 187h0M202 243h0M209 195h0M198 272h0M215 280h0M208 154h0M241 258h0M203 231h0M197 236h0M197 277h0M197 174h0M201 268h0M199 269h0M222 183h0M198 234h0M198 277h0M239 176h0M204 208h0M215 264h0M256 281h0M219 283h0M202 283h0M198 166h0M198 266h0M203 269h0M242 235h0M235 189h0M235 258h0M214 245h0M206 181h0M216 77h0M198 179h0M219 96h0M214 123h0M220 280h0M219 170h0M197 228h0M221 242h0M231 233h0M202 155h0M219 96h0M210 138h0M210 278h0M224 266h0M230 219h0M206 264h0M202 20h0M232 49h0M282 270h0"/>
<path stroke="#5B8FF9" d="M211 283h0M199 216h0M201 131h0M197 269h0M199 259h0M201 199h0M218 232h0M196 278h0M197 152h0M198 255h0M206 275h0M205 135h0M197 220h0M197 281h0M216 188h0M202 198h0M209 154h0M200 247h0M197 276h0M217 209h0M203 275h0M208 281h0M202 282h0M208 278h0M203 212h0M225 283h0M231 240h0M197 225h0M206 267h0M197 277h0M199 260h0M199 277h0M204 280h0M213 277h0M201 278h0M210 261h0M205 252h0M199 228h0M223 272h0M214 267h0M207 244h0M201 200h0M209 239h0M205 216h0M250 200h0M204 191h0M200 283h0M222 232h0M232 180h0M251 187h0M222 125h0M198 247h0M223 226h0M208 255h0M213 188h0M237 277h0M213 145h0M226 238h0M198 241h0M223 202h0M200 219h0M223 269h0M210 225h0M299 269h0"/>
<path stroke="#5B8FF9" d="M210 208h0M200 260h0M232 268h0M212 170h0M202 166h0M205 280h0M208 234h0M203 250h0M200 204h0M208 215h0M204 281h0M197 210h0M204 270h0M198 282h0M222 276h0M203 243h0M205 248h0M207 215h0M241 194h0M226 197h0M198 258h0M204 254h0M202 105h0M207 256h0M206 243h0M243 254h0M213 186h0M233 236h0M201 253h0M197 258h0M265 215h0M220 277h0M199 187h0M202 275h0M240 263h0M203 279h0M201 259h0M199 238h0M204 249h0M201 252h0M215 163h0M204 257h0M201 147h0M203 148h0M200 193h0M223 185h0M246 188h0M202 200h0M240 238h0M211 128h0M204 159h0M215 195h0M214 177h0M217 72h0M201 209h0M197 211h0M201 181h0M219 175h0M249 258h0M216 263h0M246 19h0M274 79h0"/>
<path stroke="#5B8FF9" d="M199 282h0M236 279h0M203 266h0M203 231h0M198 108h0M208 227h0M216 225h0M204 279h0M225 164h0M204 221h0M205 200h0M215 249h0M211 267h0M206 279h0M207 275h0M233 269h0M198 211h0M199 238h0M222 269h0M204 279h0M202 243h0M217 255h0M223 282h0M210 182h0M199 233h0M210 281h0M210 270h0M204 226h0M207 282h0M221 160h0M217 198h0M204 227h0M196 273h0M197 235h0M200 244h0M199 260h0M201 279h0M210 243h0M208 112h0M249 233h0M204 222h0M196 251h0M231 272h0M207 212h0M225 185h0M233 261h0M217 144h0M224 166h0M203 139h0M198 189h0M216 93h0M220 179h0M201 93h0M229 244h0M209 103h0M200 251h0M198 100h0"/>
<path stroke="#8D99AE" d="M185 363h0M184 302h0M195 356h0M182 242h0M164 177h0M178 343h0M187 198h0M191 299h0M167 239h0M170 239h0M170 306h0M181 249h0M195 367h0M168 352h0M184 330h0M186 196h0M164 223h0M174 302h0M189 177h0M192 275h0M185 192h0M191 185h0M195 360h0M185 346h0M161 326h0M158 341h0M169 176h0M171 326h0M169 356h0M170 230h0M159 329h0M170 207h0M188 321h0M185 328h0M180 306h0M161 254h0M160 314h0M181 368h0M165 196h0M185 220h0M192 263h0M172 317h0M169 267h0M179 321h0M162 341h0M175 347h0M192 273h0M167 195h0M184 267h0M162 272h0M160 188h0M173 368h0M189 361h0M172 341h0M187 232h0M173 344h0M187 245h0M193 325h0M163 370h0M187 246h0M165 287h0M193 309h0M175 370h0M172 298h0M169 265h0M173 341h0M168 197h0M192 290h0M189 191h0M171 316h0M180 366h0M192 316h0M182 220h0M193 324h0M180 323h0M158 358h0M187 314h0M191 178h0M170 363h0M169 357h0M170 347h0M159 184h0M179 331h0M166 218h0M168 331h0M165 318h0M184 297h0M172 238h0M184 222h0M159 320h0M185 354h0M191 191h0M189 239h0M192 322h0M168 186h0M167 207h0M189 199h0M178 334h0M182 322h0M192 348h0M171 368h0M163 195h0M168 280h0M161 371h0M168 197h0M186 338h0M189 258h0M188 199h0M185 364h0M176 331h0M166 330h0M171 330h0M177 360h0M164 311h0M189 326h0M180 360h0M181 322h0M181 331h0M168 306h0M171 335h0M183 248h0M193 253h0M185 203h0M192 317h0M184 288h0M181 332h0M186 266h0M182 345h0M187 345h0M185 330h0M160 244h0M167 245h0M173 295h0M163 350h0M172 256h0M181 323h0M163 225h0M160 209h0M188 295h0M187 230h0M169 342h0M187 248h0M170 242h0M170 306h0M161 346h0M184 295h0M182 302h0M186 254h0M188 274h0M185 285h0M158 328h0M158 196h0M180 338h0M195 309h0M186 202h0M162 321h0M168 188h0M183 247h0M193 206h0M188 352h0M185 250h0M167 291h0M181 258h0M193 369h0M192 339h0M183 266h0M189 203h0M167 230h0M169 186h0M196 214h0M168 173h0M188 180h0M189 172h0M187 308h0M167 210h0M166 226h0M182 264h0M180 282h0M186 199h0M158 240h0M189 242h0M185 311h0M192 221h0M169 262h0M169 191h0M170 226h0M167 284h0M174 296h0M167 201h0M179 286h0M169 227h0M164 184h0M168 198h0M186 229h0M182 242h0M193 294h0M165 312h0M180 261h0M184 171h0M175 316h0M167 172h0M187 186h0M189 299h0M161 226h0M170 263h0M164 241h0M184 309h0M171 278h0M172 298h0M171 233h0M195 232h0M168 169h0M182 312h0M170 309h0M188 303h0M183 238h0M164 300h0M191 247h0M183 193h0M170 262h0M183 310h0M189 179h0M183 243h0M170 229h0M188 172h0M169 291h0M160 274h0M191 222h0M171 191h0M182 247h0M168 289h0M172 256h0M163 224h0M189 265h0M173 313h0M194 240h0M165 203h0M195 183h0M187 175h0M185 169h0M170 189h0M168 279h0M183 315h0M172 240h0M190 258h0M169 242h0M181 312h0M175 308h0M173 267h0M166 258h0M191 285h0M182 224h0M183 293h0M187 250h0M162 311h0M184 255h0M181 256h0M173 291h0M185 302h0M170 211h0M191 270h0M168 263h0M166 181h0M195 314h0M195 300h0M169 170h0M170 312h0M188 189h0M182 251h0M191 272h0M190 294h0M168 266h0M184 285h0M182 265h0M163 174h0M169 267h0M194 238h0M181 274h0M162 199h0M169 291h0M184 234h0M191 222h0M196 281h0M165 248h0M167 297h0M173 311h0M173 281h0M164 303h0M188 261h0M172 233h0M172 250h0M187 187h0M170 260h0M171 229h0M186 260h0M172 292h0M180 303h0M168 161h0M183 217h0M187 177h0M169 187h0M185 195h0M184 169h0M187 211h0M168 202h0M169 201h0M187 95h0M163 188h0M186 170h0M186 158h0M167 125h0M190 204h0M188 165h0M189 154h0M168 194h0M187 103h0M170 218h0M184 206h0M184 211h0M186 193h0M182 218h0M170 201h0M183 202h0M160 183h0M168 218h0M189 190h0M167 220h0M168 108h0M186 188h0M165 221h0M167 208h0M168 116h0M169 179h0M188 179h0M172 217h0M185 155h0M169 180h0M168 216h0M169 207h0M185 188h0M186 174h0M185 148h0M170 214h0M186 222h0M186 215h0M186 222h0M170 212h0M186 217h0M163 190h0M166 183h0M185 217h0M187 186h0M166 178h0M158 206h0M170 157h0M185 186h0M185 191h0M193 104h0M166 164h0M187 103h0M186 211h0M170 213h0M184 176h0M190 210h0M192 112h0M182 220h0M182 214h0M184 175h0M166 174h0M170 202h0M183 212h0M189 191h0M169 209h0M195 202h0M186 209h0M185 202h0M168 201h0M167 303h0M170 299h0M169 308h0M184 303h0M180 369h0M171 316h0M212 326h0M147 345h0M173 341h0M171 352h0M189 310h0M172 349h0M168 352h0M184 311h0M187 311h0M191 338h0M163 291h0M182 299h0M182 343h0M178 281h0M167 346h0M165 332h0M188 360h0M199 321h0M199 350h0M177 328h0M189 347h0M213 315h0M163 352h0M185 297h0M162 353h0M182 354h0M169 322h0M170 306h0M182 330h0M191 325h0M174 333h0M199 321h0M169 321h0M180 309h0M190 338h0M186 338h0M184 311h0M174 346h0M177 337h0M199 288h0M165 362h0M177 363h0M179 300h0M199 325h0M173 334h0M185 359h0M163 309h0M147 322h0M188 288h0M185 337h0M191 340h0M180 297h0M200 356h0M173 297h0M172 293h0M173 317h0M173 281h0M161 343h0M195 346h0M157 339h0M172 315h0M203 329h0M189 281h0M169 315h0M194 294h0M187 326h0M197 289h0M170 310h0M186 310h0M170 290h0M185 305h0M193 351h0M187 316h0M194 289h0M190 363h0M194 311h0M196 322h0M175 359h0M178 315h0M200 315h0M176 344h0M172 298h0M173 315h0M185 342h0M190 283h0M160 283h0M204 328h0M182 298h0M151 301h0M161 309h0M170 347h0M186 316h0M193 312h0M179 329h0M172 320h0M172 303h0M171 353h0M171 338h0M171 315h0M146 322h0M158 300h0M150 286h0M193 295h0M198 344h0M172 357h0M157 342h0M180 326h0M163 299h0M174 296h0M173 365h0M175 352h0M182 316h0M153 306h0M173 344h0M168 292h0M175 286h0M167 318h0M197 301h0M179 290h0M192 320h0M168 327h0M186 297h0M167 294h0M157 334h0M170 329h0M175 328h0M158 340h0M189 316h0M172 363h0M176 289h0M196 333h0M154 327h0M210 286h0M100 308h0M206 313h0M222 312h0M219 344h0M205 348h0M119 305h0M162 356h0M126 288h0M162 294h0M209 335h0M106 312h0M134 289h0M138 304h0M211 339h0M215 338h0M142 312h0M145 322h0M247 285h0M110 305h0M193 333h0M112 324h0M201 296h0M231 306h0M105 291h0M105 297h0M203 293h0M192 285h0M205 326h0M194 349h0M275 285h0M225 304h0M219 285h0M155 329h0M160 308h0M197 331h0M130 344h0M160 358h0M196 336h0M212 303h0M137 329h0M161 323h0M158 333h0M160 288h0M201 319h0M273 305h0M148 353h0M150 326h0M214 346h0M269 311h0M198 357h0M158 284h0M202 311h0M202 330h0M152 308h0M208 311h0M162 289h0M254 303h0M211 322h0M192 318h0M203 335h0M93 300h0M192 20h0M188 27h0M184 30h0M168 49h0M170 57h0M79 300h0M189 101h0"/>
<path stroke="#8D99AE" d="M189 351h0M170 275h0M166 235h0M163 363h0M179 328h0M188 358h0M168 271h0M194 256h0M161 366h0M163 348h0M165 310h0M166 348h0M187 233h0M160 263h0M174 278h0M185 235h0M168 296h0M193 322h0M160 303h0M192 277h0M194 356h0M168 301h0M161 253h0M192 360h0M170 279h0M191 281h0M171 228h0M174 344h0M182 230h0M164 236h0M166 204h0M189 328h0M165 335h0M188 315h0M175 304h0M182 271h0M188 303h0M193 209h0M184 341h0M196 189h0M189 367h0M165 244h0M158 369h0M189 234h0M185 360h0M188 316h0M185 194h0M178 342h0M195 224h0M182 251h0M164 289h0M163 284h0M185 231h0M186 365h0M170 202h0M186 259h0M179 352h0M192 224h0M174 290h0M159 293h0M166 363h0M190 343h0M161 236h0M167 197h0M164 331h0M191 275h0M188 313h0M183 359h0M183 216h0M189 218h0M167 366h0M181 298h0M193 341h0M194 273h0M187 308h0M173 270h0M168 241h0M193 257h0M183 369h0M195 366h0M182 310h0M186 322h0M167 267h0M179 321h0M162 241h0M178 346h0M175 340h0M160 230h0M178 329h0M175 339h0M158 335h0M160 287h0M188 295h0M163 361h0M175 324h0M186 182h0M192 353h0M193 277h0M180 315h0M159 242h0M169 369h0M164 290h0M180 258h0M188 261h0M194 329h0M193 251h0M185 241h0M182 257h0M181 252h0M190 319h0M186 204h0M185 211h0M192 227h0M168 367h0M171 225h0M192 205h0M164 249h0M162 344h0M187 212h0M193 178h0M184 252h0M159 223h0M173 324h0M181 337h0M185 318h0M170 302h0M169 354h0M172 286h0M169 278h0M162 338h0M183 310h0M181 327h0M158 301h0M161 359h0M192 326h0M164 273h0M194 369h0M175 286h0M193 340h0M160 278h0M191 369h0M160 335h0M163 179h0M188 347h0M195 354h0M176 343h0M162 206h0M185 347h0M165 183h0M190 293h0M178 359h0M166 269h0M182 367h0M163 352h0M187 220h0M194 186h0M194 253h0M162 278h0M182 283h0M171 274h0M165 242h0M189 283h0M186 280h0M180 270h0M189 291h0M186 310h0M167 208h0M187 199h0M170 191h0M190 180h0M182 315h0M187 252h0M189 206h0M191 266h0M180 296h0M184 233h0M160 170h0M189 293h0M182 252h0M162 252h0M181 289h0M158 205h0M196 181h0M172 223h0M182 243h0M166 304h0M186 189h0M172 247h0M165 286h0M192 178h0M170 178h0M173 253h0M182 252h0M190 299h0M167 307h0M161 197h0M173 280h0M185 241h0M163 292h0M173 276h0M171 206h0M174 302h0M172 289h0M179 316h0M166 251h0M164 233h0M183 216h0M182 292h0M168 282h0M169 188h0M165 201h0M169 249h0M163 209h0M181 270h0M170 232h0M194 182h0M173 268h0M163 203h0M180 296h0M168 262h0M183 230h0M182 305h0M186 211h0M184 203h0M185 211h0M173 306h0M161 248h0M172 279h0M172 236h0M174 311h0M183 284h0M184 205h0M195 175h0M185 222h0M180 289h0M187 237h0M178 314h0M192 200h0M195 247h0M183 313h0M183 188h0M170 274h0M188 237h0M161 287h0M170 178h0M168 299h0M183 266h0M190 209h0M180 302h0M171 192h0M163 171h0M171 205h0M172 215h0M174 282h0M167 187h0M182 286h0M170 195h0M163 275h0M181 273h0M174 317h0M165 262h0M187 310h0M164 216h0M186 217h0M185 205h0M163 223h0M170 242h0M164 303h0M184 192h0M193 198h0M169 248h0M170 234h0M181 263h0M185 204h0M179 294h0M172 260h0M175 306h0M184 197h0M167 199h0M186 217h0M189 202h0M166 143h0M168 186h0M194 215h0M182 215h0M167 172h0M165 153h0M185 164h0M165 140h0M190 152h0M188 98h0M191 189h0M166 218h0M184 170h0M188 173h0M185 219h0M190 112h0M163 137h0M189 144h0M187 145h0M163 220h0M171 215h0M164 202h0M184 218h0M169 202h0M185 187h0M182 219h0M164 170h0M196 99h0M165 126h0M189 163h0M170 194h0M194 187h0M171 187h0M160 161h0M168 121h0M166 190h0M191 194h0M160 210h0M172 218h0M189 130h0M183 215h0M187 179h0M186 189h0M184 207h0M188 204h0M189 218h0M183 206h0M169 201h0M168 110h0M169 187h0M184 219h0M183 218h0M171 222h0M185 202h0M187 219h0M164 101h0M159 141h0M160 173h0M193 139h0M190 121h0M193 104h0M163 189h0M189 162h0M187 188h0M191 108h0M186 146h0M192 122h0M192 180h0M187 142h0M185 201h0M169 210h0M196 302h0M189 334h0M195 311h0M190 358h0M193 336h0M176 364h0M184 347h0M160 293h0M190 350h0M200 339h0M186 316h0M187 323h0M178 361h0M175 301h0M145 302h0M178 366h0M204 293h0M180 304h0M153 303h0M183 291h0M187 330h0M166 317h0M172 294h0M170 359h0M180 335h0M178 335h0M195 353h0M155 316h0M187 300h0M187 295h0M146 320h0M162 336h0M161 289h0M166 315h0M202 284h0M165 298h0M180 290h0M194 301h0M192 353h0M165 309h0M189 340h0M200 321h0M157 305h0M177 362h0M174 315h0M200 301h0M168 306h0M176 350h0M165 327h0M182 295h0M172 341h0M149 319h0M181 300h0M186 328h0M165 347h0M178 300h0M158 333h0M185 302h0M163 285h0M192 340h0M153 332h0M196 340h0M168 364h0M170 301h0M175 363h0M167 349h0M198 303h0M151 348h0M172 322h0M191 340h0M162 359h0M184 280h0M165 283h0M198 311h0M148 335h0M161 301h0M187 288h0M198 298h0M166 358h0M173 328h0M178 299h0M171 318h0M174 367h0M170 312h0M179 287h0M189 301h0M183 366h0M158 353h0M197 353h0M168 346h0M169 364h0M154 308h0M198 334h0M180 306h0M170 367h0M180 311h0M163 309h0M173 345h0M187 315h0M174 320h0M180 367h0M184 289h0M173 327h0M170 292h0M191 328h0M193 306h0M186 345h0M186 360h0M165 332h0M175 342h0M176 316h0M174 314h0M179 351h0M176 368h0M204 307h0M173 293h0M171 291h0M185 285h0M201 343h0M185 283h0M181 338h0M179 315h0M173 330h0M179 367h0M158 296h0M147 342h0M178 314h0M179 311h0M127 316h0M119 332h0M202 303h0M127 328h0M200 291h0M85 307h0M135 348h0M217 338h0M198 336h0M225 315h0M84 292h0M157 324h0M150 346h0M131 342h0M163 314h0M143 285h0M155 309h0M245 330h0M201 347h0M151 338h0M148 304h0M211 311h0M264 305h0M107 293h0M146 324h0M160 355h0M158 317h0M158 288h0M161 361h0M112 296h0M218 328h0M134 301h0M192 340h0M159 321h0M117 302h0M154 334h0M199 336h0M143 320h0M136 301h0M162 291h0M205 342h0M140 331h0M138 311h0M125 298h0M156 290h0M192 298h0M192 337h0M133 327h0M102 299h0M127 294h0M201 294h0M134 295h0M153 329h0M116 305h0M200 312h0M152 308h0M124 288h0M193 296h0M143 340h0M125 306h0M209 334h0M159 296h0M187 81h0M185 108h0"/>
<path stroke="#8D99AE" d="M165 223h0M186 308h0M183 248h0M188 336h0M173 336h0M193 232h0M185 238h0M174 338h0M180 314h0M162 278h0M165 205h0M164 291h0M187 232h0M170 238h0M190 307h0M181 321h0M170 289h0M191 211h0M169 210h0M184 269h0M188 185h0M186 321h0M161 225h0M185 189h0M169 274h0M169 305h0M174 354h0M159 357h0M170 287h0M172 338h0M184 202h0M180 346h0M186 244h0M181 315h0M190 242h0M160 269h0M184 275h0M161 295h0M190 277h0M191 234h0M194 246h0M165 276h0M187 346h0M188 253h0M193 228h0M170 288h0M186 180h0M183 230h0M164 213h0M167 282h0M190 316h0M179 350h0M185 213h0M184 249h0M159 346h0M182 246h0M184 340h0M195 288h0M193 323h0M195 200h0M166 270h0M194 325h0M173 307h0M161 273h0M184 210h0M173 367h0M181 348h0M186 214h0M160 344h0M172 357h0M174 304h0M164 178h0M189 200h0M194 252h0M184 358h0M186 181h0M185 281h0M188 366h0M182 281h0M182 338h0M164 367h0M182 371h0M162 201h0M163 332h0M185 308h0M186 239h0M177 336h0M175 339h0M188 189h0M188 223h0M191 343h0M172 315h0M188 196h0M169 325h0M192 335h0M161 341h0M190 225h0M166 282h0M166 340h0M168 344h0M179 338h0M170 248h0M189 248h0M166 230h0M195 267h0M168 252h0M173 310h0M168 340h0M163 220h0M169 348h0M166 346h0M183 217h0M166 200h0M178 355h0M178 330h0M192 294h0M190 251h0M160 366h0M184 338h0M187 291h0M180 337h0M192 246h0M181 259h0M162 197h0M181 327h0M188 231h0M167 230h0M195 270h0M185 362h0M188 194h0M160 331h0M169 229h0M180 309h0M190 307h0M181 364h0M183 276h0M166 251h0M185 290h0M161 304h0M165 220h0M169 267h0M182 339h0M190 184h0M172 276h0M183 371h0M161 223h0M190 268h0M196 274h0M189 224h0M182 307h0M163 233h0M188 180h0M187 302h0M167 211h0M186 280h0M187 266h0M179 321h0M186 362h0M169 286h0M190 193h0M192 187h0M195 288h0M174 294h0M185 308h0M171 246h0M175 286h0M190 301h0M159 211h0M172 232h0M186 259h0M181 244h0M183 236h0M159 257h0M169 218h0M173 263h0M172 314h0M191 247h0M169 219h0M166 248h0M188 289h0M171 252h0M173 317h0M166 256h0M173 266h0M173 276h0M163 225h0M184 213h0M165 192h0M184 271h0M163 199h0M174 312h0M192 182h0M183 287h0M184 239h0M190 236h0M191 193h0M175 305h0M176 316h0M169 181h0M181 298h0M171 189h0M173 308h0M194 312h0M190 249h0M184 242h0M172 235h0M182 208h0M174 301h0M185 264h0M172 279h0M167 293h0M188 218h0M164 304h0M179 310h0M164 309h0M173 248h0M180 317h0M183 200h0M159 180h0M188 260h0M173 251h0M194 181h0M171 201h0M180 287h0M189 280h0M168 280h0M163 232h0M193 281h0M170 281h0M167 241h0M173 312h0M183 262h0M183 277h0M167 269h0M190 221h0M160 268h0M192 205h0M184 246h0M170 227h0M191 257h0M194 273h0M194 288h0M187 235h0M166 315h0M191 239h0M173 262h0M165 212h0M168 259h0M166 258h0M189 274h0M168 218h0M160 246h0M184 290h0M185 235h0M167 268h0M182 278h0M170 280h0M190 315h0M182 235h0M184 175h0M166 261h0M165 265h0M172 255h0M172 229h0M195 267h0M189 193h0M170 190h0M179 310h0M189 215h0M170 245h0M168 294h0M196 183h0M164 242h0M185 262h0M187 253h0M184 214h0M188 251h0M187 202h0M189 300h0M181 247h0M172 313h0M183 226h0M167 259h0M187 307h0M184 224h0M168 282h0M182 241h0M169 304h0M182 290h0M186 215h0M189 180h0M183 199h0M168 177h0M195 178h0M194 197h0M184 194h0M168 209h0M184 188h0M184 215h0M190 181h0M171 220h0M168 150h0M170 176h0M164 215h0M164 208h0M194 158h0M188 166h0M171 207h0M165 112h0M164 203h0M159 196h0M168 205h0M169 140h0M194 198h0M186 206h0M164 214h0M183 211h0M166 161h0M171 220h0M184 207h0M169 167h0M172 208h0M168 101h0M169 218h0M185 184h0M167 202h0M168 114h0M190 193h0M182 217h0M167 198h0M187 211h0M190 106h0M187 194h0M167 175h0M170 184h0M168 207h0M166 175h0M185 193h0M186 175h0M184 196h0M162 124h0M189 128h0M167 198h0M194 129h0M162 139h0M189 156h0M160 215h0M192 205h0M182 222h0M161 221h0M170 222h0M168 166h0M167 160h0M191 120h0M165 209h0M163 133h0M188 194h0M185 155h0M192 197h0M190 182h0M172 216h0M164 125h0M188 162h0M169 182h0M169 162h0M183 211h0M171 211h0M167 212h0M160 131h0M158 217h0M165 131h0M168 152h0M183 201h0M169 176h0M183 219h0M188 132h0M185 184h0M172 219h0M196 198h0M183 206h0M187 201h0M170 355h0M151 348h0M174 300h0M178 303h0M188 354h0M162 310h0M154 329h0M167 310h0M159 294h0M180 340h0M154 325h0M176 287h0M161 342h0M183 281h0M212 323h0M186 289h0M143 299h0M174 365h0M189 334h0M164 316h0M200 285h0M203 284h0M190 342h0M177 319h0M168 300h0M175 325h0M200 339h0M179 336h0M165 297h0M178 320h0M175 293h0M160 353h0M174 344h0M158 317h0M181 305h0M167 337h0M160 351h0M177 305h0M183 319h0M169 320h0M183 298h0M167 325h0M152 307h0M174 358h0M184 327h0M187 314h0M179 291h0M161 280h0M151 349h0M156 343h0M187 302h0M194 292h0M163 339h0M173 290h0M162 299h0M197 287h0M163 322h0M190 345h0M184 283h0M162 311h0M175 283h0M163 294h0M196 336h0M191 299h0M186 355h0M188 346h0M163 347h0M187 348h0M176 311h0M180 315h0M177 335h0M172 328h0M166 298h0M177 327h0M164 318h0M196 302h0M173 328h0M178 300h0M173 320h0M163 358h0M178 300h0M180 345h0M201 343h0M184 318h0M164 345h0M195 330h0M194 287h0M171 359h0M176 354h0M204 321h0M164 313h0M184 297h0M206 330h0M147 338h0M188 316h0M182 282h0M198 294h0M174 318h0M204 314h0M191 297h0M163 283h0M177 288h0M192 350h0M168 283h0M173 366h0M182 331h0M169 345h0M166 286h0M213 340h0M170 312h0M176 329h0M176 339h0M173 282h0M162 332h0M177 344h0M176 341h0M188 353h0M158 326h0M156 353h0M150 327h0M181 281h0M169 288h0M184 298h0M199 351h0M180 280h0M162 319h0M185 336h0M201 330h0M208 295h0M186 319h0M187 291h0M198 284h0M191 318h0M182 347h0M185 306h0M160 360h0M175 326h0M165 344h0M176 332h0M191 285h0M182 336h0M159 349h0M116 303h0M135 325h0M202 336h0M156 305h0M160 290h0M132 297h0M217 318h0M153 300h0M144 297h0M134 305h0M216 322h0M213 317h0M114 293h0M159 315h0M209 304h0M194 297h0M151 321h0M253 317h0M109 294h0M159 357h0M129 299h0M195 311h0M156 322h0M155 293h0M146 353h0M120 284h0M162 340h0M147 288h0M202 317h0M151 291h0M162 355h0M102 302h0M203 331h0M148 326h0M221 293h0M148 305h0M206 338h0M258 300h0M199 321h0M151 306h0M131 294h0M109 307h0M262 287h0M230 334h0M221 330h0M116 284h0M151 298h0M119 304h0M154 339h0M155 304h0M117 318h0M195 314h0M158 313h0M160 290h0M129 313h0M262 309h0M197 346h0M145 296h0M193 333h0M193 312h0M165 98h0"/>
<path stroke="#8D99AE" d="M184 186h0M190 277h0M173 280h0M191 238h0M183 301h0M185 287h0M192 187h0M194 295h0M184 329h0M179 307h0M175 340h0M183 247h0M185 230h0M173 308h0M193 340h0M161 329h0M186 325h0M164 354h0M190 298h0M174 331h0M187 264h0M196 331h0M166 272h0M194 235h0M191 188h0M168 369h0M187 290h0M170 286h0M170 320h0M161 197h0M177 360h0M190 251h0M194 259h0M190 354h0M165 227h0M184 365h0M159 366h0M180 365h0M191 352h0M176 328h0M182 265h0M168 266h0M178 350h0M194 204h0M185 353h0M181 282h0M158 281h0M163 276h0M171 282h0M184 233h0M192 300h0M168 336h0M166 188h0M189 286h0M160 186h0M194 308h0M160 273h0M172 293h0M173 257h0M180 361h0M190 203h0M186 297h0M158 206h0M158 330h0M165 302h0M174 277h0M185 297h0M190 220h0M192 340h0M173 345h0M164 321h0M158 340h0M175 350h0M160 291h0M175 359h0M185 342h0M171 237h0M165 252h0M182 284h0M173 269h0M182 293h0M179 300h0M184 190h0M187 261h0M165 280h0M169 329h0M176 335h0M187 282h0M177 338h0M184 225h0M185 297h0M167 369h0M163 319h0M159 195h0M167 344h0M165 277h0M189 359h0M189 184h0M171 330h0M158 312h0M168 192h0M182 327h0M190 186h0M173 299h0M195 280h0M163 344h0M192 246h0M189 273h0M183 280h0M191 362h0M178 348h0M184 357h0M186 351h0M192 276h0M182 276h0M188 220h0M159 304h0M186 217h0M170 322h0M188 280h0M176 354h0M176 367h0M185 369h0M166 297h0M186 196h0M192 254h0M179 291h0M184 269h0M192 199h0M187 347h0M191 260h0M184 310h0M170 279h0M188 233h0M195 176h0M182 285h0M172 325h0M191 214h0M183 309h0M182 363h0M168 366h0M181 276h0M182 272h0M168 346h0M195 289h0M171 253h0M175 360h0M171 347h0M193 228h0M169 260h0M168 339h0M165 221h0M184 314h0M193 303h0M194 269h0M187 178h0M184 178h0M169 263h0M158 205h0M167 199h0M166 311h0M196 275h0M163 195h0M170 201h0M165 303h0M166 264h0M171 197h0M180 307h0M169 171h0M166 209h0M185 235h0M181 298h0M187 284h0M188 253h0M174 306h0M172 311h0M171 314h0M171 251h0M166 254h0M163 184h0M164 239h0M186 259h0M191 216h0M184 266h0M188 313h0M171 227h0M184 244h0M182 315h0M171 279h0M165 305h0M187 255h0M183 241h0M180 275h0M168 264h0M169 206h0M175 294h0M172 255h0M173 267h0M171 310h0M185 221h0M183 303h0M195 270h0M182 304h0M171 259h0M190 315h0M169 237h0M184 265h0M185 249h0M182 219h0M172 270h0M173 285h0M184 254h0M189 219h0M164 173h0M161 312h0M170 278h0M169 316h0M182 303h0M182 289h0M183 218h0M161 193h0M179 310h0M187 190h0M184 196h0M164 300h0M165 204h0M185 177h0M180 284h0M185 262h0M184 289h0M192 275h0M181 300h0M162 217h0M174 313h0M193 314h0M186 245h0M169 315h0M171 260h0M185 208h0M169 311h0M170 192h0M180 296h0M187 313h0M186 221h0M167 254h0M189 295h0M169 227h0M179 299h0M187 309h0M168 249h0M186 245h0M172 295h0M174 281h0M174 274h0M165 195h0M181 289h0M162 215h0M181 266h0M182 232h0M168 290h0M187 196h0M190 185h0M184 297h0M170 216h0M173 269h0M159 228h0M159 184h0M165 194h0M162 245h0M168 238h0M171 295h0M164 273h0M192 183h0M158 288h0M183 316h0M167 305h0M182 306h0M170 238h0M195 205h0M159 195h0M168 187h0M167 196h0M183 218h0M188 222h0M164 117h0M167 218h0M184 170h0M187 187h0M167 160h0M167 172h0M170 209h0M172 222h0M188 219h0M168 208h0M163 200h0M159 205h0M170 199h0M169 203h0M167 204h0M183 212h0M160 221h0M169 214h0M168 161h0M183 204h0M167 184h0M189 134h0M190 219h0M190 152h0M189 201h0M186 212h0M162 108h0M167 194h0M161 221h0M183 218h0M188 182h0M165 219h0M189 180h0M166 218h0M192 155h0M186 194h0M184 179h0M169 210h0M192 208h0M166 201h0M169 176h0M161 167h0M188 215h0M187 218h0M166 191h0M189 147h0M185 175h0M187 207h0M167 105h0M167 186h0M160 211h0M169 220h0M165 208h0M187 133h0M184 209h0M170 220h0M182 213h0M171 198h0M188 219h0M189 131h0M168 123h0M187 160h0M163 99h0M196 206h0M186 155h0M160 119h0M191 134h0M189 99h0M171 205h0M185 184h0M183 207h0M159 222h0M186 184h0M166 165h0M159 203h0M164 214h0M164 181h0M184 190h0M167 126h0M185 200h0M183 202h0M192 111h0M168 199h0M189 189h0M182 316h0M196 348h0M189 295h0M170 315h0M151 290h0M176 323h0M171 285h0M190 314h0M173 353h0M185 326h0M182 338h0M188 300h0M191 307h0M170 302h0M172 289h0M183 336h0M160 292h0M167 328h0M148 346h0M171 320h0M187 323h0M172 321h0M171 317h0M176 337h0M206 289h0M168 289h0M192 328h0M192 342h0M188 348h0M205 300h0M213 325h0M163 345h0M177 340h0M197 359h0M164 294h0M185 325h0M171 318h0M143 325h0M187 342h0M198 314h0M195 315h0M197 310h0M156 348h0M193 306h0M161 316h0M157 304h0M184 363h0M182 319h0M187 360h0M168 311h0M183 306h0M147 327h0M199 355h0M172 326h0M195 292h0M187 344h0M163 308h0M163 315h0M157 308h0M188 351h0M196 299h0M162 299h0M156 296h0M167 280h0M198 309h0M172 316h0M151 338h0M165 316h0M173 312h0M180 324h0M174 334h0M186 348h0M178 356h0M163 351h0M165 323h0M147 326h0M177 288h0M183 290h0M175 355h0M161 289h0M179 331h0M172 317h0M202 307h0M199 296h0M170 344h0M175 307h0M199 346h0M194 336h0M189 356h0M182 367h0M165 328h0M176 316h0M183 336h0M168 281h0M171 286h0M154 308h0M196 300h0M173 356h0M168 365h0M156 311h0M181 321h0M175 304h0M174 280h0M190 290h0M193 342h0M188 315h0M171 334h0M177 315h0M184 366h0M163 330h0M174 350h0M177 326h0M204 331h0M147 321h0M201 300h0M183 362h0M182 355h0M198 312h0M182 353h0M155 305h0M162 350h0M173 346h0M186 326h0M173 338h0M168 313h0M192 357h0M170 328h0M174 352h0M183 291h0M183 302h0M212 294h0M183 327h0M176 320h0M158 293h0M170 309h0M161 304h0M164 321h0M210 304h0M191 318h0M181 314h0M141 314h0M177 305h0M171 332h0M168 366h0M191 363h0M181 295h0M154 313h0M197 312h0M91 309h0M136 290h0M195 345h0M145 347h0M148 340h0M230 290h0M255 313h0M126 299h0M135 333h0M152 342h0M194 306h0M235 334h0M201 325h0M199 354h0M211 292h0M196 312h0M206 307h0M205 334h0M152 301h0M112 307h0M197 327h0M150 338h0M205 290h0M133 333h0M267 288h0M222 330h0M110 295h0M149 338h0M158 322h0M206 302h0M161 305h0M134 298h0M153 306h0M222 315h0M149 287h0M154 335h0M200 297h0M150 326h0M150 342h0M153 317h0M139 349h0M162 299h0M154 329h0M122 300h0M121 302h0M150 290h0M146 309h0M204 320h0M234 310h0M207 347h0M135 312h0M205 334h0M161 294h0M92 305h0M201 320h0M89 284h0M158 298h0M149 346h0M195 291h0M219 342h0M81 298h0M197 306h0M212 304h0M213 292h0M186 98h0M187 105h0"/>
<path stroke="#8D99AE" d="M178 371h0M184 236h0M192 313h0M163 278h0M188 280h0M169 291h0M190 280h0M162 305h0M178 367h0M184 277h0M163 322h0M167 322h0M184 344h0M184 256h0M195 331h0M195 196h0M187 346h0M180 342h0M183 196h0M186 338h0M181 305h0M180 350h0M181 260h0M170 306h0M162 253h0M167 235h0M162 305h0M166 293h0M158 348h0M190 239h0M192 219h0M186 235h0M180 315h0M179 337h0M170 190h0M190 361h0M172 307h0M173 368h0M187 207h0M163 335h0M164 183h0M170 282h0M190 301h0M192 316h0M192 279h0M184 349h0M180 315h0M171 326h0M166 368h0M184 323h0M173 244h0M193 237h0M162 291h0M163 177h0M185 222h0M180 308h0M172 245h0M160 359h0M174 343h0M183 361h0M165 290h0M166 314h0M173 317h0M186 213h0M191 312h0M169 327h0M162 324h0M191 192h0M172 288h0M174 332h0M159 320h0M180 339h0M158 249h0M181 295h0M192 217h0M184 215h0M182 359h0M167 250h0M188 288h0M183 266h0M193 246h0M164 292h0M161 235h0M170 204h0M195 338h0M189 321h0M161 213h0M181 313h0M192 301h0M168 220h0M184 260h0M188 317h0M195 188h0M169 294h0M168 278h0M163 289h0M188 204h0M161 255h0M171 357h0M180 298h0M182 259h0M186 249h0M184 219h0M187 306h0M165 351h0M166 199h0M183 197h0M170 316h0M163 314h0M192 236h0M172 363h0M162 349h0M188 259h0M165 366h0M171 277h0M194 186h0M163 208h0M168 367h0M164 264h0M176 354h0M195 297h0M183 363h0M180 290h0M161 310h0M166 225h0M164 272h0M182 242h0M168 371h0M187 308h0M170 343h0M164 308h0M171 233h0M161 279h0M184 259h0M169 212h0M190 265h0M185 327h0M171 368h0M179 349h0M169 364h0M186 186h0M169 183h0M170 213h0M179 349h0M185 183h0M187 303h0M165 359h0M169 332h0M168 239h0M159 259h0M158 305h0M182 321h0M169 242h0M166 333h0M183 369h0M187 179h0M181 285h0M190 236h0M161 284h0M193 170h0M185 178h0M165 226h0M187 236h0M189 186h0M184 182h0M183 240h0M166 269h0M184 305h0M160 197h0M185 313h0M183 186h0M166 305h0M180 313h0M183 233h0M188 285h0M184 211h0M169 286h0M191 305h0M191 267h0M166 173h0M186 223h0M171 264h0M169 256h0M168 211h0M161 192h0M167 189h0M170 275h0M176 317h0M183 207h0M166 241h0M190 250h0M169 189h0M186 179h0M181 314h0M162 200h0M173 281h0M184 281h0M167 255h0M186 305h0M186 307h0M173 305h0M187 171h0M171 249h0M186 182h0M196 296h0M170 287h0M163 179h0M171 265h0M172 235h0M182 290h0M170 296h0M184 288h0M168 197h0M183 310h0M190 209h0M173 239h0M174 283h0M181 290h0M163 271h0M168 283h0M172 241h0M166 260h0M183 288h0M185 202h0M190 231h0M165 181h0M170 274h0M190 308h0M170 221h0M165 184h0M164 282h0M185 271h0M171 251h0M182 313h0M185 301h0M187 293h0M180 281h0M163 174h0M165 255h0M173 246h0M195 315h0M182 314h0M172 222h0M174 307h0M165 303h0M173 272h0M165 190h0M179 302h0M187 301h0M171 250h0M192 274h0M162 268h0M194 183h0M183 242h0M188 213h0M171 284h0M189 188h0M189 286h0M159 100h0M169 173h0M164 104h0M184 170h0M169 198h0M166 182h0M166 125h0M164 170h0M170 217h0M162 112h0M192 183h0M168 164h0M166 145h0M189 179h0M168 136h0M169 132h0M168 141h0M169 162h0M163 150h0M172 215h0M192 126h0M185 214h0M183 206h0M159 215h0M167 132h0M186 202h0M169 171h0M165 160h0M170 195h0M168 210h0M185 155h0M186 160h0M185 199h0M190 221h0M164 125h0M171 211h0M170 184h0M192 150h0M196 214h0M161 141h0M188 195h0M193 116h0M168 154h0M191 221h0M186 185h0M188 181h0M188 150h0M184 179h0M190 111h0M185 210h0M186 184h0M170 199h0M185 220h0M192 205h0M159 209h0M170 215h0M165 149h0M159 204h0M167 143h0M166 223h0M167 142h0M187 190h0M163 221h0M169 147h0M185 184h0M170 172h0M163 188h0M171 221h0M188 203h0M188 206h0M168 147h0M189 129h0M170 212h0M161 134h0M185 220h0M185 194h0M165 201h0M188 148h0M165 105h0M185 217h0M166 173h0M158 152h0M168 191h0M165 132h0M188 124h0M185 204h0M186 214h0M168 127h0M167 101h0M191 214h0M164 149h0M164 213h0M169 195h0M164 181h0M173 295h0M149 343h0M182 315h0M207 349h0M147 336h0M174 309h0M201 320h0M195 322h0M174 287h0M186 361h0M183 363h0M201 313h0M171 332h0M176 339h0M151 320h0M180 322h0M168 338h0M170 353h0M171 352h0M171 288h0M176 289h0M172 314h0M166 325h0M187 364h0M174 336h0M156 304h0M181 323h0M184 317h0M166 338h0M162 331h0M176 347h0M175 294h0M165 357h0M165 346h0M178 280h0M167 351h0M174 303h0M172 329h0M190 290h0M183 360h0M179 344h0M191 336h0M185 316h0M202 318h0M199 304h0M178 326h0M141 336h0M166 343h0M175 350h0M187 284h0M167 326h0M151 314h0M183 329h0M178 343h0M188 327h0M187 318h0M157 312h0M173 321h0M174 320h0M174 306h0M164 363h0M187 358h0M177 353h0M174 355h0M182 307h0M176 288h0M153 303h0M181 341h0M162 304h0M185 355h0M203 303h0M165 352h0M170 304h0M180 338h0M154 325h0M162 351h0M173 360h0M156 311h0M162 337h0M177 323h0M182 327h0M180 336h0M187 306h0M186 318h0M163 316h0M168 303h0M180 354h0M162 347h0M181 311h0M146 346h0M185 349h0M182 339h0M165 340h0M199 288h0M170 364h0M170 304h0M187 308h0M176 282h0M184 338h0M197 346h0M184 343h0M173 345h0M181 328h0M199 309h0M181 299h0M168 335h0M196 281h0M141 294h0M168 355h0M183 338h0M186 363h0M183 333h0M190 288h0M152 309h0M164 308h0M170 309h0M188 291h0M172 367h0M184 336h0M168 331h0M171 345h0M170 354h0M176 302h0M189 352h0M188 319h0M172 355h0M164 336h0M184 298h0M185 302h0M184 346h0M181 351h0M170 349h0M169 308h0M188 336h0M161 316h0M190 288h0M189 359h0M199 300h0M180 329h0M201 329h0M220 327h0M111 285h0M236 287h0M261 291h0M207 330h0M132 288h0M162 343h0M108 326h0M199 284h0M156 291h0M197 319h0M213 308h0M157 327h0M191 318h0M135 340h0M158 337h0M135 287h0M157 350h0M154 336h0M223 334h0M220 316h0M162 313h0M222 290h0M140 286h0M244 319h0M150 308h0M233 294h0M203 302h0M135 301h0M138 298h0M220 293h0M154 323h0M149 289h0M136 294h0M157 319h0M146 311h0M245 297h0M81 305h0M195 292h0M160 289h0M217 305h0M135 345h0M142 298h0M93 300h0M160 338h0M112 335h0M135 344h0M125 294h0M155 318h0M199 296h0M157 334h0M156 314h0M193 335h0M120 316h0M210 329h0M162 326h0M154 333h0M211 298h0M95 321h0M123 303h0M156 316h0M200 322h0M148 299h0M198 302h0M100 309h0M231 323h0M152 346h0M156 338h0M101 321h0M188 49h0M296 316h0"/>
</svg>
<svg x="449.15" y="233.97" width="171.60" height="194.50" viewBox="0 0 343.20 389.00">
<path stroke="#F85E5E" d="M148 308h0M155 309h0M157 309h0M151 286h0M155 295h0M150 280h0M156 266h0M156 198h0M144 298h0M155 267h0M139 291h0M156 276h0M149 293h0M153 280h0M156 295h0M158 257h0M157 265h0M150 299h0M140 304h0M154 310h0M135 282h0M149 297h0M133 301h0M152 228h0M151 273h0M155 309h0M146 290h0M141 262h0M111 274h0M151 286h0M119 138h0M151 120h0M148 300h0M148 226h0M143 282h0M133 184h0M114 138h0M146 228h0M137 197h0M120 79h0"/>
<path stroke="#F85E5E" d="M152 307h0M156 309h0M152 308h0M156 272h0M152 298h0M119 271h0M154 263h0M151 307h0M136 269h0M156 247h0M141 256h0M151 205h0M150 289h0M142 300h0M153 222h0M155 290h0M148 240h0M146 286h0M146 292h0M156 272h0M154 266h0M152 251h0M147 279h0M157 305h0M151 292h0M154 307h0M134 217h0M155 251h0M152 291h0M156 256h0M152 286h0M153 296h0M130 288h0M136 172h0M132 277h0M108 294h0M127 136h0M145 294h0M138 139h0M151 295h0M146 255h0M141 280h0M151 221h0M155 253h0M151 53h0M99 73h0"/>
<path stroke="#F85E5E" d="M148 309h0M59 305h0M155 289h0M154 266h0M155 304h0M155 217h0M154 283h0M140 287h0M155 307h0M157 298h0M149 278h0M148 206h0M142 288h0M153 279h0M156 302h0M141 252h0M144 295h0M138 302h0M157 233h0M134 300h0M152 284h0M141 295h0M132 307h0M156 120h0M157 139h0M124 284h0M130 308h0M143 235h0M146 196h0M119 256h0M139 237h0M99 52h0M113 79h0M80 184h0"/>
<path stroke="#F85E5E" d="M65 309h0M156 303h0M152 273h0M142 240h0M146 308h0M156 295h0M145 296h0M149 277h0M142 297h0M150 284h0M158 242h0M155 298h0M157 305h0M154 247h0M152 293h0M150 309h0M155 299h0M150 242h0M145 281h0M150 289h0M157 303h0M152 268h0M155 281h0M154 297h0M154 220h0M153 289h0M153 209h0M138 129h0M149 267h0M142 141h0M114 220h0M140 131h0M152 296h0M151 219h0M121 93h0M157 301h0M113 282h0M153 273h0M155 252h0M158 176h0M138 147h0M143 52h0M77 278h0"/>
<path stroke="#F85E5E" d="M157 287h0M157 270h0M154 307h0M156 306h0M147 304h0M155 300h0M157 265h0M141 300h0M155 273h0M122 275h0M143 309h0M147 213h0M120 308h0M151 253h0M142 302h0M157 304h0M158 293h0M137 293h0M151 259h0M157 224h0M154 307h0M158 289h0M132 309h0M152 302h0M133 144h0M148 153h0M132 294h0M142 281h0M156 263h0M105 171h0M145 98h0M145 289h0M154 305h0"/>
<path stroke="#5B8FF9" d="M200 307h0M215 279h0M196 285h0M208 298h0M200 306h0M206 229h0M200 282h0M213 288h0M203 304h0M197 249h0M196 196h0M216 306h0M224 225h0M197 261h0M205 251h0M245 284h0M202 250h0M198 254h0M209 303h0M196 302h0M206 289h0M211 270h0M218 279h0M201 242h0M255 256h0M199 299h0M218 243h0M199 299h0M218 279h0M197 281h0M223 278h0M202 199h0M209 297h0M207 296h0M197 186h0M233 295h0M212 290h0M255 256h0M220 261h0M220 268h0M255 240h0M205 259h0M234 245h0M197 215h0M197 308h0M220 278h0M220 267h0M211 298h0M205 278h0M200 274h0M223 238h0M232 283h0M211 271h0M264 282h0M203 273h0M209 302h0M205 303h0M207 260h0M197 282h0M202 278h0M214 277h0M203 262h0M230 227h0M198 198h0M197 269h0M204 133h0M237 235h0M201 159h0M210 246h0M235 234h0M220 277h0M204 253h0M197 300h0M221 180h0M204 212h0M198 238h0M206 220h0M198 163h0M232 215h0M207 178h0M221 303h0M207 213h0M213 280h0M210 248h0M224 256h0M199 144h0M219 232h0M200 249h0M201 209h0M252 307h0M304 262h0"/>
<path stroke="#5B8FF9" d="M204 309h0M203 245h0M199 277h0M203 271h0M197 279h0M213 268h0M196 258h0M219 286h0M212 244h0M209 292h0M204 297h0M201 233h0M206 243h0M206 303h0M216 296h0M217 245h0M198 309h0M202 290h0M220 274h0M201 306h0M204 192h0M211 308h0M211 207h0M235 303h0M226 260h0M214 309h0M198 247h0M209 289h0M234 197h0M266 281h0M237 252h0M198 260h0M200 278h0M196 304h0M212 295h0M223 303h0M207 188h0M217 276h0M222 297h0M232 237h0M207 210h0M252 292h0M210 286h0M206 309h0M202 286h0M211 307h0M204 298h0M206 231h0M202 306h0M204 292h0M218 280h0M198 288h0M208 233h0M213 283h0M264 213h0M203 218h0M223 275h0M208 258h0M203 297h0M207 302h0M208 295h0M214 242h0M203 205h0M226 286h0M197 295h0M204 305h0M197 269h0M199 272h0M218 307h0M202 206h0M203 234h0M202 181h0M215 255h0M217 161h0M229 302h0M196 119h0M228 298h0M211 189h0M235 294h0M216 256h0M207 243h0M228 241h0M239 280h0M247 284h0M206 238h0M210 223h0M222 239h0M222 287h0M229 284h0M235 232h0M219 214h0M198 210h0M207 291h0M210 268h0M225 296h0M202 197h0M235 299h0M247 68h0M265 258h0"/>
<path stroke="#5B8FF9" d="M204 308h0M212 308h0M294 306h0M201 288h0M200 300h0M200 305h0M225 303h0M210 309h0M207 279h0M200 271h0M223 268h0M208 292h0M204 266h0M201 255h0M229 185h0M198 272h0M209 307h0M204 244h0M196 297h0M215 289h0M198 308h0M208 213h0M235 288h0M196 288h0M205 306h0M200 292h0M197 273h0M204 250h0M209 301h0M204 298h0M197 298h0M200 271h0M203 219h0M207 264h0M203 275h0M201 199h0M221 287h0M245 258h0M198 303h0M213 270h0M206 300h0M230 181h0M226 235h0M196 174h0M207 292h0M199 305h0M206 263h0M199 274h0M263 292h0M199 299h0M227 284h0M209 266h0M208 309h0M213 308h0M200 211h0M203 284h0M202 298h0M223 205h0M198 291h0M217 258h0M198 244h0M221 303h0M213 227h0M231 243h0M236 211h0M213 240h0M265 283h0M219 295h0M201 238h0M206 190h0M207 245h0M240 248h0M197 173h0M207 226h0M236 253h0M226 193h0M199 261h0M217 255h0M199 235h0M208 209h0M218 298h0M211 291h0M244 277h0M211 266h0M206 279h0M228 261h0M228 272h0M221 193h0M204 257h0M277 243h0"/>
<path stroke="#5B8FF9" d="M211 308h0M204 241h0M208 306h0M198 290h0M202 293h0M197 289h0M201 208h0M198 259h0M218 210h0M219 198h0M223 285h0M232 188h0M207 210h0M201 304h0M203 235h0M196 202h0M197 272h0M200 269h0M209 308h0M201 266h0M207 304h0M215 309h0M222 274h0M198 215h0M198 248h0M207 288h0M243 279h0M206 294h0M211 240h0M200 278h0M224 292h0M217 209h0M200 309h0M202 213h0M197 274h0M200 307h0M197 263h0M198 293h0M199 301h0M200 256h0M203 301h0M216 247h0M197 309h0M202 301h0M197 287h0M232 256h0M205 298h0M208 274h0M198 302h0M215 169h0M197 191h0M204 260h0M199 268h0M197 289h0M209 290h0M220 273h0M212 290h0M210 206h0M220 253h0M214 289h0M199 246h0M229 277h0M215 223h0M213 289h0M203 223h0M233 289h0M197 309h0M253 295h0M217 255h0M208 223h0M218 278h0M213 255h0M218 289h0M208 294h0M230 307h0"/>
<path stroke="#5B8FF9" d="M200 307h0M290 309h0M206 267h0M206 298h0M225 236h0M202 220h0M205 231h0M232 240h0M210 304h0M197 290h0M197 260h0M207 275h0M208 267h0M204 306h0M234 303h0M204 280h0M215 292h0M198 275h0M204 296h0M198 293h0M230 278h0M198 301h0M245 286h0M208 261h0M204 290h0M202 240h0M210 299h0M209 252h0M205 308h0M197 273h0M224 303h0M198 181h0M199 237h0M200 264h0M224 308h0M199 233h0M211 290h0M202 272h0M210 290h0M204 270h0M200 308h0M200 229h0M210 308h0M207 231h0M204 290h0M230 270h0M202 249h0M219 176h0M201 243h0M210 270h0M203 177h0M240 213h0M197 307h0M202 283h0M206 288h0M232 279h0M218 244h0M202 298h0M202 288h0M219 271h0M200 286h0M201 255h0M248 305h0M198 309h0M202 296h0M201 267h0M208 290h0M225 304h0M234 282h0M221 245h0M248 296h0M208 162h0M235 237h0M221 204h0M222 280h0M233 272h0M212 281h0M222 294h0M205 295h0M211 150h0M207 227h0M210 263h0M206 210h0M223 246h0M245 259h0M214 176h0M207 309h0M305 243h0M272 243h0"/>
<path stroke="#8D99AE" d="M172 314h0M168 313h0M167 275h0M188 192h0M192 296h0M183 307h0M182 369h0M183 335h0M166 301h0M162 288h0M165 203h0M195 323h0M188 247h0M184 234h0M194 265h0M164 238h0M189 211h0M190 222h0M162 358h0M171 285h0M165 193h0M187 219h0M188 236h0M167 230h0M185 326h0M172 312h0M182 342h0M160 335h0M184 360h0M193 199h0M171 238h0M175 328h0M180 290h0M180 289h0M169 357h0M174 327h0M168 353h0M161 268h0M187 178h0M181 270h0M164 312h0M192 297h0M184 309h0M184 317h0M166 320h0M196 278h0M169 248h0M192 288h0M159 236h0M192 277h0M181 349h0M171 301h0M165 349h0M173 272h0M181 289h0M171 263h0M167 334h0M164 367h0M160 262h0M174 320h0M173 287h0M190 226h0M185 273h0M172 301h0M165 316h0M190 345h0M186 283h0M160 196h0M166 204h0M159 194h0M190 190h0M171 247h0M180 315h0M184 288h0M181 286h0M170 282h0M163 170h0M169 363h0M173 318h0M182 297h0M185 212h0M194 323h0M188 298h0M172 322h0M186 177h0M190 347h0M183 210h0M172 349h0M175 358h0M168 371h0M173 320h0M173 368h0M187 269h0M195 263h0M195 262h0M189 301h0M184 282h0M190 245h0M196 303h0M189 341h0M194 320h0M196 171h0M180 325h0M162 214h0M162 172h0M167 333h0M195 337h0M159 279h0M180 368h0M162 192h0M169 354h0M166 322h0M172 320h0M184 250h0M189 368h0M186 316h0M159 225h0M189 207h0M165 198h0M159 190h0M182 254h0M190 254h0M196 244h0M195 177h0M185 176h0M171 348h0M182 296h0M189 177h0M186 311h0M192 226h0M194 309h0M187 353h0M172 369h0M195 321h0M165 277h0M169 233h0M194 197h0M179 338h0M188 276h0M166 285h0M187 220h0M184 370h0M191 245h0M160 292h0M159 308h0M188 182h0M174 306h0M159 191h0M186 277h0M192 349h0M185 330h0M180 306h0M161 359h0M163 304h0M194 290h0M183 236h0M174 295h0M162 197h0M190 269h0M160 281h0M170 276h0M165 261h0M190 337h0M165 304h0M180 348h0M180 310h0M191 246h0M187 363h0M171 243h0M169 343h0M159 181h0M171 303h0M163 241h0M169 310h0M165 268h0M185 241h0M194 199h0M168 176h0M192 273h0M180 301h0M194 234h0M159 238h0M191 217h0M160 259h0M162 299h0M181 313h0M183 362h0M190 305h0M186 215h0M167 208h0M193 267h0M168 198h0M159 217h0M188 336h0M170 298h0M165 204h0M173 365h0M170 256h0M176 366h0M160 339h0M165 353h0M191 272h0M191 211h0M178 352h0M169 246h0M189 281h0M173 283h0M165 292h0M182 257h0M165 362h0M193 278h0M182 318h0M183 345h0M162 348h0M188 317h0M174 349h0M185 327h0M192 293h0M163 332h0M185 194h0M174 320h0M192 232h0M160 224h0M164 194h0M184 196h0M171 323h0M163 345h0M163 170h0M186 237h0M188 180h0M165 235h0M187 308h0M167 237h0M194 371h0M171 319h0M168 207h0M189 327h0M159 180h0M168 346h0M188 175h0M168 178h0M184 190h0M186 175h0M168 197h0M190 189h0M186 180h0M167 201h0M189 155h0M166 191h0M192 143h0M164 172h0M168 196h0M164 160h0M186 161h0M165 144h0M185 196h0M189 168h0M188 168h0M196 155h0M167 174h0M194 164h0M169 196h0M159 159h0M188 166h0M190 129h0M189 190h0M168 189h0M161 198h0M167 118h0M165 123h0M187 199h0M165 172h0M192 174h0M195 200h0M185 189h0M165 190h0M191 170h0M186 145h0M192 180h0M190 121h0M186 164h0M186 149h0M188 188h0M188 199h0M163 200h0M164 188h0M162 198h0M190 120h0M169 184h0M189 132h0M162 180h0M169 189h0M191 118h0M168 183h0M172 325h0M158 318h0M183 325h0M194 341h0M185 309h0M213 310h0M199 318h0M181 314h0M188 343h0M157 355h0M135 311h0M203 333h0M180 338h0M175 325h0M162 322h0M165 309h0M172 338h0M155 347h0M153 348h0M166 316h0M147 311h0M177 354h0M166 315h0M180 340h0M187 344h0M216 333h0M159 313h0M165 331h0M158 308h0M165 336h0M198 354h0M180 326h0M175 321h0M168 358h0M217 336h0M176 357h0M184 364h0M177 354h0M171 328h0M206 341h0M178 362h0M188 358h0M173 342h0M169 311h0M180 320h0M184 313h0M192 357h0M183 316h0M179 339h0M143 339h0M144 323h0M198 352h0M162 351h0M185 356h0M186 314h0M194 307h0M203 351h0M156 347h0M200 323h0M159 329h0M175 356h0M182 318h0M191 308h0M193 334h0M191 316h0M176 368h0M191 345h0M153 326h0M154 350h0M149 345h0M207 321h0M142 326h0M179 365h0M163 321h0M191 344h0M201 319h0M153 328h0M166 363h0M178 316h0M155 338h0M203 311h0M188 364h0M187 319h0M142 324h0M171 327h0M179 366h0M146 317h0M212 337h0M145 322h0M155 337h0M180 360h0M189 334h0M155 316h0M199 339h0M160 319h0M149 329h0M141 341h0M186 350h0M189 351h0M206 316h0M199 348h0M169 355h0M161 342h0M189 324h0M145 351h0M175 328h0M192 334h0M175 342h0M152 315h0M163 314h0M139 327h0M138 337h0M177 360h0M184 329h0M180 319h0M206 333h0M136 327h0M200 314h0M141 335h0M188 308h0M145 319h0M200 342h0M168 344h0M185 350h0M189 352h0M171 349h0M205 326h0M181 320h0M186 353h0M204 332h0M179 338h0M182 363h0M205 337h0M173 326h0M202 356h0M156 312h0M161 338h0M207 336h0M179 365h0M200 351h0M202 333h0M161 333h0M169 334h0M180 332h0M187 316h0M176 326h0M154 336h0M184 363h0M158 341h0M162 353h0M191 340h0M149 323h0M189 341h0M167 314h0M186 361h0M186 336h0M206 340h0M197 349h0M149 322h0M219 320h0M198 347h0M196 339h0M201 356h0M177 327h0M176 323h0M191 355h0M172 325h0M157 327h0M228 339h0M127 320h0M142 343h0M206 329h0M155 311h0M150 322h0M141 338h0M155 352h0M200 333h0M131 320h0M155 338h0M218 321h0M147 314h0M129 314h0M141 321h0M211 351h0M122 339h0M229 312h0M207 342h0M242 328h0M197 318h0M207 319h0M125 329h0M128 311h0M215 345h0M203 310h0M76 311h0M226 337h0M202 330h0M249 311h0M152 320h0M197 332h0M134 343h0M131 322h0M130 343h0M132 336h0M214 329h0M125 327h0M246 316h0M154 358h0M155 353h0M135 313h0M199 310h0M147 316h0M206 316h0M134 317h0M199 339h0M197 344h0M237 313h0M265 314h0M131 311h0M248 321h0M226 337h0M268 315h0M133 344h0M132 325h0M131 312h0"/>
<path stroke="#8D99AE" d="M170 266h0M161 358h0M192 219h0M166 269h0M172 335h0M172 366h0M182 352h0M161 229h0M167 249h0M172 333h0M173 328h0M163 358h0M187 223h0M182 365h0M161 230h0M168 351h0M169 177h0M170 255h0M167 261h0M167 290h0M168 214h0M189 365h0M183 261h0M169 325h0M162 216h0M187 307h0M188 340h0M187 336h0M180 360h0M169 168h0M174 320h0M196 363h0M194 175h0M186 320h0M170 296h0M166 285h0M188 351h0M189 304h0M164 247h0M190 339h0M183 242h0M187 231h0M189 282h0M176 346h0M170 282h0M171 336h0M167 177h0M194 184h0M181 359h0M192 303h0M180 303h0M173 333h0M181 317h0M164 343h0M183 311h0M180 354h0M172 352h0M159 180h0M176 342h0M171 288h0M162 209h0M179 356h0M158 347h0M194 203h0M158 306h0M170 366h0M186 203h0M167 193h0M159 244h0M183 297h0M184 201h0M194 243h0M194 262h0M166 183h0M177 366h0M194 304h0M183 363h0M180 337h0M173 296h0M196 254h0M186 170h0M194 183h0M188 342h0M184 242h0M189 365h0M188 210h0M172 267h0M186 280h0M167 227h0M172 259h0M185 364h0M190 221h0M161 306h0M192 290h0M166 265h0M175 350h0M160 200h0M159 318h0M184 212h0M185 171h0M189 280h0M190 263h0M172 361h0M160 223h0M176 366h0M185 294h0M176 349h0M171 360h0M190 351h0M190 256h0M186 343h0M160 199h0M163 219h0M165 186h0M165 350h0M184 232h0M188 200h0M167 352h0M186 343h0M169 357h0M170 198h0M191 231h0M162 327h0M182 369h0M190 336h0M167 219h0M166 169h0M183 345h0M190 323h0M193 282h0M165 194h0M179 346h0M189 247h0M193 204h0M174 301h0M173 312h0M162 289h0M158 282h0M160 199h0M161 188h0M172 346h0M169 199h0M194 237h0M190 196h0M183 362h0M191 356h0M184 279h0M187 311h0M173 270h0M167 217h0M172 300h0M189 291h0M169 342h0M170 353h0M163 304h0M193 239h0M192 354h0M165 216h0M166 247h0M185 203h0M166 337h0M161 314h0M158 257h0M165 177h0M193 299h0M170 363h0M164 334h0M180 355h0M193 227h0M160 189h0M176 354h0M166 322h0M185 201h0M187 259h0M168 362h0M167 229h0M167 300h0M170 319h0M167 352h0M168 371h0M164 361h0M174 328h0M169 263h0M169 346h0M189 362h0M177 365h0M194 281h0M188 325h0M161 271h0M180 309h0M170 329h0M194 224h0M182 351h0M189 251h0M174 342h0M188 357h0M188 169h0M193 344h0M186 300h0M166 362h0M175 351h0M168 363h0M190 241h0M189 271h0M190 211h0M182 351h0M194 298h0M187 182h0M170 225h0M185 191h0M193 300h0M180 287h0M167 354h0M185 209h0M178 353h0M183 366h0M189 313h0M164 203h0M193 245h0M195 178h0M165 310h0M187 258h0M189 344h0M179 359h0M184 332h0M185 360h0M186 235h0M189 278h0M164 312h0M175 364h0M192 223h0M187 231h0M182 319h0M167 305h0M181 305h0M179 310h0M195 219h0M162 211h0M162 332h0M159 337h0M175 350h0M192 290h0M183 366h0M166 261h0M189 325h0M165 367h0M195 335h0M175 353h0M168 250h0M193 219h0M195 275h0M188 342h0M161 178h0M171 247h0M164 341h0M186 245h0M161 253h0M191 222h0M195 370h0M175 364h0M182 326h0M176 339h0M161 196h0M188 355h0M188 146h0M192 125h0M170 193h0M188 175h0M186 146h0M166 195h0M166 191h0M166 196h0M166 194h0M162 193h0M168 199h0M165 177h0M163 194h0M191 176h0M186 168h0M191 157h0M158 151h0M168 128h0M169 190h0M168 170h0M169 192h0M160 145h0M187 197h0M167 178h0M185 194h0M194 133h0M187 134h0M186 148h0M188 188h0M189 131h0M165 154h0M185 198h0M167 155h0M169 195h0M163 146h0M188 177h0M187 156h0M165 160h0M188 187h0M167 147h0M167 164h0M186 139h0M191 115h0M184 197h0M159 189h0M193 147h0M163 191h0M159 176h0M185 185h0M170 187h0M191 155h0M187 137h0M196 194h0M186 167h0M170 190h0M170 195h0M184 182h0M168 179h0M167 131h0M168 171h0M184 198h0M166 141h0M169 185h0M187 166h0M164 185h0M170 188h0M188 168h0M185 196h0M164 182h0M179 344h0M173 327h0M183 308h0M149 322h0M195 317h0M195 308h0M174 344h0M194 320h0M196 317h0M157 351h0M180 363h0M186 361h0M135 340h0M194 323h0M145 330h0M199 316h0M210 348h0M177 357h0M193 315h0M162 334h0M186 313h0M183 364h0M134 341h0M177 343h0M183 342h0M186 316h0M204 324h0M162 317h0M214 317h0M204 329h0M152 345h0M152 348h0M175 335h0M191 362h0M170 329h0M198 337h0M191 338h0M173 312h0M168 327h0M158 330h0M170 366h0M149 337h0M173 337h0M167 365h0M194 310h0M155 352h0M162 357h0M145 326h0M178 357h0M167 337h0M189 326h0M203 312h0M177 313h0M160 308h0M185 321h0M206 318h0M174 338h0M196 351h0M197 343h0M197 326h0M174 340h0M199 352h0M171 320h0M150 313h0M149 314h0M212 332h0M162 313h0M146 333h0M169 318h0M194 358h0M194 319h0M209 329h0M157 328h0M196 346h0M187 362h0M198 357h0M169 364h0M199 347h0M158 353h0M174 361h0M207 350h0M158 320h0M169 335h0M160 334h0M168 357h0M181 331h0M172 314h0M182 360h0M192 344h0M190 318h0M202 354h0M137 342h0M184 320h0M169 325h0M186 348h0M165 340h0M188 350h0M189 362h0M180 343h0M145 338h0M175 337h0M181 367h0M177 321h0M170 326h0M192 314h0M218 332h0M163 323h0M172 344h0M215 347h0M195 346h0M186 317h0M185 327h0M186 326h0M162 356h0M158 331h0M171 363h0M147 323h0M167 341h0M189 342h0M171 321h0M162 336h0M187 314h0M190 318h0M170 352h0M187 313h0M194 348h0M163 360h0M162 353h0M187 311h0M176 370h0M139 346h0M183 350h0M191 358h0M196 315h0M170 362h0M202 348h0M176 365h0M176 332h0M176 322h0M146 318h0M134 323h0M154 325h0M213 316h0M199 337h0M223 338h0M129 323h0M197 329h0M210 326h0M134 341h0M105 312h0M278 313h0M232 326h0M147 333h0M218 337h0M155 311h0M198 326h0M150 314h0M145 313h0M117 336h0M136 321h0M147 325h0M202 340h0M148 339h0M200 321h0M108 310h0M158 340h0M133 327h0M218 331h0M223 312h0M209 337h0M206 312h0M228 315h0M149 323h0M217 315h0M141 324h0M157 326h0M209 326h0M140 339h0M149 326h0M207 350h0M219 317h0M146 315h0M148 352h0M264 310h0M233 339h0M142 321h0M143 336h0M150 351h0M211 343h0M243 323h0M155 356h0M157 341h0M219 348h0M250 329h0M118 311h0M132 343h0"/>
<path stroke="#8D99AE" d="M166 190h0M193 320h0M180 369h0M195 196h0M194 215h0M168 350h0M195 171h0M170 237h0M171 301h0M188 274h0M167 205h0M181 347h0M194 305h0M165 351h0M170 255h0M167 274h0M168 306h0M184 203h0M195 198h0M169 297h0M184 350h0M189 294h0M188 239h0M183 229h0M185 207h0M194 321h0M184 367h0M187 189h0M173 363h0M186 240h0M190 194h0M188 361h0M174 307h0M173 316h0M172 267h0M181 280h0M169 313h0M190 228h0M183 327h0M194 221h0M164 179h0M158 246h0M189 202h0M186 192h0M187 337h0M173 301h0M181 352h0M174 365h0M179 365h0M188 193h0M167 244h0M187 346h0M163 315h0M191 357h0M165 271h0M193 327h0M159 295h0M184 231h0M162 359h0M158 196h0M185 345h0M165 370h0M161 222h0M185 214h0M166 194h0M164 173h0M170 278h0M189 335h0M192 204h0M176 364h0M191 287h0M158 276h0M193 318h0M171 323h0M163 274h0M183 344h0M170 324h0M168 313h0M183 298h0M189 240h0M168 250h0M186 181h0M167 361h0M170 200h0M173 361h0M186 334h0M182 359h0M185 298h0M158 322h0M165 279h0M171 341h0M178 354h0M165 255h0M173 316h0M196 355h0M169 317h0M194 195h0M173 358h0M184 231h0M184 223h0M191 203h0M172 288h0M171 351h0M184 325h0M196 241h0M167 298h0M184 337h0M158 190h0M180 352h0M189 359h0M178 365h0M174 313h0M170 191h0M165 178h0M170 262h0M173 278h0M165 213h0M165 351h0M185 324h0M159 354h0M194 257h0M186 305h0M185 320h0M158 194h0M193 183h0M192 239h0M192 303h0M174 334h0M180 303h0M189 307h0M160 182h0M168 171h0M160 272h0M195 239h0M173 365h0M193 174h0M170 202h0M188 196h0M185 327h0M170 254h0M194 302h0M164 209h0M165 325h0M174 287h0M167 359h0M163 219h0M164 227h0M195 205h0M175 349h0M161 301h0M162 267h0M159 361h0M187 355h0M174 334h0M186 360h0M173 345h0M182 306h0M165 195h0M159 188h0M189 344h0M165 266h0M185 217h0M165 324h0M171 320h0M169 203h0M167 238h0M166 324h0M196 325h0M168 371h0M190 342h0M167 192h0M161 217h0M186 360h0M183 303h0M191 291h0M161 172h0M162 319h0M186 314h0M162 327h0M165 263h0M191 185h0M183 254h0M191 303h0M189 369h0M166 368h0M164 254h0M159 211h0M180 323h0M181 260h0M190 307h0M190 317h0M167 237h0M168 310h0M165 290h0M196 293h0M169 340h0M164 225h0M182 362h0M192 248h0M191 232h0M190 322h0M193 206h0M158 189h0M158 333h0M191 186h0M191 349h0M160 254h0M165 260h0M190 357h0M167 320h0M175 367h0M188 337h0M187 239h0M165 306h0M193 199h0M161 193h0M170 322h0M171 307h0M170 290h0M193 363h0M185 352h0M194 292h0M186 243h0M183 298h0M175 343h0M167 296h0M168 249h0M159 201h0M163 234h0M195 292h0M194 279h0M196 363h0M170 241h0M181 316h0M162 338h0M182 348h0M187 277h0M171 225h0M159 294h0M183 276h0M188 342h0M193 349h0M180 331h0M163 183h0M189 195h0M181 343h0M171 263h0M196 179h0M168 194h0M195 186h0M191 174h0M185 198h0M169 195h0M189 164h0M167 124h0M168 192h0M167 175h0M169 164h0M162 192h0M186 183h0M167 174h0M167 152h0M188 198h0M190 192h0M165 178h0M187 126h0M196 188h0M170 195h0M163 174h0M193 199h0M166 199h0M165 176h0M188 167h0M190 190h0M168 174h0M188 199h0M186 200h0M161 186h0M169 186h0M165 181h0M186 199h0M187 188h0M188 125h0M163 173h0M159 154h0M184 190h0M163 197h0M188 170h0M186 153h0M166 192h0M166 152h0M164 192h0M188 168h0M169 183h0M162 189h0M186 190h0M189 122h0M167 183h0M193 160h0M162 117h0M190 183h0M194 128h0M187 182h0M185 187h0M166 162h0M165 150h0M170 194h0M162 197h0M170 197h0M185 155h0M169 167h0M165 177h0M186 161h0M191 144h0M167 358h0M209 343h0M179 330h0M181 366h0M149 346h0M194 341h0M191 339h0M170 351h0M193 336h0M166 324h0M161 357h0M163 335h0M164 328h0M188 325h0M183 324h0M152 324h0M191 362h0M184 312h0M181 340h0M162 335h0M159 355h0M191 310h0M182 324h0M169 326h0M187 332h0M173 319h0M146 345h0M171 342h0M193 348h0M158 356h0M175 348h0M188 314h0M205 343h0M193 360h0M179 369h0M157 327h0M155 332h0M187 350h0M164 354h0M187 353h0M154 351h0M199 343h0M173 348h0M167 343h0M204 345h0M183 337h0M194 341h0M169 308h0M185 316h0M173 329h0M146 345h0M144 313h0M196 345h0M200 339h0M167 344h0M192 351h0M193 359h0M156 337h0M165 356h0M193 360h0M218 323h0M185 363h0M152 341h0M156 355h0M163 321h0M176 310h0M184 335h0M145 327h0M158 310h0M173 311h0M149 343h0M161 332h0M160 317h0M166 338h0M191 342h0M166 324h0M189 318h0M141 331h0M176 348h0M167 345h0M161 340h0M203 315h0M166 310h0M171 341h0M196 318h0M155 328h0M187 310h0M166 319h0M156 331h0M161 340h0M163 315h0M180 342h0M192 347h0M183 314h0M163 351h0M151 342h0M182 351h0M169 330h0M157 310h0M185 354h0M174 318h0M184 358h0M178 360h0M177 323h0M193 339h0M160 328h0M186 340h0M164 355h0M168 321h0M169 355h0M189 343h0M141 315h0M194 329h0M188 311h0M177 323h0M177 357h0M155 346h0M166 345h0M151 345h0M147 329h0M180 366h0M193 313h0M186 338h0M194 327h0M163 318h0M179 354h0M164 326h0M190 344h0M201 340h0M169 315h0M186 349h0M167 321h0M203 354h0M152 315h0M220 322h0M161 343h0M186 355h0M205 316h0M211 341h0M174 309h0M160 352h0M172 368h0M167 341h0M204 314h0M196 319h0M175 344h0M172 329h0M163 311h0M164 362h0M212 318h0M175 322h0M206 342h0M88 314h0M152 310h0M209 352h0M204 333h0M204 352h0M75 314h0M139 333h0M148 336h0M100 323h0M143 339h0M214 318h0M143 311h0M155 333h0M198 311h0M123 316h0M217 317h0M275 310h0M198 319h0M155 310h0M211 344h0M218 318h0M197 356h0M208 335h0M241 313h0M107 316h0M147 317h0M201 315h0M199 323h0M213 348h0M221 332h0M278 311h0M250 312h0M135 319h0M258 314h0M208 315h0M141 325h0M197 312h0M154 327h0M214 310h0M241 321h0M129 314h0M148 346h0M221 314h0M243 321h0M152 356h0M206 316h0M84 311h0M157 349h0M270 314h0M211 337h0M243 320h0M140 329h0M142 319h0M136 337h0M212 325h0M191 80h0M60 327h0M164 92h0"/>
<path stroke="#8D99AE" d="M174 358h0M190 226h0M187 196h0M162 206h0M194 233h0M188 256h0M187 262h0M167 241h0M189 188h0M185 333h0M193 239h0M188 217h0M172 242h0M165 268h0M181 279h0M183 273h0M160 278h0M183 312h0M167 228h0M189 337h0M179 341h0M172 310h0M179 342h0M172 248h0M193 225h0M191 251h0M193 265h0M162 366h0M194 261h0M167 290h0M180 319h0M163 204h0M178 362h0M169 329h0M184 239h0M160 327h0M163 258h0M163 311h0M159 304h0M190 215h0M192 269h0M184 235h0M173 345h0M166 178h0M161 325h0M165 305h0M169 316h0M185 229h0M182 289h0M180 349h0M170 306h0M168 260h0M192 263h0M182 281h0M160 237h0M181 283h0M163 274h0M169 287h0M164 360h0M171 312h0M194 310h0M162 242h0M172 336h0M172 311h0M173 308h0M169 362h0M196 193h0M186 177h0M185 192h0M186 349h0M190 355h0M174 308h0M184 234h0M168 210h0M174 339h0M195 352h0M191 172h0M185 306h0M165 232h0M165 278h0M184 277h0M191 317h0M183 214h0M163 312h0M173 286h0M166 311h0M169 315h0M171 323h0M174 304h0M173 343h0M160 276h0M181 357h0M190 371h0M185 265h0M165 192h0M163 293h0M187 211h0M165 274h0M174 356h0M192 248h0M169 179h0M160 213h0M185 195h0M170 264h0M161 359h0M192 367h0M175 350h0M190 337h0M190 238h0M168 316h0M195 263h0M158 194h0M170 342h0M192 231h0M169 169h0M162 344h0M166 214h0M187 212h0M189 330h0M168 261h0M164 275h0M195 192h0M163 193h0M175 367h0M171 331h0M167 331h0M192 216h0M184 228h0M160 313h0M167 210h0M170 345h0M191 204h0M165 233h0M189 176h0M186 360h0M193 331h0M180 354h0M172 266h0M180 331h0M183 367h0M195 325h0M195 180h0M175 358h0M171 369h0M174 341h0M161 261h0M192 282h0M188 289h0M168 328h0M158 296h0M189 352h0M167 274h0M187 355h0M183 333h0M159 222h0M187 280h0M171 283h0M189 236h0M164 275h0M167 218h0M172 317h0M183 251h0M193 180h0M169 223h0M160 335h0M181 307h0M194 367h0M189 320h0M161 186h0M161 274h0M170 191h0M165 242h0M165 307h0M163 307h0M188 231h0M194 341h0M189 285h0M196 337h0M193 305h0M171 231h0M182 328h0M162 300h0M195 340h0M182 324h0M190 216h0M189 225h0M168 354h0M171 328h0M166 284h0M188 241h0M187 195h0M159 243h0M171 358h0M160 348h0M186 297h0M190 349h0M164 326h0M182 267h0M161 315h0M173 310h0M180 309h0M193 278h0M187 268h0M189 280h0M172 267h0M161 252h0M167 323h0M160 281h0M184 213h0M169 174h0M192 346h0M188 301h0M172 314h0M159 349h0M182 316h0M169 326h0M164 235h0M172 346h0M184 231h0M172 263h0M163 368h0M182 370h0M162 229h0M169 224h0M191 170h0M191 270h0M170 365h0M191 175h0M174 319h0M194 269h0M184 304h0M184 292h0M160 316h0M164 228h0M170 360h0M159 354h0M161 238h0M165 365h0M184 281h0M170 217h0M158 367h0M188 203h0M165 241h0M175 325h0M167 320h0M182 239h0M172 371h0M164 299h0M187 240h0M163 362h0M185 299h0M182 284h0M167 207h0M166 299h0M184 281h0M190 247h0M166 357h0M190 340h0M174 368h0M186 248h0M195 288h0M181 267h0M192 280h0M162 304h0M170 194h0M160 181h0M186 177h0M166 114h0M184 201h0M194 196h0M168 143h0M186 181h0M169 177h0M166 176h0M168 189h0M170 198h0M186 187h0M168 177h0M163 146h0M187 197h0M167 139h0M193 192h0M190 199h0M195 153h0M168 192h0M187 167h0M164 150h0M167 156h0M170 199h0M185 146h0M168 158h0M184 182h0M185 188h0M168 156h0M161 152h0M167 165h0M188 183h0M189 159h0M170 199h0M167 197h0M167 117h0M187 160h0M167 161h0M165 194h0M189 125h0M166 200h0M170 200h0M186 191h0M168 173h0M191 163h0M170 196h0M187 196h0M186 152h0M167 118h0M166 119h0M163 142h0M187 169h0M161 175h0M186 190h0M184 188h0M184 197h0M190 198h0M165 186h0M167 156h0M189 129h0M189 200h0M164 131h0M169 183h0M188 176h0M192 143h0M185 170h0M187 199h0M188 199h0M162 171h0M184 187h0M169 160h0M166 143h0M187 123h0M169 189h0M146 344h0M193 309h0M174 308h0M169 349h0M184 329h0M178 324h0M171 308h0M179 319h0M162 338h0M180 336h0M170 321h0M192 346h0M204 349h0M187 313h0M164 325h0M165 318h0M149 320h0M190 358h0M191 356h0M174 352h0M144 317h0M186 337h0M171 310h0M197 342h0M180 332h0M186 308h0M187 307h0M214 327h0M175 356h0M193 319h0M153 315h0M188 355h0M159 338h0M181 346h0M164 342h0M192 345h0M174 342h0M174 366h0M201 329h0M175 367h0M198 334h0M185 345h0M135 342h0M198 348h0M207 340h0M158 313h0M177 353h0M158 326h0M167 334h0M187 315h0M170 351h0M200 331h0M165 364h0M182 312h0M163 340h0M208 320h0M163 346h0M178 365h0M162 351h0M195 307h0M172 314h0M161 317h0M211 319h0M180 330h0M189 324h0M171 310h0M182 363h0M177 342h0M162 342h0M186 345h0M180 340h0M185 312h0M209 312h0M159 338h0M184 341h0M179 361h0M209 341h0M176 338h0M208 334h0M182 334h0M169 350h0M170 350h0M193 358h0M171 331h0M160 356h0M184 360h0M186 365h0M195 317h0M153 317h0M163 327h0M161 309h0M185 316h0M196 342h0M178 363h0M148 316h0M160 318h0M187 362h0M181 355h0M189 317h0M167 362h0M155 355h0M197 358h0M150 318h0M194 318h0M157 356h0M195 332h0M191 328h0M183 328h0M191 359h0M175 350h0M199 341h0M159 343h0M170 337h0M165 333h0M177 309h0M158 312h0M182 366h0M196 324h0M215 346h0M197 339h0M152 325h0M138 335h0M197 348h0M163 347h0M193 319h0M149 342h0M149 324h0M180 349h0M158 318h0M145 311h0M166 325h0M149 348h0M175 370h0M165 341h0M197 313h0M144 340h0M192 342h0M180 358h0M177 321h0M199 330h0M218 322h0M187 333h0M182 359h0M161 324h0M178 308h0M177 314h0M158 345h0M165 360h0M179 314h0M154 339h0M154 328h0M155 313h0M145 346h0M143 311h0M176 365h0M184 317h0M163 322h0M213 312h0M162 320h0M183 321h0M185 340h0M138 330h0M207 323h0M188 308h0M164 359h0M194 315h0M185 338h0M150 318h0M163 348h0M200 322h0M117 318h0M125 314h0M142 350h0M242 316h0M155 354h0M120 336h0M234 313h0M200 341h0M213 336h0M200 333h0M114 319h0M235 335h0M158 310h0M202 326h0M158 348h0M156 315h0M132 346h0M156 324h0M116 315h0M202 318h0M142 314h0M205 321h0M197 355h0M203 337h0M117 322h0M200 332h0M126 321h0M118 316h0M208 334h0M137 320h0M236 332h0M237 326h0M255 324h0M157 319h0M155 336h0M236 336h0M130 322h0M156 341h0M236 320h0M136 323h0M208 347h0M102 325h0M223 333h0M217 313h0M215 322h0M83 310h0M207 351h0M150 323h0M223 332h0M255 314h0M167 19h0M165 78h0M189 106h0"/>
<path stroke="#8D99AE" d="M182 303h0M190 353h0M174 295h0M181 343h0M183 340h0M168 346h0M168 251h0M173 293h0M188 359h0M182 352h0M188 264h0M162 348h0M162 190h0M171 337h0M184 275h0M190 314h0M193 307h0M182 314h0M187 182h0M163 352h0M170 293h0M161 268h0M160 209h0M171 358h0M165 198h0M190 341h0M165 354h0M169 334h0M173 342h0M159 249h0M194 184h0M188 300h0M187 255h0M165 255h0M189 320h0M192 287h0M172 245h0M166 341h0M163 178h0M186 231h0M172 272h0M164 172h0M165 341h0M159 312h0M186 295h0M164 251h0M184 216h0M194 203h0M170 334h0M183 278h0M172 283h0M191 288h0M168 340h0M181 282h0M174 349h0M183 298h0M188 296h0M161 265h0M190 370h0M159 261h0M165 192h0M160 338h0M188 324h0M169 335h0M172 366h0M159 348h0M194 214h0M183 312h0M173 273h0M173 360h0M175 353h0M166 194h0M165 295h0M165 209h0M165 334h0M166 340h0M166 321h0M162 268h0M191 306h0M171 251h0M183 320h0M172 266h0M166 350h0M171 201h0M196 341h0M189 212h0M195 286h0M171 293h0M191 370h0M169 363h0M186 302h0M179 331h0M169 298h0M173 332h0M170 255h0M173 302h0M170 362h0M182 364h0M189 219h0M182 301h0M180 317h0M162 242h0M167 258h0M171 348h0M195 337h0M168 281h0M191 219h0M182 338h0M170 348h0M166 205h0M168 270h0M171 330h0M195 344h0M170 262h0M172 345h0M171 217h0M170 206h0M178 348h0M194 224h0M169 187h0M193 328h0M192 282h0M180 367h0M191 338h0M167 241h0M160 236h0M169 230h0M164 213h0M163 247h0M189 185h0M193 362h0M184 291h0M168 353h0M168 193h0M192 275h0M166 308h0M192 286h0M188 317h0M184 255h0M190 184h0M189 236h0M161 238h0M163 344h0M172 342h0M171 363h0M164 369h0M190 371h0M167 173h0M185 226h0M163 346h0M161 370h0M174 363h0M172 285h0M172 245h0M164 198h0M194 368h0M180 336h0M191 184h0M184 203h0M159 262h0M188 284h0M165 337h0M158 245h0M182 306h0M185 328h0M178 371h0M165 244h0M166 326h0M162 240h0M169 240h0M184 318h0M196 323h0M189 320h0M160 232h0M190 246h0M168 290h0M174 304h0M159 337h0M169 310h0M171 345h0M183 261h0M167 265h0M189 174h0M162 226h0M186 354h0M186 335h0M194 317h0M165 228h0M171 288h0M164 251h0M166 333h0M167 345h0M188 197h0M195 240h0M167 305h0M183 279h0M167 284h0M171 286h0M184 327h0M195 237h0M171 349h0M188 312h0M188 203h0M184 214h0M170 310h0M158 225h0M176 344h0M186 356h0M170 308h0M193 179h0M172 285h0M181 332h0M186 168h0M194 184h0M183 327h0M184 363h0M164 188h0M169 264h0M176 366h0M172 312h0M183 244h0M187 317h0M186 216h0M160 210h0M196 303h0M180 356h0M169 212h0M162 219h0M187 310h0M161 302h0M181 347h0M160 235h0M186 231h0M176 365h0M183 248h0M168 219h0M183 337h0M164 266h0M163 342h0M173 310h0M164 193h0M194 174h0M195 248h0M167 243h0M169 192h0M167 211h0M184 297h0M182 358h0M187 231h0M183 348h0M167 175h0M193 288h0M161 345h0M163 366h0M184 286h0M194 221h0M173 295h0M165 289h0M169 233h0M182 292h0M163 347h0M189 197h0M180 360h0M181 303h0M173 340h0M188 239h0M172 368h0M190 341h0M167 365h0M178 369h0M185 281h0M186 291h0M169 256h0M174 349h0M159 342h0M195 282h0M161 268h0M167 206h0M188 363h0M161 178h0M194 174h0M162 274h0M163 318h0M181 347h0M173 290h0M193 344h0M185 186h0M186 166h0M185 169h0M194 198h0M163 199h0M165 165h0M161 143h0M163 149h0M192 180h0M185 183h0M189 177h0M170 181h0M185 165h0M187 189h0M190 197h0M185 184h0M166 164h0M194 134h0M161 116h0M187 188h0M186 198h0M188 199h0M187 192h0M187 140h0M169 192h0M185 171h0M187 145h0M169 187h0M169 172h0M169 180h0M185 198h0M170 192h0M167 182h0M184 199h0M170 185h0M169 163h0M169 178h0M167 133h0M193 191h0M168 154h0M185 169h0M185 190h0M168 176h0M187 189h0M168 156h0M165 173h0M166 158h0M185 198h0M184 188h0M164 152h0M168 160h0M167 173h0M164 139h0M164 125h0M162 200h0M196 161h0M169 164h0M187 159h0M169 182h0M165 200h0M186 153h0M165 187h0M170 200h0M192 158h0M214 344h0M204 327h0M189 311h0M190 339h0M172 356h0M201 315h0M168 323h0M155 355h0M182 313h0M183 320h0M184 334h0M204 329h0M198 358h0M158 325h0M180 312h0M205 348h0M195 321h0M166 330h0M174 353h0M187 347h0M148 324h0M187 330h0M170 365h0M152 343h0M191 339h0M185 328h0M181 320h0M161 360h0M171 343h0M200 335h0M181 310h0M136 326h0M152 323h0M150 334h0M198 349h0M187 353h0M209 347h0M193 344h0M160 335h0M182 357h0M169 353h0M152 315h0M166 361h0M153 337h0M168 313h0M197 341h0M206 329h0M200 310h0M167 352h0M215 343h0M159 327h0M184 362h0M200 335h0M166 310h0M184 348h0M157 322h0M179 319h0M187 361h0M165 357h0M142 331h0M156 323h0M174 361h0M208 333h0M200 315h0M179 343h0M204 332h0M204 346h0M182 337h0M195 318h0M195 312h0M189 329h0M176 338h0M196 358h0M179 344h0M186 363h0M163 322h0M169 317h0M219 323h0M201 332h0M178 320h0M158 320h0M174 329h0M168 316h0M158 326h0M155 311h0M160 332h0M188 316h0M189 346h0M174 365h0M177 326h0M166 329h0M220 314h0M161 328h0M175 331h0M177 345h0M184 359h0M188 308h0M175 332h0M173 309h0M155 351h0M137 331h0M141 311h0M204 314h0M147 327h0M198 355h0M211 342h0M153 314h0M145 344h0M191 326h0M175 359h0M164 313h0M189 357h0M163 327h0M183 339h0M179 357h0M168 355h0M162 356h0M176 317h0M170 326h0M203 348h0M165 345h0M196 348h0M154 323h0M175 362h0M206 350h0M163 340h0M172 333h0M161 316h0M164 334h0M168 312h0M200 346h0M187 359h0M182 336h0M179 318h0M182 356h0M192 337h0M151 353h0M188 359h0M209 314h0M172 310h0M169 357h0M167 356h0M214 321h0M165 360h0M202 318h0M173 312h0M147 315h0M204 322h0M164 318h0M175 316h0M164 346h0M165 339h0M156 310h0M177 324h0M173 321h0M197 336h0M172 340h0M180 316h0M178 342h0M197 354h0M208 327h0M207 324h0M219 345h0M153 334h0M106 329h0M256 312h0M153 325h0M138 332h0M142 343h0M99 319h0M99 317h0M217 310h0M212 344h0M220 341h0M154 318h0M155 342h0M210 321h0M202 335h0M232 333h0M116 317h0M224 314h0M204 351h0M139 314h0M152 334h0M133 315h0M226 313h0M216 316h0M150 335h0M197 326h0M231 326h0M242 321h0M209 336h0M203 317h0M221 313h0M138 323h0M143 328h0M217 315h0M136 341h0M218 311h0M152 346h0M148 320h0M198 337h0M255 327h0M158 310h0M202 312h0M200 313h0M158 322h0M199 356h0M220 343h0M128 317h0M142 313h0M212 334h0M93 314h0M149 342h0M138 332h0M215 325h0M167 22h0M57 314h0M168 99h0M192 92h0"/>
</svg>
<svg x="41.97" y="452.96" width="171.60" height="194.50" viewBox="0 0 343.20 389.00">
<path stroke="#F85E5E" d="M157 197h0M156 247h0M151 262h0M142 101h0M146 266h0M149 115h0M156 276h0M152 317h0M145 318h0M109 312h0M156 217h0M141 298h0M153 232h0M143 234h0M154 281h0M156 292h0M147 316h0M133 313h0M157 321h0M154 129h0M149 321h0M156 309h0M145 49h0M156 301h0M149 302h0M144 321h0M151 252h0M140 305h0M157 224h0M143 244h0M152 274h0M141 264h0M141 247h0M149 200h0M152 230h0M151 229h0M153 236h0M144 240h0M152 269h0M143 315h0M153 298h0M139 256h0M149 227h0M155 303h0M140 313h0M138 302h0M156 311h0M151 322h0M151 281h0M153 281h0M153 155h0M155 306h0M157 317h0M156 27h0M150 294h0M146 318h0M150 155h0M155 273h0M157 152h0M155 143h0M123 198h0M152 216h0M139 320h0M153 302h0M156 247h0M156 151h0M131 215h0M151 250h0M148 314h0M151 285h0M134 157h0M144 313h0M143 315h0M123 322h0M137 323h0M156 241h0M156 311h0M155 203h0M155 225h0M147 261h0M155 288h0M158 243h0M141 263h0M151 269h0M153 284h0M152 289h0M155 228h0M153 258h0M154 316h0M150 197h0M154 317h0M156 246h0M156 158h0M146 192h0M132 237h0M152 306h0M155 174h0M151 318h0M151 301h0M145 214h0M133 268h0M150 321h0M151 322h0M155 111h0M154 274h0M150 159h0M152 216h0M121 299h0M144 228h0M154 221h0M157 161h0M136 311h0M155 165h0M153 236h0M156 272h0M147 90h0M154 287h0M151 285h0M152 311h0M157 165h0M149 301h0M148 263h0M147 317h0M106 298h0M137 255h0M154 309h0M157 280h0M156 214h0M158 305h0M129 281h0M154 273h0M153 156h0M151 298h0M149 289h0M152 140h0M155 144h0M139 301h0M138 250h0M155 213h0M152 203h0M147 262h0M148 294h0M157 311h0M151 277h0M134 299h0M157 88h0M142 217h0M150 108h0M146 285h0M158 36h0M153 313h0M151 311h0M151 46h0M145 312h0M152 201h0M157 214h0M117 303h0M154 286h0M124 259h0M149 44h0M119 199h0M93 316h0M148 115h0M143 322h0M151 77h0M124 300h0M118 294h0M125 282h0M145 111h0M153 229h0M153 299h0M128 203h0M147 295h0M133 225h0M136 162h0M149 318h0M121 38h0M155 245h0M95 242h0M103 287h0M117 240h0M120 72h0M152 242h0M150 168h0M119 249h0M125 58h0M122 298h0M110 175h0M130 287h0M133 107h0M119 214h0M149 290h0M138 159h0M75 175h0M132 311h0M142 287h0M156 161h0M132 299h0M122 132h0M149 289h0M121 297h0M131 236h0M118 305h0M125 246h0M143 268h0M123 319h0M142 123h0M138 306h0M61 223h0M126 111h0M139 304h0M149 163h0M127 165h0M153 139h0M146 120h0M151 189h0M124 94h0M127 222h0M138 164h0M144 145h0M149 168h0M145 205h0M113 278h0M126 197h0M139 226h0M94 219h0M127 254h0M106 210h0M135 269h0M124 98h0M156 318h0"/>
<path stroke="#F85E5E" d="M150 321h0M149 279h0M140 264h0M126 112h0M144 244h0M156 254h0M147 216h0M153 289h0M156 148h0M145 164h0M156 317h0M138 129h0M154 260h0M144 132h0M152 307h0M153 234h0M155 279h0M149 289h0M149 245h0M158 298h0M152 289h0M153 288h0M152 281h0M153 323h0M147 24h0M126 275h0M137 205h0M152 239h0M154 271h0M156 28h0M125 292h0M135 237h0M156 322h0M154 57h0M128 279h0M155 237h0M148 250h0M157 159h0M151 313h0M151 208h0M146 311h0M154 306h0M149 272h0M155 192h0M145 204h0M143 228h0M149 132h0M148 320h0M156 293h0M129 272h0M155 249h0M156 315h0M156 182h0M155 313h0M157 158h0M138 314h0M154 247h0M134 242h0M158 235h0M157 287h0M123 315h0M138 297h0M151 308h0M151 177h0M158 128h0M129 309h0M153 290h0M148 244h0M138 176h0M153 263h0M158 168h0M147 262h0M157 181h0M153 289h0M148 284h0M139 154h0M149 268h0M103 254h0M149 273h0M139 235h0M152 279h0M155 295h0M151 207h0M158 286h0M153 122h0M153 285h0M158 264h0M154 283h0M157 287h0M139 263h0M149 210h0M129 251h0M157 230h0M158 240h0M123 297h0M146 262h0M140 232h0M152 225h0M145 282h0M132 289h0M152 311h0M150 321h0M157 223h0M146 226h0M152 302h0M151 299h0M115 253h0M143 322h0M146 171h0M141 318h0M144 250h0M148 308h0M158 265h0M153 304h0M155 254h0M149 286h0M156 140h0M138 304h0M147 298h0M156 150h0M151 45h0M158 271h0M141 295h0M149 168h0M157 237h0M158 233h0M150 269h0M138 255h0M148 180h0M154 190h0M129 308h0M157 237h0M136 252h0M148 323h0M146 314h0M148 193h0M156 315h0M152 291h0M143 218h0M157 301h0M152 323h0M141 170h0M155 261h0M149 233h0M148 228h0M156 113h0M157 193h0M155 93h0M157 245h0M142 89h0M157 218h0M144 230h0M151 255h0M152 252h0M147 138h0M147 201h0M154 169h0M153 166h0M152 276h0M151 294h0M157 312h0M153 302h0M154 139h0M146 146h0M148 273h0M118 218h0M153 278h0M154 162h0M146 309h0M144 266h0M149 321h0M153 309h0M121 287h0M73 116h0M151 160h0M141 180h0M97 154h0M100 158h0M148 262h0M111 266h0M148 323h0M157 303h0M153 225h0M135 188h0M110 153h0M70 301h0M99 280h0M134 96h0M129 264h0M131 134h0M132 294h0M137 177h0M133 224h0M65 153h0M119 295h0M142 239h0M105 125h0M143 279h0M123 146h0M150 181h0M146 165h0M140 119h0M131 288h0M105 81h0M116 112h0M152 263h0M129 256h0M131 258h0M131 256h0M156 320h0M94 225h0M99 211h0M132 245h0M125 291h0M103 224h0M107 290h0M76 198h0M106 287h0M116 238h0M150 255h0M141 317h0M125 261h0M127 305h0M139 216h0M153 227h0M150 221h0M143 292h0M151 128h0M106 219h0M99 228h0M86 214h0M145 292h0M129 146h0M154 276h0M142 293h0M141 260h0M100 153h0M137 81h0M129 206h0M123 188h0M143 225h0M147 184h0M142 270h0M70 199h0M148 214h0M106 263h0M114 157h0M157 177h0M121 96h0M150 234h0M135 178h0M145 255h0M129 154h0M108 211h0M129 169h0M138 220h0M130 204h0M96 223h0M146 265h0M125 263h0M144 226h0M129 294h0"/>
<path stroke="#F85E5E" d="M145 322h0M154 312h0M143 157h0M134 300h0M154 220h0M106 249h0M150 216h0M146 267h0M158 231h0M152 245h0M149 316h0M138 321h0M156 257h0M128 266h0M132 294h0M157 292h0M142 199h0M156 249h0M147 311h0M157 251h0M144 188h0M151 245h0M157 281h0M113 301h0M148 261h0M145 200h0M153 300h0M152 301h0M132 304h0M123 284h0M154 315h0M137 282h0M157 318h0M149 261h0M133 316h0M151 214h0M150 176h0M131 252h0M156 319h0M138 256h0M157 298h0M147 208h0M155 176h0M142 241h0M152 254h0M155 299h0M156 305h0M131 182h0M149 204h0M153 311h0M158 285h0M150 303h0M153 230h0M153 183h0M156 41h0M152 288h0M154 288h0M143 229h0M157 308h0M145 228h0M154 176h0M149 307h0M150 279h0M152 280h0M155 316h0M155 308h0M145 309h0M139 208h0M153 257h0M133 298h0M143 230h0M156 291h0M145 45h0M135 255h0M155 276h0M123 216h0M155 229h0M157 301h0M135 310h0M155 210h0M153 302h0M149 300h0M157 303h0M147 217h0M148 248h0M146 284h0M136 213h0M155 154h0M148 232h0M154 261h0M153 291h0M127 279h0M155 145h0M153 130h0M155 180h0M138 274h0M157 303h0M142 230h0M156 161h0M156 250h0M155 176h0M155 288h0M149 258h0M156 242h0M112 282h0M150 27h0M153 285h0M155 274h0M153 272h0M145 132h0M132 308h0M153 163h0M153 312h0M157 318h0M153 199h0M136 298h0M141 314h0M143 67h0M149 247h0M138 276h0M154 247h0M145 293h0M157 292h0M156 235h0M155 312h0M141 315h0M157 184h0M155 187h0M157 201h0M155 224h0M157 302h0M148 253h0M150 318h0M149 256h0M140 253h0M157 57h0M156 259h0M151 293h0M153 227h0M156 309h0M148 268h0M153 156h0M120 268h0M155 296h0M148 305h0M156 313h0M151 206h0M152 302h0M150 310h0M150 220h0M157 240h0M151 285h0M156 226h0M113 226h0M148 125h0M132 264h0M151 293h0M111 222h0M133 297h0M125 168h0M135 297h0M136 210h0M152 153h0M155 188h0M88 133h0M133 194h0M146 259h0M153 186h0M146 146h0M154 313h0M157 87h0M149 209h0M127 210h0M133 108h0M148 202h0M148 172h0M90 155h0M93 283h0M98 170h0M89 114h0M111 141h0M48 273h0M135 217h0M108 252h0M138 199h0M118 288h0M126 30h0M153 229h0M139 229h0M90 304h0M154 190h0M150 256h0M132 98h0M148 211h0M149 155h0M153 69h0M117 113h0M125 80h0M128 258h0M142 176h0M100 171h0M111 175h0M120 237h0M138 215h0M137 242h0M118 237h0M140 202h0M145 235h0M152 208h0M123 134h0M90 177h0M104 217h0M133 252h0M142 270h0M119 278h0M137 293h0M150 320h0M107 121h0M122 163h0M124 212h0M126 322h0M157 213h0M155 309h0M118 253h0M109 234h0M93 113h0M155 198h0M151 234h0M124 176h0M158 239h0M155 218h0M142 272h0M145 54h0M117 99h0M95 75h0M106 203h0M146 294h0M141 318h0M152 157h0M116 256h0M104 257h0M135 254h0M79 300h0M153 67h0M99 292h0M107 311h0"/>
<path stroke="#F85E5E" d="M144 176h0M156 289h0M151 127h0M140 248h0M154 132h0M100 323h0M154 293h0M158 289h0M147 216h0M158 303h0M152 283h0M149 51h0M150 301h0M157 74h0M143 278h0M125 243h0M156 306h0M148 316h0M157 253h0M139 280h0M143 167h0M157 128h0M146 305h0M145 321h0M146 304h0M158 167h0M157 268h0M154 284h0M154 292h0M147 120h0M147 315h0M140 280h0M155 161h0M145 278h0M155 256h0M144 315h0M127 257h0M155 303h0M145 137h0M153 132h0M150 100h0M154 306h0M157 308h0M145 319h0M152 243h0M150 165h0M132 275h0M147 297h0M158 119h0M157 99h0M146 318h0M151 179h0M135 238h0M150 296h0M150 271h0M154 131h0M133 299h0M138 213h0M155 306h0M156 141h0M143 288h0M142 319h0M147 309h0M153 266h0M152 169h0M141 224h0M155 322h0M152 295h0M114 261h0M152 294h0M156 256h0M154 264h0M137 317h0M157 204h0M118 289h0M138 321h0M144 297h0M149 23h0M156 314h0M157 127h0M146 253h0M154 207h0M155 132h0M157 202h0M158 296h0M158 265h0M140 289h0M151 315h0M152 220h0M154 297h0M129 278h0M148 251h0M146 309h0M126 221h0M153 277h0M106 315h0M150 297h0M139 323h0M156 262h0M150 30h0M151 296h0M148 316h0M147 225h0M157 145h0M155 298h0M146 38h0M150 58h0M149 317h0M150 270h0M157 313h0M150 270h0M158 257h0M145 232h0M157 298h0M144 147h0M158 211h0M156 268h0M153 234h0M156 254h0M143 229h0M138 279h0M156 237h0M134 158h0M154 299h0M146 208h0M154 314h0M158 270h0M128 317h0M153 295h0M152 217h0M155 221h0M151 306h0M151 238h0M146 319h0M133 304h0M143 236h0M152 314h0M144 322h0M148 287h0M155 241h0M154 323h0M156 308h0M151 159h0M157 72h0M150 303h0M157 32h0M151 278h0M144 252h0M156 315h0M146 279h0M146 111h0M142 305h0M154 288h0M122 152h0M151 236h0M148 321h0M138 256h0M126 296h0M131 109h0M128 275h0M144 270h0M147 180h0M130 208h0M144 292h0M148 320h0M125 318h0M157 117h0M138 161h0M133 106h0M153 158h0M128 319h0M114 289h0M114 251h0M141 132h0M91 307h0M157 207h0M141 303h0M118 246h0M131 91h0M131 278h0M149 281h0M135 147h0M105 181h0M147 187h0M122 194h0M106 267h0M151 183h0M127 188h0M100 142h0M148 181h0M115 245h0M80 250h0M154 68h0M111 80h0M98 227h0M142 271h0M126 211h0M83 299h0M145 138h0M142 255h0M140 163h0M144 244h0M139 224h0M118 212h0M157 311h0M132 318h0M150 287h0M126 206h0M101 300h0M137 173h0M127 314h0M104 295h0M142 205h0M123 269h0M131 291h0M130 105h0M150 202h0M156 273h0M121 160h0M68 273h0M107 319h0M123 206h0M85 205h0M154 224h0M94 259h0M119 269h0M147 205h0M122 259h0M147 270h0M151 253h0M91 300h0M132 288h0"/>
<path stroke="#F85E5E" d="M88 323h0M140 306h0M157 290h0M148 258h0M144 191h0M156 318h0M156 267h0M154 180h0M137 35h0M154 320h0M158 312h0M136 270h0M150 290h0M154 124h0M133 316h0M143 292h0M118 316h0M133 160h0M147 194h0M154 261h0M157 295h0M147 294h0M152 213h0M156 259h0M153 114h0M148 183h0M139 287h0M150 255h0M155 225h0M115 281h0M151 322h0M157 308h0M156 263h0M147 274h0M146 197h0M154 297h0M156 259h0M152 322h0M158 208h0M155 237h0M157 205h0M154 308h0M149 176h0M155 244h0M149 278h0M151 299h0M156 306h0M141 323h0M135 283h0M154 288h0M147 259h0M156 303h0M134 291h0M152 233h0M139 315h0M154 234h0M147 280h0M156 269h0M151 258h0M158 280h0M148 239h0M150 251h0M151 296h0M134 313h0M155 80h0M147 316h0M155 225h0M155 254h0M157 308h0M154 318h0M155 118h0M143 301h0M148 304h0M158 272h0M154 301h0M154 228h0M145 317h0M146 110h0M142 250h0M157 227h0M144 275h0M148 232h0M156 231h0M150 321h0M144 254h0M157 203h0M157 274h0M148 290h0M153 307h0M154 317h0M155 298h0M157 244h0M137 321h0M150 186h0M145 205h0M157 236h0M156 271h0M138 236h0M157 166h0M154 231h0M145 265h0M157 246h0M155 297h0M147 307h0M152 280h0M110 299h0M149 234h0M133 294h0M150 254h0M153 285h0M153 262h0M156 174h0M157 248h0M156 282h0M157 296h0M140 314h0M155 204h0M149 174h0M153 311h0M146 243h0M150 188h0M153 258h0M155 280h0M143 314h0M157 295h0M120 263h0M146 250h0M149 311h0M152 308h0M118 263h0M150 288h0M152 301h0M157 316h0M117 299h0M147 308h0M152 260h0M156 317h0M149 171h0M154 204h0M155 170h0M156 218h0M132 261h0M150 301h0M128 278h0M146 301h0M153 316h0M157 314h0M150 315h0M158 183h0M156 312h0M154 279h0M157 214h0M157 307h0M156 168h0M119 300h0M142 310h0M158 270h0M154 247h0M147 265h0M146 184h0M148 282h0M143 186h0M137 135h0M124 288h0M122 119h0M147 301h0M130 246h0M106 212h0M121 271h0M154 68h0M151 247h0M108 289h0M157 320h0M144 169h0M105 185h0M116 207h0M88 141h0M101 133h0M131 314h0M79 303h0M144 260h0M153 119h0M157 306h0M133 267h0M145 76h0M117 116h0M106 181h0M123 280h0M129 231h0M138 305h0M145 285h0M108 262h0M92 180h0M149 241h0M131 242h0M109 265h0M138 274h0M111 257h0M122 307h0M145 269h0M137 249h0M122 278h0M133 311h0M128 46h0M157 278h0M49 185h0M150 284h0M156 209h0M139 172h0M125 229h0M98 317h0M128 262h0M135 163h0M83 212h0M111 145h0M155 208h0M110 315h0M122 227h0M148 310h0M143 208h0M85 301h0M144 298h0M130 209h0M151 308h0M130 309h0M158 258h0M121 168h0M158 102h0M152 239h0M147 322h0M129 213h0M132 82h0M41 265h0"/>
<path stroke="#5B8FF9" d="M201 164h0M198 273h0M198 231h0M197 192h0M198 282h0M196 309h0M203 108h0M196 277h0M198 286h0M197 318h0M196 185h0M196 182h0M198 244h0M197 281h0M212 319h0M197 198h0M203 187h0M200 69h0M203 222h0M198 318h0M196 244h0M203 262h0M196 314h0M208 298h0M197 277h0M197 27h0M201 147h0M203 305h0M197 312h0M197 233h0M199 222h0M201 269h0M203 320h0M201 252h0M201 198h0M199 195h0M208 249h0M202 228h0M197 281h0M201 196h0M196 286h0M196 280h0M209 253h0M213 295h0M196 86h0M198 258h0M201 143h0M201 291h0M208 262h0M226 273h0M211 314h0M222 235h0M209 150h0M259 283h0M198 214h0M232 260h0M213 246h0M200 151h0M211 304h0M223 279h0M255 310h0M226 249h0M203 291h0M222 281h0M211 283h0M217 216h0M234 181h0M245 269h0M281 178h0M293 226h0M251 298h0M198 279h0M251 136h0M220 308h0M285 184h0M246 152h0M203 201h0M273 203h0M199 200h0M238 202h0M197 108h0M248 284h0M241 306h0M283 223h0M220 157h0"/>
<path stroke="#5B8FF9" d="M207 321h0M209 282h0M197 179h0M199 284h0M196 179h0M202 286h0M203 254h0M197 288h0M197 153h0M202 293h0M231 69h0M198 234h0M199 168h0M197 207h0M207 217h0M206 313h0M197 97h0M202 243h0M205 321h0M198 150h0M203 69h0M197 246h0M200 285h0M197 320h0M196 288h0M201 298h0M196 280h0M199 154h0M198 311h0M196 285h0M198 313h0M197 255h0M203 198h0M204 316h0M202 315h0M197 230h0M201 263h0M198 149h0M196 230h0M197 106h0M204 289h0M198 286h0M204 200h0M202 300h0M197 225h0M198 268h0M200 225h0M210 154h0M198 278h0M205 226h0M200 155h0M198 285h0M204 201h0M198 294h0M197 264h0M197 286h0M212 305h0M215 245h0M238 189h0M236 203h0M239 124h0M236 228h0M212 121h0M208 301h0M207 180h0M213 238h0M215 310h0M204 192h0M261 299h0M215 284h0M233 221h0M223 247h0M229 216h0M198 168h0M226 202h0M272 163h0M209 295h0M254 278h0M213 233h0M278 271h0"/>
<path stroke="#5B8FF9" d="M215 177h0M203 261h0M198 80h0M206 272h0M207 271h0M202 319h0M199 147h0M198 141h0M196 288h0M202 89h0M196 307h0M198 321h0M198 316h0M198 138h0M199 209h0M203 310h0M197 272h0M199 245h0M203 207h0M218 270h0M201 304h0M212 274h0M197 267h0M201 153h0M201 299h0M202 261h0M202 234h0M202 172h0M198 36h0M206 305h0M199 197h0M196 322h0M201 311h0M199 307h0M198 291h0M200 240h0M204 316h0M197 301h0M202 248h0M200 157h0M199 272h0M198 159h0M197 256h0M204 263h0M200 251h0M198 272h0M197 83h0M277 287h0M267 245h0M221 196h0M199 215h0M199 222h0M205 297h0M252 229h0M199 308h0M236 263h0M232 307h0M287 256h0M198 64h0M198 194h0M223 66h0M205 281h0M212 238h0M240 316h0M196 276h0M229 273h0M206 240h0M238 299h0M225 97h0M220 279h0M214 233h0M217 211h0M284 205h0M219 226h0M267 186h0M275 243h0M251 303h0M229 82h0M208 264h0M247 180h0M217 317h0"/>
<path stroke="#5B8FF9" d="M197 323h0M197 297h0M208 279h0M198 318h0M198 290h0M196 317h0M197 272h0M200 208h0M196 307h0M197 235h0M198 315h0M200 292h0M217 283h0M197 75h0M202 269h0M203 269h0M196 304h0M204 286h0M199 231h0M201 320h0M209 320h0M197 298h0M199 313h0M198 158h0M196 317h0M196 227h0M198 321h0M198 281h0M198 318h0M198 76h0M198 125h0M198 286h0M204 204h0M197 242h0M196 238h0M200 280h0M196 304h0M199 263h0M201 28h0M208 305h0M200 251h0M197 309h0M197 108h0M197 314h0M212 288h0M202 317h0M196 111h0M200 205h0M204 316h0M197 315h0M205 259h0M198 215h0M197 292h0M198 317h0M202 305h0M206 232h0M202 269h0M203 311h0M207 262h0M200 37h0M237 230h0M239 283h0M236 313h0M213 277h0M199 315h0M199 163h0M274 222h0M249 241h0M200 138h0M257 299h0M197 197h0M229 287h0M226 315h0M204 267h0M226 293h0M201 156h0M204 120h0M198 186h0M212 314h0M204 259h0M244 221h0M207 246h0M198 234h0M242 200h0M203 24h0M206 39h0"/>
<path stroke="#5B8FF9" d="M197 191h0M208 237h0M199 320h0M197 289h0M198 319h0M199 258h0M197 175h0M201 282h0M208 316h0M198 268h0M205 286h0M196 203h0M196 312h0M206 32h0M206 235h0M202 277h0M210 292h0M199 244h0M204 272h0M205 264h0M208 164h0M198 278h0M200 28h0M202 198h0M200 272h0M196 264h0M209 223h0M199 288h0M198 237h0M201 178h0M198 53h0M200 268h0M201 313h0M197 262h0M196 86h0M200 317h0M197 251h0M204 301h0M199 270h0M203 264h0M197 255h0M198 275h0M199 268h0M197 42h0M199 244h0M200 220h0M199 305h0M198 291h0M206 302h0M197 179h0M202 67h0M202 239h0M201 307h0M207 168h0M282 230h0M235 112h0M216 265h0M215 284h0M257 246h0M224 97h0M258 314h0M199 172h0M296 223h0M251 310h0M242 290h0M239 321h0M222 177h0M259 146h0M262 277h0M217 199h0M220 306h0M260 202h0M205 309h0M253 251h0M214 316h0M274 291h0M245 304h0M231 282h0M200 250h0M212 299h0M224 247h0M222 202h0M307 284h0"/>
<path stroke="#8D99AE" d="M168 178h0M193 158h0M172 360h0M188 239h0M193 183h0M162 74h0M194 93h0M179 336h0M190 148h0M165 289h0M160 341h0M188 268h0M192 112h0M167 266h0M178 354h0M172 266h0M180 335h0M166 144h0M163 331h0M160 184h0M167 271h0M160 282h0M192 325h0M172 261h0M195 191h0M168 205h0M181 353h0M186 158h0M171 365h0M160 243h0M159 132h0M187 282h0M170 215h0M193 128h0M165 195h0M188 192h0M192 358h0M166 168h0M164 298h0M158 304h0M180 330h0M174 341h0M191 171h0M183 218h0M182 240h0M179 338h0M183 231h0M172 244h0M165 161h0M184 208h0M188 342h0M184 259h0M183 291h0M191 343h0M166 197h0M163 153h0M160 323h0M173 286h0M191 169h0M183 258h0M182 315h0M166 176h0M192 356h0M158 84h0M166 302h0M183 359h0M160 66h0M195 265h0M191 232h0M162 110h0M158 141h0M168 194h0M192 109h0M193 334h0M162 77h0M193 88h0M164 122h0M160 152h0M179 334h0M160 233h0M186 250h0M171 308h0M186 217h0M172 327h0M191 142h0M180 298h0M162 321h0M189 338h0M171 265h0M191 239h0M180 348h0M168 164h0M163 305h0M192 346h0M187 228h0M171 303h0M192 123h0M182 306h0M193 319h0M172 364h0M167 165h0M176 353h0M166 354h0M190 274h0M196 254h0M159 258h0M164 104h0M170 213h0M163 167h0M189 329h0M163 285h0M184 312h0M189 177h0M188 146h0M188 248h0M187 301h0M193 300h0M162 76h0M188 293h0M182 221h0M169 258h0M164 121h0M163 175h0M195 167h0M193 80h0M168 371h0M186 276h0M163 163h0M173 269h0M172 264h0M173 328h0M181 273h0M160 95h0M176 346h0M171 282h0M195 98h0M194 188h0M162 111h0M195 210h0M162 363h0M185 317h0M178 365h0M177 362h0M188 189h0M171 303h0M196 338h0M187 162h0M183 226h0M165 178h0M183 356h0M186 185h0M179 325h0M168 362h0M165 330h0M183 353h0M191 92h0M161 127h0M163 338h0M162 128h0M159 343h0M189 324h0M188 342h0M190 224h0M167 288h0M164 300h0M170 199h0M182 311h0M174 307h0M164 232h0M161 83h0M165 160h0M158 145h0M190 160h0M186 368h0M170 356h0M162 85h0M196 65h0M190 141h0M186 280h0M162 267h0M173 282h0M162 173h0M187 302h0M187 284h0M190 126h0M193 343h0M172 297h0M185 344h0M167 265h0M168 242h0M191 354h0M162 179h0M168 190h0M167 318h0M179 321h0M191 333h0M181 269h0M171 211h0M162 125h0M190 220h0M164 267h0M195 76h0M187 159h0M173 311h0M191 249h0M189 246h0M173 315h0M190 225h0M194 278h0M172 326h0M185 300h0M187 180h0M195 104h0M190 195h0M194 279h0M181 309h0M184 208h0M190 204h0M182 237h0M184 354h0M181 269h0M167 286h0M195 74h0M160 180h0M160 87h0M181 253h0M189 222h0M192 236h0M184 343h0M161 316h0M159 66h0M167 151h0M167 200h0M191 91h0M174 371h0M162 92h0M160 224h0M162 228h0M161 274h0M164 140h0M193 294h0M160 180h0M192 80h0M191 356h0M173 318h0M159 131h0M167 286h0M196 136h0M188 257h0M193 102h0M187 320h0M189 141h0M179 361h0M189 281h0M183 214h0M168 346h0M159 69h0M196 69h0M182 295h0M188 157h0M193 275h0M188 231h0M182 301h0M160 70h0M192 144h0M179 340h0M164 178h0M158 335h0M163 163h0M166 359h0M161 232h0M190 166h0M190 186h0M166 276h0M159 150h0M190 125h0M160 155h0M188 192h0M164 309h0M189 158h0M161 92h0M190 188h0M169 300h0M165 123h0M173 348h0M174 279h0M188 217h0M166 227h0M186 235h0M183 253h0M167 367h0M190 119h0M190 106h0M165 173h0M169 231h0M169 174h0M190 212h0M192 228h0M189 344h0M185 301h0M165 226h0M186 333h0M174 278h0M162 102h0M181 348h0M191 100h0M191 135h0M162 276h0M174 367h0M171 307h0M184 214h0M168 356h0M187 165h0M183 282h0M191 219h0M188 171h0M193 248h0M165 247h0M163 366h0M165 319h0M159 103h0M193 314h0M175 358h0M187 153h0M179 348h0M185 313h0M190 350h0M165 347h0M173 361h0M164 343h0M189 337h0M182 322h0M196 334h0M172 338h0M161 334h0M170 357h0M182 343h0M176 322h0M207 337h0M175 323h0M197 356h0M162 332h0M186 327h0M175 346h0M160 328h0M168 345h0M167 334h0M184 367h0M192 358h0M173 332h0M173 339h0M175 337h0M177 367h0M176 343h0M176 357h0M188 347h0M165 351h0M190 354h0M156 325h0M170 343h0M186 355h0M190 342h0M176 323h0M167 344h0M174 354h0M189 342h0M169 335h0M201 349h0M180 336h0M209 347h0M193 330h0M190 322h0M190 363h0M182 344h0M192 352h0M163 326h0M176 327h0M152 330h0M153 346h0M177 357h0M151 348h0M192 344h0M192 362h0M202 343h0M182 340h0M163 327h0M171 324h0M182 323h0M175 322h0M176 363h0M190 336h0M170 350h0M193 355h0M201 345h0M190 353h0M166 363h0M176 340h0M173 361h0M170 339h0M183 364h0M181 343h0M200 338h0M169 363h0M175 354h0M177 341h0M167 338h0M169 364h0M179 356h0M206 326h0M163 344h0M190 336h0M186 363h0M156 348h0M161 342h0M118 332h0M198 323h0M189 335h0M212 345h0M215 347h0M161 325h0M188 348h0M215 324h0M198 356h0M192 343h0M210 352h0M232 335h0M241 330h0M205 350h0M160 344h0M88 323h0M157 330h0M167 354h0M132 344h0M134 328h0M139 324h0M189 351h0M209 348h0M199 330h0M155 345h0M222 338h0M98 324h0M187 327h0M203 342h0M158 355h0M167 334h0M231 326h0M189 332h0M213 330h0M188 328h0M205 339h0M195 324h0M99 323h0M204 337h0M157 340h0M198 344h0M203 325h0M219 339h0M202 335h0M110 325h0M192 330h0M195 334h0M194 331h0M242 328h0M188 335h0M99 327h0M190 362h0M222 343h0M196 340h0M200 339h0M160 327h0M208 335h0M244 329h0M111 327h0M159 338h0M229 332h0M134 341h0M157 327h0M165 344h0M202 337h0M116 329h0M144 346h0M207 337h0M150 343h0M127 334h0M150 336h0M195 352h0M145 324h0M164 351h0M145 340h0M261 323h0M236 329h0M198 330h0M193 340h0M214 330h0M244 332h0M187 329h0M118 324h0M192 352h0M190 357h0M148 331h0M136 336h0M192 337h0M141 344h0M139 327h0M194 336h0M137 343h0M249 323h0M160 336h0M114 337h0M195 346h0M221 335h0M227 328h0M100 326h0M134 336h0M127 333h0M157 340h0M206 333h0M264 324h0M166 356h0M255 325h0M210 328h0M163 357h0M248 332h0M238 327h0M243 324h0M128 329h0M208 345h0M197 328h0M115 331h0"/>
<path stroke="#8D99AE" d="M168 223h0M164 314h0M195 96h0M187 196h0M184 237h0M191 337h0M167 330h0M179 331h0M196 106h0M167 217h0M188 242h0M168 258h0M169 219h0M162 142h0M182 222h0M195 66h0M166 225h0M191 338h0M170 263h0M191 197h0M187 168h0M192 346h0M186 336h0M175 347h0M169 264h0M163 117h0M158 67h0M178 353h0M159 147h0M195 67h0M165 142h0M174 362h0M167 236h0M164 234h0M160 148h0M183 356h0M166 233h0M159 350h0M193 333h0M193 78h0M160 108h0M193 83h0M162 94h0M192 329h0M159 66h0M159 79h0M191 341h0M159 275h0M165 146h0M162 179h0M159 146h0M183 225h0M160 293h0M160 114h0M191 124h0M178 363h0M188 208h0M192 107h0M195 312h0M170 219h0M194 145h0M168 157h0M195 77h0M172 236h0M190 104h0M192 278h0M186 163h0M184 337h0M173 289h0M187 205h0M190 162h0M163 180h0M180 342h0M193 348h0M169 228h0M190 213h0M159 266h0M187 277h0M159 205h0M175 354h0M167 207h0M168 274h0M193 306h0M172 282h0M164 356h0M175 303h0M164 133h0M169 197h0M163 201h0M190 101h0M182 249h0M187 289h0M188 128h0M168 299h0M171 268h0M195 129h0M176 356h0M168 194h0M188 163h0M174 273h0M185 248h0M186 297h0M189 235h0M181 285h0M185 222h0M187 333h0M187 266h0M180 318h0M194 267h0M167 297h0M192 332h0M184 222h0M160 94h0M192 101h0M181 360h0M165 335h0M186 177h0M158 81h0M162 162h0M190 211h0M196 88h0M185 209h0M162 133h0M191 367h0M162 192h0M189 156h0M174 315h0M161 121h0M167 219h0M163 150h0M183 261h0M164 254h0M171 300h0M187 335h0M174 359h0M170 252h0M186 220h0M194 81h0M171 364h0M165 341h0M183 235h0M182 277h0M168 208h0M172 332h0M171 204h0M166 266h0M183 245h0M182 273h0M186 167h0M195 191h0M186 233h0M184 324h0M180 289h0M194 66h0M176 339h0M167 293h0M159 362h0M187 177h0M186 294h0M161 186h0M165 355h0M191 205h0M186 291h0M195 293h0M158 234h0M182 276h0M187 148h0M180 366h0M180 275h0M189 214h0M161 248h0M193 68h0M167 364h0M190 213h0M190 107h0M172 365h0M169 364h0M181 307h0M184 250h0M189 332h0M162 170h0M193 121h0M193 120h0M162 177h0M162 154h0M192 219h0M158 296h0M194 122h0M194 181h0M171 371h0M191 263h0M194 198h0M161 278h0M169 348h0M189 154h0M192 203h0M162 362h0M161 67h0M185 229h0M193 244h0M189 291h0M161 94h0M168 182h0M192 197h0M194 77h0M190 213h0M169 294h0M162 149h0M190 148h0M164 114h0M179 326h0M170 235h0M168 211h0M159 140h0M168 193h0M187 217h0M186 242h0M195 72h0M171 302h0M187 178h0M182 308h0M165 137h0M181 276h0M184 287h0M165 139h0M165 317h0M186 252h0M178 356h0M185 232h0M185 370h0M195 371h0M185 278h0M167 213h0M161 271h0M170 236h0M187 357h0M192 260h0M192 131h0M193 191h0M191 134h0M169 213h0M192 87h0M167 173h0M195 82h0M194 121h0M170 315h0M195 364h0M192 243h0M159 307h0M161 127h0M179 320h0M160 240h0M165 121h0M184 212h0M195 135h0M186 331h0M190 167h0M184 199h0M179 328h0M163 275h0M170 243h0M164 131h0M193 179h0M188 171h0M190 211h0M195 93h0M182 228h0M182 328h0M183 279h0M188 205h0M168 301h0M164 244h0M193 96h0M188 349h0M168 302h0M179 307h0M165 244h0M161 291h0M160 370h0M163 89h0M194 144h0M167 185h0M196 145h0M160 153h0M186 235h0M189 235h0M184 197h0M192 257h0M166 194h0M191 311h0M164 317h0M192 194h0M188 298h0M167 264h0M163 224h0M174 357h0M190 112h0M184 366h0M191 335h0M192 196h0M159 76h0M164 161h0M161 181h0M193 243h0M172 252h0M195 89h0M160 149h0M172 337h0M192 340h0M173 365h0M166 238h0M158 317h0M189 227h0M178 349h0M166 174h0M161 136h0M183 279h0M160 217h0M180 343h0M194 242h0M187 182h0M172 306h0M191 128h0M178 341h0M168 255h0M165 331h0M193 341h0M166 133h0M185 201h0M173 331h0M162 147h0M190 330h0M192 212h0M161 232h0M161 100h0M154 345h0M156 343h0M160 359h0M169 342h0M194 341h0M169 333h0M202 353h0M171 342h0M187 350h0M181 361h0M197 326h0M194 336h0M196 340h0M171 352h0M153 345h0M187 322h0M197 323h0M160 324h0M184 348h0M170 350h0M191 338h0M164 327h0M185 348h0M179 337h0M193 348h0M155 341h0M155 337h0M187 343h0M183 332h0M166 330h0M182 335h0M168 357h0M180 340h0M175 355h0M184 351h0M196 339h0M160 328h0M176 339h0M189 333h0M171 351h0M205 354h0M164 357h0M177 356h0M189 339h0M171 366h0M173 327h0M173 325h0M195 330h0M177 339h0M150 346h0M165 329h0M174 362h0M162 329h0M166 354h0M185 352h0M187 362h0M185 365h0M165 351h0M190 341h0M144 326h0M170 334h0M149 331h0M189 348h0M149 331h0M155 355h0M165 362h0M171 331h0M198 337h0M165 347h0M190 348h0M157 344h0M185 336h0M183 327h0M186 351h0M175 325h0M173 357h0M160 346h0M184 351h0M165 341h0M186 332h0M173 331h0M174 360h0M181 364h0M172 342h0M195 332h0M130 324h0M200 325h0M167 332h0M220 329h0M164 323h0M209 340h0M147 328h0M141 344h0M110 330h0M164 353h0M216 329h0M166 341h0M197 338h0M214 347h0M151 326h0M195 341h0M162 358h0M239 330h0M207 348h0M152 329h0M129 335h0M159 361h0M207 324h0M206 333h0M232 332h0M200 341h0M167 323h0M160 356h0M153 342h0M167 355h0M192 353h0M167 357h0M137 337h0M152 326h0M145 334h0M187 345h0M193 350h0M191 351h0M193 336h0M192 343h0M196 336h0M137 326h0M136 326h0M164 328h0M208 333h0M142 332h0M149 333h0M151 329h0M190 359h0M188 334h0M138 333h0M167 358h0M164 325h0M139 342h0M134 340h0M189 349h0M156 330h0M153 351h0M247 325h0M155 345h0M167 345h0M210 337h0M249 332h0M231 324h0M193 328h0M207 331h0M147 325h0M191 336h0M193 342h0M93 324h0M166 354h0M198 334h0M211 324h0M155 354h0M201 356h0M187 331h0M154 347h0M197 325h0M165 344h0M195 344h0M250 324h0M239 331h0M195 360h0M188 339h0M129 344h0M143 341h0M159 336h0M212 325h0M191 346h0M157 356h0M217 329h0M93 325h0M152 349h0M148 336h0M225 332h0M188 337h0M188 359h0M141 347h0M142 349h0M140 338h0M146 327h0M116 337h0M189 337h0M166 43h0"/>
<path stroke="#8D99AE" d="M162 76h0M173 368h0M163 270h0M186 186h0M195 144h0M180 303h0M161 148h0M194 138h0M190 197h0M185 259h0M180 331h0M160 73h0M186 295h0M167 270h0M194 78h0M169 250h0M194 137h0M187 143h0M159 267h0M186 321h0M165 297h0M160 308h0M163 332h0M187 225h0M196 88h0M162 74h0M168 232h0M181 336h0M167 344h0M166 200h0M193 186h0M194 85h0M163 160h0M189 330h0M188 291h0M194 116h0M161 251h0M163 242h0M183 326h0M161 83h0M183 272h0M173 266h0M195 260h0M170 256h0M180 284h0M166 133h0M169 235h0M166 193h0M163 274h0M159 340h0M189 184h0M168 272h0M163 268h0M170 344h0M180 331h0M187 147h0M158 238h0M171 254h0M159 275h0M170 266h0M194 301h0M184 354h0M194 365h0M170 197h0M174 283h0M179 353h0M164 227h0M160 212h0M192 320h0M161 297h0M188 217h0M180 304h0M193 155h0M167 142h0M181 293h0M170 277h0M184 337h0M166 141h0M194 74h0M185 334h0M168 183h0M187 190h0M189 235h0M170 346h0M187 368h0M167 313h0M175 313h0M167 144h0M175 337h0M167 163h0M161 70h0M184 354h0M169 297h0M190 316h0M173 339h0M191 157h0M182 242h0M161 292h0M169 330h0M176 372h0M186 310h0M171 271h0M189 243h0M159 82h0M175 320h0M189 202h0M164 369h0M188 208h0M159 230h0M172 235h0M165 167h0M166 280h0M192 274h0M189 226h0M194 99h0M180 289h0M163 90h0M170 311h0M194 119h0M162 346h0M163 268h0M192 172h0M169 297h0M160 79h0M179 311h0M192 188h0M186 173h0M179 313h0M192 217h0M167 169h0M187 291h0M192 223h0M167 171h0M192 164h0M179 372h0M187 286h0M185 262h0M161 365h0M173 356h0M193 76h0M167 203h0M172 272h0M172 258h0M187 326h0M193 254h0M181 271h0M192 199h0M168 251h0M171 248h0M162 256h0M187 225h0M170 299h0M190 210h0M164 172h0M167 179h0M173 272h0M182 256h0M161 149h0M193 140h0M184 305h0M171 220h0M170 185h0M164 177h0M183 318h0M172 344h0M159 279h0M162 346h0M190 113h0M169 189h0M191 190h0M161 150h0M192 85h0M162 86h0M167 314h0M165 278h0M167 179h0M160 123h0M190 242h0M160 175h0M159 94h0M185 282h0M190 232h0M189 180h0M195 312h0M164 197h0M168 289h0M161 82h0M160 256h0M187 257h0M169 204h0M175 345h0M184 357h0M190 107h0M179 316h0M168 176h0M192 110h0M164 366h0M169 196h0M167 225h0M162 78h0M189 287h0M162 367h0M193 151h0M194 212h0M164 115h0M181 258h0M189 326h0M166 310h0M190 219h0M170 246h0M162 245h0M169 307h0M195 233h0M195 145h0M194 122h0M159 341h0M165 277h0M171 243h0M193 290h0M186 297h0M168 180h0M188 264h0M169 319h0M166 282h0M196 97h0M166 173h0M193 129h0M174 309h0M162 213h0M187 298h0M186 222h0M186 317h0M183 246h0M183 261h0M161 83h0M182 275h0M196 74h0M184 196h0M188 308h0M192 164h0M176 353h0M162 113h0M184 222h0M159 304h0M184 328h0M164 243h0M176 351h0M182 310h0M194 303h0M170 370h0M181 335h0M185 257h0M185 306h0M183 204h0M167 302h0M171 293h0M193 199h0M185 210h0M165 256h0M161 126h0M167 313h0M194 70h0M188 267h0M161 69h0M189 303h0M161 96h0M192 74h0M174 305h0M173 263h0M194 339h0M190 309h0M187 192h0M192 122h0M193 209h0M196 74h0M185 236h0M169 170h0M168 193h0M162 358h0M194 358h0M172 245h0M188 139h0M185 199h0M161 334h0M194 218h0M161 172h0M194 253h0M170 331h0M183 261h0M190 365h0M188 259h0M187 227h0M173 344h0M166 247h0M187 152h0M174 336h0M187 293h0M181 271h0M174 365h0M179 327h0M184 321h0M164 228h0M182 243h0M164 222h0M194 369h0M159 298h0M158 326h0M168 229h0M160 178h0M189 120h0M163 334h0M172 293h0M193 160h0M162 102h0M189 323h0M166 144h0M169 260h0M169 225h0M187 229h0M160 93h0M167 217h0M169 277h0M191 126h0M171 325h0M171 357h0M192 111h0M158 95h0M163 309h0M188 166h0M195 175h0M184 212h0M183 366h0M186 276h0M168 245h0M174 359h0M188 349h0M173 260h0M164 357h0M192 139h0M188 138h0M184 312h0M179 364h0M187 361h0M166 312h0M201 353h0M178 350h0M172 322h0M170 358h0M195 358h0M186 334h0M163 343h0M161 334h0M186 333h0M186 365h0M144 337h0M195 329h0M170 330h0M172 322h0M186 349h0M181 342h0M174 340h0M182 349h0M176 336h0M187 327h0M178 354h0M197 351h0M207 339h0M186 363h0M181 340h0M158 348h0M171 351h0M178 321h0M162 333h0M174 361h0M186 364h0M208 340h0M153 328h0M176 340h0M160 357h0M169 346h0M162 348h0M159 327h0M150 323h0M186 349h0M195 342h0M156 347h0M164 337h0M193 342h0M198 339h0M174 329h0M173 349h0M182 323h0M146 336h0M164 321h0M181 339h0M168 348h0M181 356h0M179 334h0M167 330h0M171 327h0M168 336h0M191 353h0M181 331h0M158 340h0M185 353h0M167 333h0M172 330h0M180 340h0M172 353h0M194 347h0M174 361h0M173 365h0M169 351h0M157 324h0M153 353h0M166 347h0M184 363h0M168 332h0M154 358h0M175 339h0M181 322h0M158 339h0M168 327h0M188 358h0M172 368h0M165 331h0M155 344h0M160 325h0M193 354h0M206 330h0M185 355h0M175 364h0M163 346h0M169 338h0M197 329h0M181 364h0M171 362h0M170 330h0M183 330h0M182 367h0M189 356h0M170 329h0M169 324h0M202 350h0M159 336h0M180 338h0M169 338h0M178 327h0M171 334h0M196 349h0M147 351h0M202 338h0M207 338h0M162 327h0M208 324h0M240 323h0M162 338h0M134 343h0M131 341h0M227 337h0M163 343h0M139 326h0M150 327h0M235 330h0M160 359h0M131 333h0M188 335h0M195 358h0M203 347h0M195 358h0M213 345h0M217 325h0M145 330h0M190 347h0M149 326h0M187 335h0M160 326h0M237 334h0M164 364h0M256 325h0M206 327h0M189 333h0M154 340h0M160 333h0M132 330h0M155 325h0M237 329h0M212 334h0M151 343h0M243 335h0M196 351h0M154 350h0M94 326h0M142 349h0M159 324h0M161 323h0M139 341h0M110 329h0M138 338h0M242 328h0M144 340h0M107 328h0M192 344h0M151 337h0M153 343h0M163 352h0M161 333h0M187 343h0M213 323h0M135 328h0M233 330h0M151 326h0M191 359h0M138 331h0M205 340h0M203 340h0M194 347h0M194 340h0M193 337h0M188 361h0M94 325h0M211 331h0M191 327h0M209 343h0M190 346h0M143 341h0M188 323h0M128 332h0M191 354h0M147 348h0M139 325h0M163 328h0M263 324h0M150 338h0M203 355h0M221 325h0M143 351h0M194 333h0M146 350h0M160 341h0M213 332h0M165 345h0M187 338h0M163 343h0M119 330h0M130 326h0M147 348h0M127 327h0M163 340h0"/>
<path stroke="#8D99AE" d="M188 204h0M193 85h0M158 289h0M163 215h0M161 174h0M165 259h0M159 250h0M192 120h0M179 364h0M160 343h0M182 248h0M182 275h0M165 256h0M194 163h0M161 144h0M161 104h0M187 197h0M187 352h0M175 335h0M185 180h0M182 260h0M159 191h0M183 297h0M186 316h0M166 260h0M165 155h0M190 137h0M159 129h0M162 76h0M192 124h0M194 177h0M167 285h0M163 132h0M165 160h0M183 304h0M172 246h0M191 260h0M185 217h0M190 135h0M160 264h0M185 363h0M183 277h0M190 232h0M195 235h0M186 189h0M175 359h0M191 92h0M164 316h0M184 257h0M161 119h0M191 356h0M181 282h0M192 113h0M190 162h0M161 88h0M167 211h0M158 100h0M166 182h0M172 329h0M164 252h0M186 176h0M174 311h0M189 161h0M193 101h0M161 83h0M174 343h0M174 277h0M175 293h0M175 325h0M165 325h0M168 281h0M185 229h0M171 287h0M179 355h0M163 320h0M182 300h0M164 99h0M184 355h0M170 289h0M161 79h0M174 289h0M194 74h0M160 76h0M170 239h0M163 251h0M188 151h0M158 98h0M162 73h0M192 186h0M190 112h0M195 141h0M195 327h0M165 240h0M188 140h0M165 332h0M170 330h0M174 352h0M162 212h0M186 235h0M195 127h0M190 111h0M173 270h0M190 105h0M169 293h0M174 330h0M179 342h0M170 241h0M171 242h0M164 116h0M185 262h0M163 166h0M183 243h0M165 197h0M167 337h0M184 323h0M169 253h0M164 327h0M171 322h0M187 210h0M188 245h0M172 247h0M162 97h0M164 341h0M164 225h0M190 324h0M189 148h0M160 242h0M163 98h0M192 123h0M187 180h0M160 86h0M182 244h0M170 353h0M169 286h0M171 310h0M165 257h0M182 338h0M166 334h0M166 158h0M191 95h0M166 176h0M185 349h0M185 175h0M192 193h0M172 286h0M171 336h0M185 180h0M190 120h0M165 297h0M172 354h0M160 67h0M187 371h0M165 177h0M170 205h0M185 284h0M168 368h0M168 324h0M188 344h0M194 94h0M170 209h0M173 293h0M181 313h0M187 159h0M191 349h0M189 239h0M191 104h0M159 370h0M160 77h0M159 302h0M166 239h0M183 326h0M162 250h0M163 211h0M163 287h0M173 312h0M184 248h0M195 131h0M168 292h0M168 328h0M168 307h0M193 83h0M166 135h0M169 340h0M161 102h0M185 275h0M166 170h0M166 229h0M162 253h0M163 202h0M171 213h0M163 204h0M173 338h0M161 137h0M164 235h0M194 208h0M169 254h0M170 315h0M187 311h0M162 180h0M165 240h0M172 278h0M166 269h0M196 81h0M183 246h0M181 355h0M166 311h0M181 331h0M191 259h0M165 143h0M162 90h0M187 351h0M187 193h0M194 133h0M183 325h0M168 226h0M164 242h0M162 304h0M162 73h0M190 264h0M178 348h0M193 85h0M182 340h0M190 197h0M162 100h0M193 138h0M165 334h0M175 320h0M165 205h0M164 266h0M171 252h0M187 204h0M161 182h0M182 323h0M195 344h0M189 119h0M161 221h0M181 371h0M165 303h0M190 168h0M161 237h0M161 295h0M191 269h0M166 168h0M165 160h0M185 288h0M187 226h0M162 147h0M164 329h0M182 334h0M160 202h0M176 341h0M160 74h0M190 131h0M162 154h0M195 308h0M170 245h0M164 110h0M173 255h0M162 223h0M166 362h0M163 122h0M164 289h0M160 92h0M181 308h0M167 332h0M163 85h0M159 282h0M161 367h0M166 155h0M165 296h0M188 243h0M164 123h0M193 150h0M164 100h0M168 204h0M171 352h0M162 319h0M163 94h0M168 209h0M196 221h0M159 313h0M193 363h0M168 204h0M162 102h0M183 245h0M164 323h0M195 151h0M161 133h0M188 325h0M183 211h0M159 315h0M167 229h0M161 194h0M162 244h0M189 163h0M195 79h0M193 86h0M170 335h0M195 203h0M195 74h0M191 118h0M194 282h0M166 169h0M194 285h0M191 127h0M191 111h0M172 270h0M175 320h0M183 352h0M184 358h0M181 290h0M192 344h0M164 102h0M188 230h0M194 133h0M191 213h0M180 328h0M187 349h0M184 213h0M181 345h0M163 96h0M187 341h0M161 249h0M183 247h0M160 133h0M190 123h0M165 185h0M161 90h0M190 321h0M180 351h0M187 161h0M193 345h0M166 131h0M170 338h0M181 365h0M193 290h0M191 304h0M179 341h0M188 246h0M194 357h0M170 304h0M176 353h0M195 321h0M169 284h0M180 329h0M192 226h0M165 205h0M161 83h0M171 255h0M175 365h0M163 176h0M165 209h0M167 244h0M192 94h0M196 137h0M198 350h0M160 337h0M202 338h0M182 339h0M167 331h0M182 324h0M166 354h0M179 338h0M186 347h0M165 322h0M182 348h0M186 350h0M161 357h0M186 336h0M177 324h0M176 366h0M197 353h0M167 343h0M184 339h0M162 335h0M179 350h0M175 344h0M180 350h0M162 348h0M162 347h0M148 331h0M197 341h0M172 356h0M174 334h0M153 327h0M187 335h0M197 343h0M156 330h0M163 327h0M161 325h0M183 345h0M176 364h0M160 338h0M169 360h0M189 361h0M194 345h0M172 338h0M190 351h0M158 352h0M179 321h0M196 344h0M171 348h0M161 360h0M157 357h0M179 353h0M176 338h0M183 362h0M160 341h0M197 324h0M171 356h0M151 351h0M177 368h0M188 333h0M196 353h0M170 331h0M161 341h0M197 332h0M174 336h0M192 355h0M161 335h0M178 323h0M182 323h0M176 363h0M183 368h0M169 348h0M187 325h0M189 350h0M163 337h0M186 339h0M189 346h0M176 348h0M176 353h0M179 362h0M180 335h0M158 323h0M171 349h0M172 339h0M190 338h0M180 348h0M177 331h0M185 344h0M180 363h0M173 331h0M199 334h0M172 348h0M180 344h0M155 332h0M159 339h0M171 364h0M204 355h0M163 333h0M173 327h0M154 342h0M176 369h0M161 349h0M173 355h0M180 349h0M191 349h0M184 337h0M170 336h0M184 333h0M176 358h0M169 358h0M163 355h0M180 323h0M181 353h0M106 327h0M98 327h0M117 337h0M157 335h0M151 341h0M194 346h0M141 333h0M104 323h0M164 362h0M191 347h0M102 324h0M196 333h0M148 330h0M225 329h0M159 344h0M210 350h0M189 350h0M192 330h0M145 336h0M153 328h0M153 324h0M214 338h0M188 331h0M222 345h0M133 324h0M146 325h0M191 351h0M158 343h0M155 337h0M164 330h0M188 349h0M204 339h0M155 330h0M133 341h0M242 335h0M194 332h0M220 329h0M151 327h0M89 324h0M218 346h0M164 324h0M200 347h0M149 353h0M103 329h0M202 331h0M137 332h0M139 328h0M164 355h0M251 330h0M162 329h0M205 334h0M209 329h0M208 330h0M115 323h0M211 348h0M89 324h0M211 349h0M195 330h0M199 325h0M146 342h0M117 338h0M193 347h0M205 350h0M221 342h0M215 343h0M147 336h0M229 325h0M187 346h0M163 355h0M189 327h0M123 323h0M159 339h0M194 336h0M142 329h0M147 339h0M195 333h0M237 329h0M113 324h0M209 337h0M163 360h0M155 327h0M228 340h0M121 333h0M192 335h0M164 328h0M213 338h0M233 332h0M161 334h0M194 326h0M161 329h0M233 328h0M188 329h0M155 342h0M265 324h0M218 340h0M135 329h0M144 332h0M211 332h0M122 336h0M158 346h0M138 327h0M162 342h0M129 339h0M197 348h0M135 334h0M187 331h0M213 335h0M230 336h0M204 329h0M158 356h0M212 338h0"/>
<path stroke="#8D99AE" d="M191 333h0M172 271h0M163 160h0M196 211h0M166 286h0M174 326h0M194 124h0M191 108h0M184 287h0M193 92h0M193 191h0M162 151h0M185 248h0M159 114h0M192 77h0M185 335h0M183 246h0M162 332h0M181 364h0M190 371h0M166 155h0M160 233h0M171 298h0M172 237h0M190 173h0M173 293h0M185 309h0M192 370h0M174 362h0M189 349h0M185 348h0M165 341h0M182 242h0M179 356h0M192 169h0M168 269h0M161 121h0M191 116h0M164 205h0M195 340h0M192 285h0M168 266h0M168 367h0M172 339h0M194 174h0M186 273h0M181 262h0M170 217h0M189 226h0M180 314h0M167 213h0M194 317h0M175 337h0M187 156h0M160 112h0M161 238h0M163 343h0M161 68h0M185 362h0M160 100h0M165 193h0M163 137h0M164 288h0M185 305h0M159 91h0M161 159h0M163 245h0M161 160h0M180 352h0M191 156h0M172 349h0M192 147h0M167 156h0M166 142h0M164 344h0M172 292h0M160 88h0M173 280h0M159 69h0M165 186h0M160 222h0M175 354h0M188 322h0M196 357h0M160 242h0M189 144h0M191 289h0M190 153h0M171 262h0M174 350h0M166 137h0M162 116h0M182 300h0M161 94h0M160 92h0M185 231h0M193 176h0M187 219h0M187 232h0M184 185h0M161 281h0M194 72h0M189 339h0M164 169h0M183 230h0M186 174h0M160 298h0M192 104h0M192 351h0M167 227h0M186 245h0M179 308h0M170 286h0M164 253h0M191 336h0M187 203h0M187 195h0M185 321h0M188 204h0M165 118h0M170 194h0M191 318h0M188 330h0M169 183h0M160 246h0M193 74h0M167 174h0M181 298h0M192 223h0M187 244h0M193 233h0M184 203h0M178 333h0M166 314h0M194 163h0M168 357h0M192 87h0M170 237h0M196 78h0M191 88h0M191 248h0M160 179h0M191 355h0M173 337h0M191 146h0M182 230h0M159 164h0M171 243h0M164 224h0M190 112h0M161 136h0M193 133h0M159 227h0M163 302h0M167 334h0M161 104h0M189 306h0M175 315h0M191 231h0M192 88h0M194 83h0M167 356h0M191 280h0M165 243h0M190 293h0M161 159h0M169 185h0M166 220h0M162 113h0M194 243h0M164 98h0M188 131h0M180 371h0M186 178h0M184 241h0M183 312h0M190 336h0M186 205h0M159 71h0M187 282h0M190 163h0M159 82h0M170 202h0M181 357h0M158 136h0M164 124h0M186 193h0M194 195h0M188 309h0M184 228h0M163 203h0M188 322h0M159 71h0M195 150h0M193 118h0M167 365h0M191 122h0M191 352h0M163 86h0M167 239h0M183 235h0M187 188h0M161 134h0M190 122h0M194 355h0M171 342h0M183 260h0M166 210h0M163 359h0M183 341h0M191 111h0M160 68h0M192 180h0M187 276h0M165 225h0M183 317h0M178 360h0M170 335h0M166 149h0M192 234h0M188 137h0M165 268h0M165 348h0M181 313h0M190 195h0M194 349h0M170 281h0M163 195h0M163 130h0M168 272h0M194 76h0M171 331h0M165 324h0M162 81h0M191 168h0M162 143h0M180 300h0M167 275h0M160 294h0M180 336h0M185 326h0M174 328h0M172 344h0M189 230h0M181 258h0M161 353h0M165 317h0M189 288h0M185 228h0M168 177h0M184 225h0M175 321h0M182 244h0M191 319h0M195 325h0M180 356h0M187 294h0M164 165h0M161 218h0M158 127h0M168 317h0M178 363h0M187 144h0M184 347h0M160 152h0M185 341h0M159 192h0M175 362h0M173 257h0M172 366h0M190 275h0M172 242h0M186 167h0M165 119h0M179 359h0M187 212h0M188 271h0M159 130h0M162 87h0M173 308h0M167 179h0M180 285h0M189 146h0M189 249h0M184 341h0M169 185h0M170 257h0M185 178h0M191 106h0M190 220h0M190 175h0M195 181h0M196 227h0M186 296h0M187 245h0M162 101h0M195 120h0M193 107h0M173 310h0M168 281h0M176 358h0M192 105h0M168 350h0M189 248h0M195 93h0M160 166h0M174 267h0M166 154h0M159 79h0M180 295h0M186 308h0M186 157h0M186 316h0M163 201h0M162 317h0M179 354h0M193 248h0M193 233h0M160 75h0M160 147h0M170 229h0M168 170h0M181 361h0M161 304h0M192 342h0M162 148h0M166 131h0M190 170h0M158 347h0M162 337h0M192 90h0M180 291h0M162 331h0M159 117h0M166 244h0M195 343h0M183 259h0M187 253h0M195 90h0M163 96h0M175 337h0M171 347h0M183 363h0M172 355h0M168 364h0M170 365h0M157 344h0M145 344h0M204 346h0M170 326h0M168 348h0M195 360h0M178 329h0M149 336h0M172 359h0M165 362h0M175 362h0M167 361h0M172 341h0M194 342h0M173 353h0M166 326h0M175 329h0M170 345h0M167 326h0M181 326h0M177 355h0M181 341h0M198 346h0M175 350h0M168 333h0M165 347h0M189 330h0M194 359h0M178 367h0M171 331h0M187 355h0M173 353h0M200 351h0M171 359h0M180 362h0M154 330h0M156 336h0M172 324h0M169 340h0M181 362h0M177 366h0M171 343h0M167 340h0M195 339h0M207 337h0M178 348h0M195 329h0M193 335h0M165 358h0M176 349h0M177 349h0M161 345h0M177 366h0M185 332h0M196 328h0M167 344h0M174 325h0M175 365h0M151 328h0M160 327h0M174 366h0M178 325h0M175 365h0M156 359h0M199 331h0M182 358h0M165 345h0M208 330h0M181 360h0M167 346h0M165 323h0M176 323h0M180 336h0M158 339h0M206 324h0M188 359h0M185 359h0M186 358h0M164 338h0M160 353h0M155 348h0M149 326h0M173 359h0M176 330h0M174 334h0M173 334h0M187 325h0M181 347h0M147 341h0M157 332h0M182 336h0M155 347h0M198 330h0M179 346h0M160 345h0M196 344h0M201 349h0M177 359h0M171 344h0M149 343h0M196 355h0M158 360h0M163 328h0M162 327h0M228 335h0M190 337h0M225 339h0M159 352h0M192 344h0M159 325h0M146 331h0M164 363h0M128 323h0M127 338h0M254 324h0M154 342h0M162 351h0M122 332h0M155 353h0M148 331h0M192 362h0M188 325h0M158 342h0M148 332h0M131 332h0M207 349h0M157 347h0M147 345h0M205 335h0M162 364h0M164 326h0M231 341h0M247 323h0M97 328h0M207 328h0M197 325h0M187 343h0M212 341h0M226 339h0M155 350h0M191 359h0M190 356h0M143 328h0M209 327h0M159 324h0M211 337h0M129 342h0M113 329h0M159 336h0M159 325h0M214 327h0M111 329h0M140 344h0M167 353h0M132 332h0M194 328h0M231 324h0M215 338h0M187 359h0M230 339h0M143 352h0M188 329h0M191 342h0M165 326h0M218 341h0M206 323h0M193 334h0M151 353h0M201 338h0M162 324h0M115 324h0M158 347h0M188 350h0M138 346h0M155 328h0M237 335h0M189 332h0M134 325h0M198 340h0M188 339h0M159 345h0M253 326h0M162 354h0M158 334h0M121 324h0M194 333h0M163 329h0M262 324h0M162 361h0M214 341h0M166 346h0M163 22h0"/>
</svg>
<svg x="248.30" y="452.96" width="171.60" height="194.50" viewBox="0 0 343.20 389.00">
<path stroke="#F85E5E" d="M149 245h0M145 109h0M154 163h0M137 199h0M91 225h0M131 244h0M148 243h0"/>
<path stroke="#F85E5E" d="M120 123h0M143 165h0M137 170h0M143 212h0M99 237h0M154 233h0M116 239h0"/>
<path stroke="#F85E5E" d="M149 101h0M83 196h0M82 225h0M79 234h0M137 234h0M152 239h0"/>
<path stroke="#F85E5E" d="M153 244h0M154 101h0M78 136h0M150 144h0M129 203h0M133 206h0M114 209h0M96 230h0M124 230h0"/>
<path stroke="#F85E5E" d="M143 130h0M138 153h0M99 180h0M109 200h0M77 212h0M149 227h0M67 239h0M72 246h0"/>
<path stroke="#5B8FF9" d="M216 200h0M227 206h0M279 203h0M255 244h0"/>
<path stroke="#5B8FF9" d="M270 109h0M260 203h0M218 213h0M204 226h0"/>
<path stroke="#5B8FF9" d="M203 246h0M248 140h0M279 144h0M209 147h0M202 212h0M228 235h0M206 240h0M199 231h0"/>
<path stroke="#5B8FF9" d="M200 244h0M204 246h0M203 172h0M210 203h0M297 227h0"/>
<path stroke="#5B8FF9" d="M290 100h0M202 131h0M218 131h0M257 136h0M215 163h0M272 212h0M200 222h0M224 240h0M202 235h0M279 246h0"/>
<path stroke="#8D99AE" d="M170 272h0M175 303h0M180 270h0M194 296h0M187 293h0M166 298h0M184 285h0M165 269h0M169 270h0M183 264h0M171 286h0M182 253h0M179 318h0M190 224h0M181 332h0M188 349h0M195 274h0M162 330h0M160 331h0M183 328h0M168 338h0M172 365h0M182 278h0M191 262h0M190 295h0M192 318h0M187 223h0M187 317h0M175 354h0M189 366h0M165 332h0M187 341h0M192 236h0M185 298h0M170 340h0M173 227h0M185 286h0M173 346h0M162 353h0M174 340h0M178 354h0M164 300h0M173 302h0M181 345h0M170 336h0M195 314h0M166 274h0M175 320h0M189 366h0M190 361h0M191 271h0M165 290h0M191 359h0M173 325h0M173 293h0M172 352h0M164 220h0M169 314h0M170 362h0M182 221h0M186 363h0M159 353h0M181 233h0M166 253h0M183 232h0M166 321h0M184 246h0M192 288h0M187 362h0M167 303h0M164 301h0M163 246h0M163 300h0M172 361h0M181 238h0M168 219h0M173 245h0M194 261h0M167 302h0M172 343h0M161 327h0M167 226h0M192 230h0M162 214h0M169 270h0M182 330h0M173 332h0M162 359h0M193 227h0M162 347h0M171 257h0M166 293h0M180 345h0M159 272h0M164 335h0M169 311h0M163 347h0M172 251h0M165 224h0M186 276h0M194 317h0M169 297h0M166 290h0M195 252h0M185 340h0M178 342h0M176 350h0M171 331h0M182 347h0M181 357h0M181 318h0M168 317h0M196 355h0M195 356h0M187 253h0M160 369h0M183 272h0M192 241h0M162 369h0M167 222h0M174 361h0M186 221h0M194 291h0M161 371h0M172 344h0M173 281h0M193 215h0M173 291h0M174 286h0M179 366h0M164 294h0M192 228h0M193 343h0M162 271h0M186 253h0M170 138h0M183 180h0M188 157h0M192 188h0M183 181h0M173 219h0M166 168h0M186 107h0M163 185h0M171 195h0M170 120h0M184 113h0M167 147h0M171 170h0M181 218h0M189 205h0M171 159h0M185 141h0M185 173h0M181 215h0M164 134h0M163 174h0M185 108h0M192 158h0M170 112h0M186 122h0M165 194h0M167 202h0M172 227h0M170 142h0M162 172h0M191 186h0M184 142h0M183 208h0M184 227h0M171 165h0M188 210h0M185 206h0M170 195h0M192 127h0M163 184h0M165 105h0M184 141h0M185 173h0M186 106h0M168 100h0M165 105h0M169 101h0M184 102h0M169 254h0M190 347h0M165 261h0M198 360h0M171 293h0M196 342h0M174 304h0M189 248h0M197 341h0M205 282h0M171 359h0M186 279h0M162 285h0M175 280h0M169 310h0M172 359h0M175 337h0M173 280h0M161 338h0M191 316h0M179 339h0M169 326h0M202 283h0M172 302h0M189 315h0M195 340h0M187 359h0M182 335h0M166 356h0M166 336h0M187 325h0M172 331h0M184 271h0M179 334h0M181 284h0M195 363h0M183 329h0M191 348h0M183 356h0M164 349h0M163 251h0M179 281h0M162 247h0M160 322h0M169 296h0M186 299h0M159 294h0M194 322h0M164 301h0M194 358h0M182 273h0M184 297h0M170 307h0M161 248h0M189 257h0M152 330h0M181 338h0M192 340h0M206 286h0M195 324h0M179 344h0M148 294h0M167 243h0M182 267h0M148 300h0M201 349h0M171 339h0M189 260h0M162 284h0M180 338h0M165 273h0M180 259h0M172 366h0M158 359h0M196 339h0M174 262h0M182 267h0M178 315h0M176 242h0M169 322h0M171 316h0M164 247h0M198 263h0M183 291h0M175 334h0M159 276h0M174 244h0M170 355h0M176 361h0M193 277h0M172 258h0M161 269h0M182 308h0M165 244h0M165 317h0M200 335h0M179 248h0M175 282h0M197 353h0M189 278h0M154 282h0M194 256h0M180 245h0M181 251h0M164 348h0M165 258h0M183 254h0M176 332h0M166 266h0M168 245h0M176 309h0M201 329h0M194 275h0M151 332h0M176 272h0M192 313h0M153 295h0M187 261h0M170 246h0M200 271h0M174 340h0M175 363h0M184 338h0M173 253h0M171 271h0M168 309h0M196 302h0M192 295h0M182 359h0M201 330h0M169 366h0M158 265h0M158 242h0M189 310h0M179 275h0M182 260h0M191 362h0M157 356h0M187 325h0M226 282h0M125 289h0M241 308h0M199 257h0M154 328h0M192 349h0M156 273h0M201 253h0M113 273h0M157 305h0M145 284h0M158 326h0M153 318h0M197 291h0M96 291h0M225 296h0M263 258h0M158 351h0M200 329h0M220 311h0M126 298h0M122 312h0M151 333h0M162 303h0M75 269h0M104 303h0M107 259h0M162 261h0M118 252h0M207 281h0M228 324h0M153 335h0M156 259h0M154 280h0M151 285h0M162 308h0M149 298h0M151 263h0M192 346h0M194 299h0M154 308h0M155 304h0M155 306h0M104 281h0M151 316h0M147 297h0M223 310h0M151 321h0M160 310h0M151 332h0M217 291h0M155 288h0M93 285h0M138 319h0M194 346h0M214 312h0M192 261h0M143 299h0M185 47h0M73 271h0"/>
<path stroke="#8D99AE" d="M171 341h0M194 227h0M189 313h0M190 271h0M171 340h0M176 329h0M195 293h0M181 266h0M179 301h0M181 279h0M182 313h0M169 233h0M188 315h0M193 321h0M190 361h0M183 263h0M167 318h0M187 243h0M187 310h0M170 279h0M170 302h0M165 354h0M181 247h0M159 340h0M172 228h0M170 370h0M160 223h0M165 250h0M187 306h0M172 296h0M163 251h0M168 365h0M184 355h0M186 292h0M168 304h0M192 229h0M186 349h0M169 342h0M172 278h0M191 348h0M182 309h0M171 313h0M189 249h0M189 266h0M191 297h0M187 312h0M163 326h0M182 259h0M182 287h0M174 296h0M192 312h0M161 353h0M181 320h0M169 305h0M164 265h0M191 257h0M190 366h0M168 219h0M164 242h0M179 354h0M164 360h0M171 258h0M167 266h0M188 254h0M163 236h0M166 306h0M159 254h0M192 244h0M173 308h0M168 337h0M193 247h0M190 331h0M184 252h0M174 287h0M165 340h0M191 324h0M165 344h0M158 361h0M180 334h0M168 298h0M164 365h0M182 346h0M172 283h0M181 226h0M195 228h0M168 338h0M161 369h0M163 351h0M168 356h0M175 319h0M187 321h0M163 291h0M188 357h0M190 230h0M188 270h0M184 300h0M183 365h0M192 305h0M170 301h0M195 259h0M180 310h0M180 364h0M181 363h0M173 320h0M168 231h0M186 343h0M160 311h0M184 291h0M183 293h0M190 297h0M161 303h0M192 303h0M172 346h0M161 343h0M179 364h0M175 332h0M171 338h0M167 346h0M161 257h0M163 315h0M163 357h0M167 334h0M161 305h0M189 291h0M181 248h0M182 361h0M172 249h0M182 212h0M185 359h0M165 332h0M165 254h0M188 357h0M188 239h0M168 264h0M182 259h0M187 354h0M171 332h0M178 368h0M166 213h0M160 212h0M167 292h0M161 315h0M185 279h0M177 364h0M167 359h0M160 287h0M184 202h0M189 115h0M188 201h0M171 217h0M182 227h0M187 160h0M192 110h0M192 155h0M170 196h0M172 208h0M170 145h0M188 176h0M161 162h0M161 198h0M183 187h0M182 215h0M164 152h0M169 227h0M188 215h0M168 171h0M189 208h0M191 162h0M191 111h0M170 152h0M187 188h0M169 214h0M167 160h0M172 177h0M171 166h0M188 125h0M188 179h0M169 173h0M182 207h0M183 217h0M171 151h0M188 189h0M165 158h0M160 174h0M182 225h0M172 181h0M184 145h0M168 209h0M171 178h0M185 141h0M183 161h0M166 164h0M173 226h0M166 215h0M185 171h0M195 127h0M167 98h0M183 149h0M187 152h0M195 117h0M188 203h0M187 163h0M182 227h0M171 168h0M184 212h0M172 191h0M184 202h0M167 206h0M168 225h0M185 184h0M185 225h0M187 152h0M169 106h0M189 109h0M168 109h0M188 107h0M201 301h0M178 250h0M184 326h0M178 350h0M159 306h0M175 347h0M165 350h0M193 288h0M175 302h0M174 311h0M188 259h0M181 346h0M181 299h0M170 303h0M188 342h0M175 248h0M154 324h0M171 262h0M174 370h0M174 367h0M176 367h0M167 286h0M174 304h0M188 353h0M193 341h0M175 279h0M175 363h0M184 264h0M186 330h0M201 269h0M168 297h0M159 350h0M163 343h0M169 292h0M180 317h0M171 353h0M162 355h0M193 281h0M173 244h0M195 241h0M196 354h0M168 262h0M198 322h0M159 299h0M200 310h0M149 310h0M185 323h0M173 244h0M164 344h0M185 326h0M162 341h0M178 317h0M173 286h0M160 328h0M179 357h0M176 292h0M197 289h0M160 345h0M195 335h0M168 339h0M184 359h0M173 322h0M167 324h0M155 333h0M174 328h0M180 274h0M178 289h0M165 341h0M178 250h0M166 281h0M177 278h0M172 365h0M189 281h0M181 330h0M158 351h0M190 271h0M187 314h0M186 289h0M173 339h0M157 299h0M190 283h0M175 274h0M178 359h0M199 257h0M205 328h0M194 319h0M194 299h0M170 352h0M195 244h0M181 347h0M184 273h0M191 255h0M152 270h0M201 350h0M179 367h0M170 322h0M201 355h0M169 359h0M151 282h0M199 315h0M169 312h0M206 355h0M180 364h0M169 352h0M189 248h0M178 368h0M164 297h0M180 369h0M172 273h0M180 300h0M186 336h0M196 285h0M179 281h0M180 244h0M152 338h0M170 251h0M156 277h0M163 288h0M169 265h0M179 336h0M195 244h0M185 357h0M182 322h0M167 268h0M180 339h0M207 321h0M203 306h0M168 334h0M202 302h0M187 345h0M159 305h0M160 326h0M173 331h0M184 254h0M171 293h0M215 294h0M148 338h0M147 277h0M124 278h0M201 320h0M202 324h0M201 264h0M141 270h0M147 273h0M209 338h0M157 315h0M161 319h0M246 299h0M108 253h0M129 322h0M199 332h0M218 261h0M267 260h0M143 251h0M75 268h0M155 343h0M141 311h0M159 278h0M160 280h0M155 286h0M97 264h0M159 253h0M218 261h0M156 274h0M161 309h0M159 298h0M102 250h0M195 310h0M191 334h0M204 333h0M241 272h0M162 311h0M149 279h0M127 301h0M206 317h0M154 341h0M108 301h0M270 272h0M159 283h0M155 322h0M144 331h0M215 318h0M154 331h0M198 274h0M106 284h0M138 317h0M192 348h0M160 256h0M148 339h0M156 302h0M147 315h0M211 277h0M311 273h0"/>
<path stroke="#8D99AE" d="M183 210h0M188 246h0M184 237h0M172 350h0M159 291h0M185 229h0M173 272h0M187 291h0M184 271h0M175 339h0M159 287h0M164 216h0M181 282h0M187 253h0M185 306h0M167 228h0M179 342h0M186 276h0M180 295h0M160 222h0M164 297h0M159 294h0M170 242h0M166 286h0M172 339h0M183 307h0M176 367h0M183 266h0M173 281h0M162 258h0M165 336h0M170 346h0M184 288h0M169 366h0M193 224h0M170 278h0M163 210h0M173 284h0M190 243h0M166 356h0M195 326h0M187 302h0M183 216h0M181 298h0M186 266h0M195 249h0M162 335h0M161 300h0M194 307h0M170 250h0M168 338h0M187 274h0M171 296h0M168 328h0M186 358h0M169 337h0M188 275h0M159 297h0M188 240h0M174 356h0M195 313h0M173 288h0M193 228h0M194 331h0M185 306h0M191 333h0M162 342h0M184 213h0M161 261h0M182 254h0M187 316h0M187 351h0M159 360h0M173 261h0M166 308h0M191 334h0M167 357h0M181 260h0M165 243h0M173 243h0M165 257h0M169 313h0M171 266h0M184 247h0M181 255h0M187 334h0M194 315h0M187 273h0M164 353h0M160 325h0M165 293h0M195 230h0M169 234h0M163 277h0M176 344h0M193 261h0M174 346h0M180 359h0M195 272h0M168 296h0M183 313h0M167 359h0M186 282h0M173 249h0M162 266h0M190 251h0M162 264h0M170 267h0M179 367h0M168 340h0M170 279h0M181 271h0M181 235h0M162 270h0M167 278h0M185 358h0M169 311h0M193 344h0M182 280h0M183 259h0M162 275h0M186 305h0M193 334h0M173 287h0M169 230h0M172 338h0M160 276h0M162 306h0M193 364h0M165 286h0M160 330h0M183 229h0M193 279h0M175 310h0M192 239h0M163 214h0M166 133h0M182 207h0M186 195h0M170 214h0M187 186h0M166 115h0M184 225h0M187 157h0M184 122h0M189 150h0M172 197h0M184 125h0M183 192h0M184 193h0M168 184h0M170 188h0M191 221h0M165 168h0M186 217h0M187 124h0M183 180h0M167 118h0M170 226h0M171 194h0M171 170h0M170 205h0M168 113h0M185 194h0M185 161h0M167 137h0M195 198h0M182 225h0M184 185h0M170 125h0M171 187h0M164 121h0M167 192h0M191 169h0M172 228h0M166 106h0M185 176h0M191 147h0M183 185h0M163 198h0M192 112h0M187 121h0M159 213h0M187 103h0M193 108h0M162 101h0M164 108h0M168 104h0M164 108h0M168 102h0M190 108h0M168 107h0M187 109h0M148 343h0M179 321h0M182 344h0M151 345h0M184 266h0M173 351h0M180 269h0M189 292h0M170 288h0M166 364h0M185 361h0M188 269h0M193 252h0M183 242h0M180 290h0M158 252h0M172 319h0M190 349h0M155 309h0M157 355h0M193 350h0M193 316h0M174 288h0M190 318h0M166 321h0M185 319h0M162 288h0M166 340h0M177 371h0M193 338h0M180 274h0M177 289h0M166 330h0M174 320h0M195 276h0M193 353h0M169 262h0M192 292h0M179 323h0M170 278h0M169 248h0M173 345h0M192 256h0M197 322h0M170 285h0M178 260h0M187 271h0M176 319h0M169 339h0M177 275h0M166 250h0M168 292h0M195 279h0M181 253h0M165 294h0M190 291h0M187 256h0M179 299h0M184 250h0M168 363h0M156 299h0M166 343h0M183 301h0M164 316h0M197 349h0M165 314h0M156 355h0M157 308h0M168 267h0M198 345h0M162 279h0M187 310h0M178 359h0M166 317h0M167 252h0M184 264h0M184 293h0M178 291h0M154 334h0M164 245h0M178 279h0M159 274h0M171 257h0M190 310h0M180 268h0M188 294h0M173 264h0M183 245h0M190 363h0M167 359h0M166 331h0M163 268h0M164 345h0M183 354h0M173 361h0M172 366h0M203 248h0M167 260h0M160 273h0M165 303h0M181 271h0M160 303h0M176 316h0M175 250h0M169 280h0M174 362h0M170 333h0M180 284h0M195 337h0M194 269h0M162 258h0M176 292h0M187 349h0M184 368h0M174 329h0M170 256h0M175 294h0M174 281h0M168 366h0M170 342h0M194 281h0M188 355h0M177 277h0M169 246h0M178 325h0M184 331h0M152 323h0M172 290h0M181 293h0M202 329h0M206 248h0M147 314h0M184 368h0M158 274h0M179 334h0M188 260h0M161 308h0M200 295h0M162 359h0M204 304h0M200 341h0M172 256h0M181 348h0M159 337h0M191 255h0M179 343h0M166 357h0M166 320h0M181 242h0M175 242h0M198 336h0M165 363h0M196 355h0M173 272h0M198 278h0M178 343h0M190 255h0M173 275h0M138 320h0M102 287h0M132 300h0M160 269h0M214 274h0M155 346h0M148 322h0M144 296h0M160 272h0M114 283h0M146 338h0M114 281h0M161 317h0M97 254h0M246 258h0M133 319h0M131 321h0M132 284h0M153 304h0M206 276h0M152 319h0M161 281h0M113 309h0M134 293h0M212 339h0M143 319h0M99 289h0M136 277h0M154 319h0M144 267h0M158 305h0M204 303h0M270 283h0M84 273h0M155 314h0M127 274h0M133 329h0M160 309h0M85 257h0M197 280h0M138 278h0M220 274h0M200 303h0M201 301h0M154 272h0M133 272h0M153 287h0M163 284h0M135 298h0M208 275h0M116 265h0M131 322h0M148 313h0M196 288h0M166 16h0M57 259h0"/>
<path stroke="#8D99AE" d="M190 321h0M166 268h0M168 299h0M182 223h0M171 274h0M164 211h0M187 364h0M171 266h0M169 338h0M182 297h0M195 323h0M186 261h0M164 230h0M161 371h0M185 350h0M182 272h0M181 316h0M188 359h0M163 368h0M183 324h0M167 219h0M172 316h0M191 253h0M190 315h0M184 356h0M179 360h0M189 348h0M168 367h0M175 361h0M163 235h0M186 267h0M172 259h0M159 212h0M173 264h0M165 283h0M162 358h0M189 234h0M182 231h0M176 333h0M181 307h0M166 316h0M191 360h0M185 272h0M179 299h0M191 342h0M186 273h0M175 361h0M179 315h0M189 216h0M191 348h0M173 335h0M181 313h0M184 251h0M187 300h0M176 353h0M182 221h0M182 305h0M188 346h0M164 348h0M184 225h0M195 256h0M183 358h0M172 348h0M188 331h0M192 290h0M167 250h0M182 316h0M187 371h0M165 307h0M192 285h0M162 209h0M185 326h0M184 256h0M165 242h0M181 235h0M183 212h0M182 266h0M171 214h0M165 341h0M159 308h0M177 370h0M165 242h0M160 301h0M188 230h0M181 360h0M185 261h0M171 265h0M176 353h0M195 258h0M168 217h0M182 323h0M183 244h0M170 262h0M188 369h0M172 246h0M173 336h0M173 278h0M166 244h0M173 367h0M164 290h0M173 329h0M160 333h0M192 255h0M185 233h0M188 276h0M187 276h0M162 337h0M168 245h0M162 329h0M167 300h0M169 230h0M195 218h0M163 216h0M165 104h0M183 216h0M186 195h0M188 140h0M189 210h0M165 165h0M184 141h0M185 202h0M169 228h0M186 201h0M167 146h0M182 225h0M191 108h0M169 129h0M186 191h0M183 183h0M189 132h0M168 177h0M187 146h0M183 221h0M186 184h0M168 138h0M193 207h0M184 221h0M171 217h0M187 207h0M170 184h0M159 215h0M168 131h0M170 165h0M184 116h0M185 98h0M171 171h0M185 123h0M170 143h0M167 128h0M189 207h0M186 104h0M172 192h0M173 215h0M159 120h0M185 212h0M162 103h0M161 224h0M170 144h0M168 197h0M172 186h0M167 154h0M183 171h0M183 195h0M167 226h0M183 221h0M172 191h0M187 189h0M161 103h0M165 100h0M184 103h0M186 105h0M166 100h0M167 105h0M169 106h0M200 283h0M158 298h0M150 264h0M175 252h0M181 296h0M198 279h0M161 273h0M192 357h0M157 301h0M158 319h0M170 291h0M188 345h0M186 292h0M171 337h0M166 312h0M180 369h0M157 292h0M193 303h0M177 298h0M161 329h0M187 305h0M184 344h0M189 312h0M183 273h0M162 340h0M168 243h0M194 244h0M189 344h0M156 339h0M168 340h0M188 352h0M188 286h0M159 314h0M199 257h0M190 291h0M185 247h0M199 300h0M175 306h0M173 367h0M182 297h0M165 356h0M190 346h0M184 283h0M179 245h0M166 321h0M154 339h0M149 328h0M172 260h0M186 264h0M156 300h0M201 333h0M198 336h0M190 345h0M173 335h0M160 264h0M156 320h0M170 306h0M162 316h0M196 275h0M190 313h0M177 288h0M200 284h0M174 307h0M205 351h0M174 298h0M194 293h0M175 310h0M180 318h0M199 262h0M179 254h0M186 274h0M161 324h0M184 339h0M178 261h0M178 286h0M178 245h0M180 346h0M174 370h0M171 318h0M165 268h0M194 317h0M190 299h0M174 355h0M178 316h0M187 322h0M174 351h0M190 361h0M183 338h0M170 291h0M161 324h0M186 359h0M192 253h0M188 276h0M182 299h0M176 293h0M191 335h0M178 353h0M183 250h0M185 309h0M196 260h0M172 269h0M187 302h0M157 251h0M190 347h0M167 285h0M175 357h0M192 246h0M183 262h0M179 247h0M179 265h0M166 299h0M177 244h0M165 291h0M169 356h0M160 293h0M176 330h0M189 351h0M167 278h0M160 337h0M192 323h0M159 243h0M185 338h0M180 290h0M189 266h0M199 272h0M159 277h0M177 272h0M177 311h0M196 244h0M172 310h0M202 342h0M182 307h0M182 259h0M155 285h0M148 339h0M165 339h0M150 350h0M184 298h0M185 278h0M151 325h0M200 264h0M147 290h0M181 314h0M175 253h0M152 269h0M200 337h0M169 245h0M167 270h0M188 268h0M172 268h0M127 291h0M155 330h0M245 290h0M150 300h0M235 315h0M141 275h0M162 258h0M140 309h0M218 316h0M203 301h0M229 301h0M140 259h0M81 256h0M106 297h0M136 289h0M157 297h0M142 254h0M124 282h0M143 267h0M147 321h0M264 284h0M113 304h0M157 258h0M145 277h0M139 289h0M151 282h0M132 263h0M157 300h0M109 300h0M153 310h0M145 294h0M142 332h0M208 307h0M193 355h0M136 274h0M152 294h0M155 342h0M147 267h0M196 350h0M163 302h0M143 315h0M149 265h0M144 304h0M121 291h0M104 275h0M229 322h0M224 319h0M221 295h0M152 287h0M148 289h0M231 305h0M211 292h0M163 344h0M184 16h0M183 72h0"/>
<path stroke="#8D99AE" d="M166 301h0M190 262h0M194 266h0M192 294h0M169 294h0M166 245h0M169 335h0M175 352h0M164 333h0M190 260h0M181 305h0M175 365h0M165 301h0M159 336h0M186 248h0M178 360h0M183 258h0M159 239h0M162 360h0M166 259h0M172 255h0M159 285h0M184 308h0M158 297h0M165 246h0M174 290h0M159 350h0M182 342h0M168 324h0M190 225h0M173 367h0M175 324h0M185 338h0M171 232h0M181 351h0M181 306h0M170 303h0M182 224h0M190 246h0M174 348h0M188 345h0M190 308h0M185 298h0M188 292h0M163 333h0M183 288h0M194 325h0M167 268h0M172 241h0M190 354h0M194 360h0M166 267h0M173 320h0M183 279h0M186 217h0M167 277h0M173 356h0M169 302h0M188 228h0M181 346h0M162 272h0M179 367h0M193 241h0M167 355h0M192 275h0M180 360h0M166 223h0M180 254h0M188 275h0M186 299h0M171 239h0M185 324h0M187 275h0M186 304h0M195 301h0M164 302h0M184 267h0M160 300h0M165 321h0M183 233h0M194 220h0M168 349h0M194 251h0M171 245h0M166 255h0M168 252h0M172 314h0M187 249h0M172 327h0M165 259h0M181 209h0M171 356h0M161 245h0M195 303h0M175 323h0M165 323h0M169 269h0M165 321h0M182 319h0M160 339h0M182 301h0M168 360h0M161 338h0M193 230h0M193 331h0M173 225h0M162 272h0M175 319h0M166 303h0M173 294h0M190 351h0M187 218h0M170 364h0M187 336h0M175 365h0M174 269h0M180 336h0M182 288h0M174 362h0M192 341h0M174 332h0M184 227h0M171 150h0M171 198h0M194 193h0M164 198h0M172 225h0M184 201h0M164 194h0M184 130h0M181 223h0M185 163h0M184 147h0M184 199h0M187 120h0M165 114h0M171 200h0M192 207h0M187 188h0M183 155h0M170 220h0M170 184h0M183 206h0M193 106h0M184 176h0M166 118h0M189 149h0M168 135h0M169 135h0M164 183h0M184 104h0M170 129h0M170 125h0M170 186h0M170 190h0M193 120h0M170 132h0M162 156h0M184 179h0M182 206h0M184 187h0M181 219h0M185 201h0M166 121h0M187 214h0M170 188h0M168 204h0M161 102h0M169 161h0M195 102h0M166 101h0M166 106h0M187 106h0M174 286h0M177 371h0M188 333h0M198 268h0M194 250h0M179 366h0M163 359h0M168 283h0M171 350h0M150 342h0M177 315h0M187 302h0M175 305h0M167 315h0M177 337h0M189 290h0M175 365h0M188 339h0M165 289h0M199 330h0M195 330h0M160 244h0M165 254h0M197 350h0M165 359h0M197 310h0M198 331h0M203 310h0M169 258h0M202 293h0M189 252h0M186 255h0M190 256h0M180 257h0M202 319h0M164 244h0M181 334h0M189 334h0M186 290h0M171 301h0M176 295h0M183 348h0M193 344h0M163 245h0M168 341h0M165 250h0M172 280h0M166 343h0M180 285h0M176 258h0M190 321h0M177 363h0M193 274h0M163 332h0M180 242h0M174 353h0M196 277h0M188 319h0M166 247h0M186 249h0M173 283h0M191 337h0M191 354h0M202 271h0M192 306h0M160 251h0M172 364h0M178 304h0M164 319h0M189 298h0M161 295h0M169 250h0M173 278h0M176 302h0M149 328h0M169 273h0M175 309h0M180 256h0M159 289h0M178 326h0M179 327h0M179 304h0M179 354h0M156 273h0M200 297h0M193 309h0M199 360h0M179 245h0M172 259h0M187 308h0M198 286h0M158 269h0M160 242h0M180 360h0M181 343h0M166 342h0M190 254h0M200 298h0M199 334h0M184 350h0M189 354h0M194 276h0M162 282h0M188 335h0M168 255h0M185 296h0M169 326h0M198 341h0M176 367h0M191 309h0M177 268h0M167 311h0M156 339h0M179 317h0M167 354h0M189 264h0M184 329h0M173 336h0M166 294h0M178 342h0M154 312h0M197 266h0M161 363h0M163 307h0M198 251h0M160 322h0M185 318h0M188 312h0M201 336h0M171 263h0M176 282h0M189 330h0M167 263h0M172 311h0M149 303h0M172 260h0M187 254h0M162 300h0M167 289h0M177 333h0M170 294h0M190 300h0M176 344h0M188 313h0M196 279h0M166 281h0M195 314h0M160 251h0M202 293h0M189 257h0M166 263h0M170 341h0M178 272h0M189 353h0M164 298h0M182 310h0M176 337h0M181 260h0M194 276h0M183 252h0M165 336h0M190 283h0M175 245h0M149 292h0M196 251h0M159 295h0M205 338h0M205 306h0M162 286h0M197 331h0M89 289h0M195 264h0M147 266h0M127 292h0M215 329h0M149 315h0M141 336h0M108 290h0M137 298h0M211 336h0M192 301h0M209 339h0M144 307h0M155 286h0M261 274h0M232 286h0M144 277h0M141 334h0M160 258h0M123 291h0M213 309h0M160 344h0M161 256h0M197 352h0M161 355h0M156 285h0M146 334h0M162 343h0M192 312h0M119 282h0M128 267h0M158 307h0M162 350h0M160 259h0M218 312h0M157 299h0M160 299h0M194 305h0M120 287h0M142 322h0M144 304h0M171 72h0M190 84h0"/>
</svg>
<svg x="449.15" y="452.96" width="171.60" height="194.50" viewBox="0 0 343.20 389.00">
<path stroke="#F85E5E" d="M102 227h0M93 233h0"/>
<path stroke="#F85E5E" d="M56 89h0M148 124h0M108 182h0M155 228h0M155 240h0M96 245h0"/>
<path stroke="#F85E5E" d="M156 248h0M158 249h0M76 170h0M128 216h0M93 220h0M128 221h0M130 236h0"/>
<path stroke="#F85E5E" d="M152 247h0M152 249h0M153 148h0M155 186h0M143 203h0M119 212h0M107 228h0M146 227h0M57 243h0"/>
<path stroke="#F85E5E" d="M155 126h0M145 148h0M152 194h0M82 230h0M110 236h0M127 234h0M93 239h0M107 246h0"/>
<path stroke="#5B8FF9" d="M200 109h0M240 149h0M208 209h0M234 228h0"/>
<path stroke="#5B8FF9" d="M197 247h0M219 223h0M207 241h0"/>
<path stroke="#5B8FF9" d="M271 70h0M198 81h0M261 208h0M232 224h0M204 226h0"/>
<path stroke="#5B8FF9" d="M197 247h0M199 249h0M215 175h0M235 217h0M292 220h0"/>
<path stroke="#5B8FF9" d="M200 248h0M225 223h0M253 231h0"/>
<path stroke="#8D99AE" d="M180 368h0M168 340h0M166 360h0M170 257h0M188 362h0M170 304h0M190 220h0M163 280h0M166 343h0M170 323h0M180 353h0M187 332h0M182 220h0M187 311h0M169 212h0M181 298h0M181 346h0M166 350h0M183 334h0M194 222h0M171 235h0M167 262h0M160 328h0M178 349h0M164 268h0M183 220h0M178 344h0M164 241h0M160 216h0M166 310h0M188 284h0M165 337h0M180 310h0M182 281h0M181 348h0M168 275h0M170 310h0M159 253h0M187 325h0M185 268h0M179 322h0M169 343h0M188 362h0M173 249h0M194 313h0M179 335h0M193 327h0M179 372h0M162 362h0M183 270h0M176 357h0M187 336h0M183 316h0M171 256h0M172 237h0M170 235h0M169 328h0M190 364h0M167 349h0M179 321h0M166 230h0M183 333h0M168 251h0M195 251h0M173 230h0M171 367h0M172 285h0M190 320h0M186 199h0M184 262h0M183 368h0M170 357h0M194 237h0M173 367h0M173 230h0M183 344h0M168 289h0M188 341h0M181 368h0M160 230h0M192 199h0M165 257h0M172 207h0M172 289h0M183 326h0M161 209h0M186 337h0M193 321h0M194 324h0M180 346h0M190 343h0M179 346h0M166 245h0M169 258h0M186 319h0M170 268h0M171 258h0M169 238h0M163 303h0M173 348h0M186 327h0M181 355h0M174 298h0M195 366h0M161 331h0M173 294h0M176 368h0M161 271h0M170 231h0M189 344h0M159 311h0M195 273h0M195 214h0M170 311h0M173 367h0M172 260h0M182 247h0M185 299h0M158 268h0M166 218h0M183 333h0M163 277h0M191 285h0M167 207h0M189 301h0M162 316h0M168 217h0M180 360h0M171 249h0M177 364h0M174 357h0M188 205h0M174 266h0M162 334h0M161 207h0M172 227h0M187 225h0M179 353h0M195 306h0M165 221h0M162 221h0M163 235h0M160 358h0M180 302h0M185 271h0M173 370h0M171 317h0M161 239h0M192 268h0M185 310h0M168 300h0M186 297h0M176 359h0M161 218h0M183 216h0M190 216h0M190 70h0M188 114h0M192 141h0M187 189h0M185 207h0M184 193h0M192 212h0M186 142h0M186 208h0M189 87h0M185 168h0M184 177h0M195 109h0M184 220h0M184 185h0M186 202h0M184 163h0M190 125h0M183 210h0M190 195h0M184 207h0M188 186h0M195 215h0M185 173h0M188 141h0M187 211h0M188 142h0M186 185h0M185 138h0M187 140h0M187 208h0M166 213h0M165 180h0M171 184h0M169 219h0M170 211h0M169 180h0M171 185h0M171 187h0M169 216h0M169 205h0M172 219h0M170 221h0M172 180h0M166 196h0M173 322h0M175 255h0M159 287h0M171 248h0M171 330h0M200 263h0M187 251h0M183 362h0M176 264h0M205 274h0M160 273h0M147 305h0M190 320h0M196 260h0M163 311h0M158 325h0M199 296h0M185 317h0M182 310h0M196 256h0M164 317h0M178 312h0M193 286h0M178 288h0M186 271h0M173 342h0M186 280h0M173 357h0M204 270h0M167 263h0M162 268h0M183 346h0M175 291h0M161 326h0M177 276h0M183 356h0M171 362h0M187 326h0M155 283h0M183 323h0M197 353h0M152 279h0M151 311h0M192 298h0M179 270h0M196 318h0M191 269h0M167 285h0M178 305h0M166 320h0M166 298h0M202 261h0M185 353h0M158 316h0M163 260h0M195 272h0M150 250h0M177 369h0M172 304h0M155 331h0M190 288h0M196 265h0M171 287h0M177 249h0M174 267h0M155 268h0M181 335h0M165 335h0M162 351h0M183 328h0M204 327h0M173 327h0M178 257h0M198 338h0M178 276h0M173 338h0M158 309h0M153 325h0M177 370h0M201 356h0M190 325h0M173 309h0M176 350h0M171 347h0M183 339h0M190 268h0M170 257h0M172 317h0M181 360h0M147 301h0M177 338h0M203 351h0M184 338h0M191 261h0M169 293h0M174 292h0M165 292h0M142 281h0M191 262h0M155 310h0M151 342h0M160 338h0M195 302h0M191 362h0M193 359h0M189 268h0M169 320h0M160 282h0M181 357h0M190 317h0M184 351h0M194 289h0M177 346h0M191 305h0M159 255h0M184 316h0M173 287h0M186 275h0M197 347h0M173 317h0M177 271h0M185 303h0M180 337h0M185 346h0M165 292h0M165 316h0M199 264h0M180 361h0M162 291h0M164 345h0M163 323h0M178 334h0M152 267h0M201 255h0M195 322h0M212 301h0M195 296h0M178 368h0M179 260h0M183 295h0M160 267h0M154 252h0M190 274h0M180 261h0M158 273h0M196 308h0M188 281h0M145 281h0M179 307h0M161 352h0M173 279h0M143 291h0M208 274h0M273 302h0M146 292h0M148 333h0M128 309h0M207 325h0M115 315h0M155 298h0M152 257h0M250 293h0M220 339h0M148 313h0M122 317h0M199 286h0M196 300h0M252 284h0M84 261h0M223 284h0M207 273h0M223 300h0M120 264h0M204 351h0M103 258h0M205 333h0M207 274h0M216 260h0M236 288h0M199 309h0M148 256h0M140 301h0M200 324h0M117 257h0M231 331h0M242 300h0M201 273h0M202 321h0M202 286h0M200 304h0M194 338h0M100 323h0M214 291h0M248 327h0M194 255h0M205 329h0M155 322h0M202 319h0M153 272h0M227 272h0M204 314h0M247 290h0M243 275h0M162 274h0M197 342h0M258 308h0M144 293h0M145 279h0M212 282h0M157 269h0M139 341h0M209 322h0M117 329h0M249 254h0M79 282h0M197 285h0M217 307h0M213 347h0M146 309h0M133 286h0M223 320h0M80 290h0M202 354h0M210 310h0M115 287h0M201 319h0M157 260h0M167 17h0M190 88h0M193 131h0M68 252h0"/>
<path stroke="#8D99AE" d="M170 342h0M189 290h0M185 286h0M168 310h0M182 288h0M164 291h0M175 354h0M183 316h0M195 268h0M180 326h0M165 303h0M160 340h0M175 326h0M187 362h0M159 338h0M165 257h0M161 347h0M173 351h0M170 360h0M175 290h0M194 222h0M170 290h0M166 301h0M183 276h0M195 283h0M166 333h0M189 250h0M179 336h0M187 316h0M190 257h0M160 262h0M182 247h0M160 310h0M182 368h0M170 294h0M189 274h0M167 337h0M166 239h0M174 271h0M166 336h0M163 243h0M170 331h0M191 215h0M170 334h0M187 329h0M195 303h0M191 267h0M192 213h0M192 320h0M190 254h0M179 344h0M182 351h0M180 360h0M182 310h0M172 291h0M188 235h0M189 207h0M177 358h0M160 259h0M183 220h0M170 282h0M169 370h0M172 201h0M193 248h0M183 341h0M187 245h0M172 258h0M169 336h0M159 280h0M173 303h0M169 280h0M163 210h0M186 342h0M172 345h0M192 341h0M183 318h0M191 349h0M167 232h0M160 359h0M165 341h0M175 313h0M184 205h0M181 227h0M161 235h0M183 292h0M162 307h0M159 257h0M162 269h0M193 325h0M167 366h0M187 314h0M186 294h0M183 199h0M180 366h0M188 255h0M170 262h0M160 235h0M170 268h0M183 204h0M183 265h0M165 281h0M175 320h0M185 287h0M186 202h0M186 353h0M190 339h0M166 297h0M195 315h0M181 294h0M159 352h0M169 288h0M159 324h0M192 340h0M179 349h0M182 307h0M195 368h0M180 329h0M173 229h0M181 371h0M163 254h0M168 202h0M159 345h0M193 347h0M183 344h0M173 249h0M189 273h0M194 349h0M194 270h0M166 204h0M189 272h0M161 293h0M175 372h0M179 311h0M165 298h0M186 208h0M186 147h0M192 77h0M184 214h0M185 201h0M188 218h0M185 193h0M189 97h0M186 137h0M185 215h0M190 185h0M186 216h0M193 209h0M183 219h0M189 174h0M186 139h0M183 216h0M184 183h0M184 191h0M186 178h0M185 181h0M185 169h0M186 220h0M167 211h0M164 221h0M171 194h0M172 206h0M169 202h0M169 186h0M172 218h0M165 159h0M169 221h0M171 196h0M168 179h0M170 195h0M171 214h0M167 218h0M147 263h0M168 313h0M184 353h0M168 323h0M172 247h0M153 354h0M180 365h0M162 342h0M170 279h0M177 288h0M175 284h0M193 271h0M161 293h0M164 304h0M184 323h0M164 347h0M156 251h0M177 266h0M168 356h0M181 325h0M184 264h0M195 271h0M189 263h0M198 357h0M172 363h0M156 355h0M168 288h0M199 272h0M154 297h0M146 350h0M153 296h0M183 312h0M167 262h0M163 309h0M162 264h0M210 321h0M184 349h0M173 360h0M187 355h0M158 304h0M171 287h0M153 343h0M172 313h0M183 293h0M204 326h0M196 259h0M191 316h0M175 246h0M185 284h0M194 361h0M205 296h0M173 293h0M182 306h0M143 252h0M180 276h0M144 308h0M168 344h0M183 324h0M192 325h0M147 284h0M174 325h0M193 280h0M152 341h0M168 267h0M175 256h0M191 252h0M167 299h0M174 280h0M162 273h0M176 265h0M212 299h0M187 247h0M179 300h0M156 272h0M204 296h0M166 360h0M172 308h0M178 352h0M178 286h0M180 318h0M182 287h0M194 345h0M181 307h0M187 289h0M149 346h0M158 278h0M190 337h0M205 259h0M165 309h0M170 315h0M168 246h0M172 299h0M174 274h0M168 355h0M163 278h0M181 306h0M171 304h0M142 332h0M193 303h0M169 302h0M165 325h0M160 290h0M187 350h0M154 299h0M193 321h0M184 270h0M148 254h0M150 348h0M190 314h0M173 285h0M189 314h0M169 292h0M175 302h0M184 341h0M185 252h0M154 318h0M177 339h0M164 263h0M168 282h0M193 278h0M182 307h0M172 343h0M186 281h0M187 341h0M158 266h0M152 253h0M153 349h0M200 353h0M148 252h0M190 293h0M174 343h0M180 348h0M191 326h0M206 354h0M193 272h0M169 279h0M171 359h0M150 312h0M191 285h0M184 261h0M146 342h0M188 357h0M212 251h0M182 351h0M162 279h0M181 317h0M187 245h0M178 325h0M175 252h0M173 315h0M196 344h0M193 315h0M187 331h0M191 252h0M184 269h0M157 306h0M195 355h0M138 278h0M207 287h0M98 298h0M265 280h0M203 356h0M255 289h0M208 289h0M143 303h0M157 336h0M163 324h0M141 316h0M220 343h0M259 257h0M148 337h0M154 355h0M84 306h0M201 289h0M87 301h0M220 338h0M149 317h0M107 321h0M140 328h0M193 318h0M201 299h0M159 315h0M157 279h0M152 309h0M205 331h0M128 315h0M151 354h0M207 340h0M233 314h0M103 290h0M204 323h0M196 336h0M113 328h0M207 336h0M135 288h0M223 282h0M152 278h0M125 321h0M159 293h0M216 281h0M157 346h0M160 268h0M153 338h0M206 295h0M194 329h0M96 299h0M234 335h0M161 321h0M136 320h0M204 318h0M249 276h0M239 304h0M133 284h0M233 262h0M229 337h0M245 259h0M163 326h0M197 357h0M139 343h0M158 290h0M145 326h0M216 327h0M148 307h0M199 316h0M208 299h0M154 316h0M190 70h0M183 82h0M185 104h0M188 126h0"/>
<path stroke="#8D99AE" d="M182 265h0M180 328h0M172 213h0M195 283h0M189 228h0M171 366h0M183 369h0M167 353h0M159 225h0M181 301h0M165 348h0M175 315h0M174 252h0M168 349h0M175 340h0M173 352h0M187 214h0M182 299h0M185 241h0M162 314h0M190 360h0M180 361h0M194 306h0M171 208h0M181 304h0M190 313h0M188 350h0M164 259h0M195 233h0M189 263h0M186 243h0M173 279h0M180 339h0M159 310h0M189 303h0M160 238h0M178 361h0M171 321h0M161 281h0M167 315h0M166 333h0M188 212h0M190 342h0M192 334h0M186 255h0M169 260h0M170 343h0M180 295h0M165 286h0M169 322h0M186 363h0M185 296h0M167 322h0M160 233h0M190 336h0M191 280h0M194 351h0M162 293h0M178 355h0M192 210h0M174 353h0M162 288h0M186 235h0M167 310h0M168 333h0M172 336h0M187 255h0M195 241h0M196 283h0M189 242h0M180 306h0M193 348h0M166 246h0M182 341h0M174 276h0M184 255h0M185 273h0M194 234h0M179 334h0M187 326h0M184 242h0M174 367h0M185 206h0M182 350h0M166 209h0M187 321h0M172 230h0M192 234h0M168 329h0M188 255h0M167 345h0M165 280h0M187 315h0M179 351h0M187 270h0M183 368h0M184 321h0M185 248h0M166 250h0M159 357h0M191 250h0M165 335h0M161 277h0M193 230h0M186 296h0M172 361h0M194 306h0M181 360h0M184 371h0M184 305h0M172 221h0M179 305h0M178 360h0M179 362h0M175 289h0M167 320h0M165 350h0M184 267h0M159 331h0M186 192h0M188 129h0M188 204h0M189 186h0M188 151h0M183 219h0M188 97h0M194 187h0M185 210h0M189 202h0M193 204h0M189 106h0M186 193h0M186 189h0M192 176h0M185 198h0M185 217h0M184 181h0M187 159h0M184 213h0M185 216h0M186 204h0M185 202h0M184 193h0M194 119h0M187 113h0M186 126h0M191 218h0M183 222h0M191 171h0M166 219h0M160 193h0M164 199h0M171 221h0M164 206h0M169 215h0M169 166h0M162 165h0M169 200h0M164 205h0M169 210h0M172 196h0M189 260h0M170 317h0M182 348h0M170 268h0M151 349h0M155 295h0M180 290h0M179 306h0M184 252h0M181 338h0M172 285h0M160 291h0M189 350h0M161 338h0M178 288h0M156 252h0M184 302h0M149 317h0M176 252h0M179 357h0M181 248h0M181 300h0M168 264h0M151 350h0M193 269h0M146 265h0M181 324h0M179 305h0M194 270h0M177 335h0M158 338h0M190 270h0M182 287h0M190 336h0M142 286h0M186 296h0M195 351h0M182 291h0M180 354h0M171 354h0M174 351h0M191 307h0M173 303h0M180 314h0M159 342h0M154 292h0M160 275h0M201 333h0M152 252h0M193 298h0M175 347h0M202 311h0M188 334h0M173 318h0M175 284h0M184 317h0M175 362h0M155 262h0M176 346h0M180 292h0M183 299h0M161 259h0M157 304h0M166 261h0M179 340h0M178 315h0M184 253h0M158 326h0M177 249h0M158 310h0M204 296h0M162 339h0M203 318h0M169 291h0M179 296h0M168 275h0M186 326h0M192 348h0M167 328h0M183 271h0M187 349h0M183 302h0M170 324h0M175 284h0M199 350h0M173 264h0M165 264h0M192 311h0M184 296h0M185 340h0M205 340h0M182 309h0M174 333h0M188 357h0M186 272h0M166 352h0M164 330h0M198 345h0M205 303h0M177 276h0M143 336h0M177 262h0M181 255h0M149 336h0M198 269h0M190 336h0M152 284h0M163 346h0M170 358h0M184 278h0M184 286h0M176 355h0M163 293h0M169 285h0M177 325h0M168 358h0M189 281h0M199 330h0M188 335h0M182 252h0M158 344h0M200 324h0M173 254h0M181 319h0M157 358h0M192 326h0M195 322h0M181 300h0M160 276h0M188 332h0M203 306h0M172 365h0M177 351h0M190 309h0M211 264h0M142 346h0M164 259h0M151 322h0M166 355h0M191 313h0M202 334h0M163 270h0M165 296h0M178 351h0M156 262h0M165 273h0M154 355h0M183 288h0M170 250h0M186 282h0M146 334h0M183 336h0M184 259h0M205 278h0M191 353h0M190 324h0M172 292h0M157 295h0M186 314h0M163 356h0M188 245h0M179 256h0M196 275h0M182 347h0M149 301h0M175 281h0M193 285h0M132 270h0M155 331h0M141 341h0M162 332h0M198 327h0M160 351h0M206 343h0M120 329h0M148 317h0M150 271h0M229 268h0M149 253h0M153 275h0M206 339h0M162 342h0M206 296h0M162 299h0M269 267h0M202 303h0M97 323h0M161 355h0M112 286h0M125 277h0M100 288h0M207 272h0M212 273h0M156 327h0M219 333h0M130 277h0M91 268h0M110 280h0M148 338h0M203 329h0M135 302h0M150 330h0M111 325h0M192 269h0M137 272h0M131 265h0M162 352h0M197 331h0M148 323h0M157 285h0M228 293h0M208 326h0M131 286h0M229 320h0M122 288h0M107 302h0M208 306h0M192 278h0M152 340h0M155 286h0M201 286h0M159 326h0M147 342h0M162 352h0M257 266h0M124 280h0M218 347h0M225 302h0M109 307h0M203 352h0M209 317h0M124 339h0M128 328h0M228 296h0M158 321h0M193 334h0M249 316h0M184 114h0M162 122h0M171 122h0M60 293h0"/>
<path stroke="#8D99AE" d="M194 244h0M165 322h0M171 238h0M184 354h0M187 270h0M166 239h0M186 356h0M168 330h0M192 205h0M178 338h0M193 270h0M187 371h0M179 328h0M174 278h0M183 222h0M159 332h0M181 355h0M168 325h0M193 202h0M171 356h0M171 338h0M183 254h0M175 337h0M172 250h0M170 276h0M183 224h0M163 358h0M195 350h0M165 360h0M168 245h0M184 275h0M182 219h0M166 313h0M190 316h0M189 326h0M165 348h0M184 283h0M184 266h0M162 248h0M182 231h0M193 201h0M169 335h0M191 261h0M195 229h0M187 343h0M165 280h0M170 343h0M187 284h0M189 266h0M190 233h0M163 234h0M186 250h0M167 371h0M194 341h0M180 348h0M168 275h0M184 326h0M161 313h0M173 327h0M186 333h0M172 324h0M185 230h0M190 363h0M179 366h0M186 360h0M185 369h0M175 318h0M159 219h0M161 242h0M169 351h0M175 340h0M180 347h0M188 321h0M167 270h0M194 350h0M167 217h0M185 343h0M193 204h0M160 224h0M162 267h0M190 261h0M183 309h0M188 255h0M180 357h0M172 270h0M189 298h0M179 352h0M167 330h0M168 202h0M181 302h0M169 274h0M171 217h0M175 312h0M189 234h0M172 335h0M185 248h0M181 305h0M189 319h0M191 267h0M178 329h0M183 291h0M178 369h0M171 240h0M176 348h0M174 348h0M169 281h0M184 306h0M172 299h0M184 341h0M166 313h0M179 311h0M195 367h0M159 310h0M173 308h0M163 228h0M169 325h0M192 349h0M175 364h0M193 287h0M170 279h0M162 311h0M171 207h0M194 257h0M173 266h0M191 302h0M173 315h0M174 302h0M163 331h0M192 249h0M190 257h0M177 366h0M185 306h0M176 362h0M181 285h0M187 208h0M192 218h0M183 243h0M162 349h0M168 306h0M184 264h0M195 174h0M192 77h0M184 222h0M188 119h0M185 180h0M189 215h0M186 159h0M187 174h0M186 120h0M189 220h0M188 176h0M186 139h0M186 221h0M187 178h0M192 152h0M185 167h0M189 130h0M188 89h0M188 189h0M185 222h0M185 212h0M185 176h0M184 199h0M187 136h0M184 187h0M173 217h0M170 214h0M171 167h0M166 168h0M172 191h0M173 221h0M169 203h0M169 180h0M173 218h0M170 213h0M172 216h0M199 259h0M181 259h0M153 272h0M183 295h0M197 301h0M150 293h0M168 314h0M205 262h0M149 341h0M190 272h0M155 341h0M146 251h0M174 356h0M167 287h0M148 337h0M196 304h0M192 307h0M168 294h0M191 356h0M160 281h0M145 286h0M176 324h0M175 333h0M194 324h0M186 321h0M175 356h0M200 265h0M191 363h0M202 314h0M161 318h0M163 338h0M175 338h0M175 288h0M192 245h0M152 307h0M187 322h0M170 344h0M172 292h0M191 358h0M190 346h0M192 349h0M155 348h0M189 266h0M199 298h0M170 284h0M162 296h0M176 248h0M194 303h0M177 307h0M194 327h0M176 351h0M150 254h0M193 318h0M199 343h0M186 348h0M156 305h0M149 309h0M181 263h0M196 329h0M186 284h0M209 301h0M165 249h0M175 364h0M158 246h0M168 264h0M194 354h0M201 287h0M180 275h0M173 310h0M177 305h0M152 284h0M153 318h0M183 363h0M185 356h0M174 276h0M176 332h0M187 283h0M153 352h0M189 361h0M158 342h0M178 288h0M160 307h0M160 261h0M158 270h0M151 279h0M163 248h0M154 307h0M179 284h0M151 262h0M156 293h0M189 351h0M200 272h0M163 355h0M184 355h0M163 264h0M185 317h0M192 267h0M177 245h0M164 327h0M175 248h0M163 357h0M169 266h0M174 287h0M212 319h0M171 300h0M173 359h0M172 326h0M199 304h0M178 255h0M171 327h0M155 288h0M152 265h0M184 291h0M189 356h0M177 311h0M159 259h0M185 252h0M184 284h0M178 269h0M187 355h0M198 333h0M178 356h0M191 361h0M202 350h0M166 266h0M191 355h0M158 313h0M175 310h0M192 251h0M191 298h0M171 348h0M154 288h0M184 312h0M147 324h0M193 303h0M166 256h0M172 296h0M179 301h0M187 283h0M194 336h0M188 249h0M180 304h0M180 354h0M143 309h0M181 330h0M201 324h0M172 255h0M183 366h0M176 291h0M174 331h0M174 315h0M264 279h0M234 331h0M273 300h0M195 325h0M149 292h0M192 311h0M221 295h0M231 274h0M227 289h0M144 265h0M150 343h0M199 284h0M96 273h0M128 340h0M216 321h0M212 347h0M141 298h0M139 315h0M196 263h0M138 276h0M228 265h0M250 305h0M216 270h0M198 321h0M259 291h0M146 337h0M226 329h0M195 337h0M208 296h0M131 265h0M219 295h0M204 283h0M138 296h0M144 332h0M206 301h0M157 263h0M251 267h0M194 307h0M235 301h0M220 311h0M196 320h0M133 296h0M160 278h0M241 270h0M207 262h0M133 339h0M192 336h0M137 265h0M256 280h0M152 304h0M146 286h0M204 305h0M265 254h0M154 317h0M195 357h0M113 276h0M219 333h0M158 309h0M109 299h0M208 317h0M195 356h0M157 292h0M137 296h0M195 313h0M222 310h0M199 345h0M142 320h0M149 311h0M160 325h0M230 261h0M224 300h0M211 264h0M211 323h0M158 335h0M224 320h0M162 327h0M162 263h0M142 308h0M144 345h0M217 318h0M200 347h0M141 327h0M131 269h0M200 356h0M256 296h0M144 312h0M201 256h0M220 279h0M161 70h0M193 115h0"/>
<path stroke="#8D99AE" d="M161 284h0M192 297h0M194 230h0M189 242h0M161 297h0M165 205h0M161 371h0M188 336h0M168 330h0M187 200h0M173 361h0M170 307h0M163 307h0M165 252h0M174 336h0M173 368h0M170 273h0M191 297h0M190 237h0M180 327h0M187 348h0M181 255h0M174 336h0M181 325h0M169 246h0M191 239h0M173 343h0M165 259h0M182 273h0M187 234h0M194 217h0M161 350h0M175 321h0M160 271h0M173 329h0M190 274h0M171 244h0M172 318h0M179 298h0M164 370h0M192 211h0M180 340h0M181 247h0M179 362h0M175 312h0M182 277h0M159 339h0M159 341h0M161 261h0M187 273h0M173 215h0M189 249h0M175 354h0M187 359h0M192 360h0M188 320h0M184 237h0M170 226h0M176 367h0M171 262h0M191 356h0M188 321h0M172 253h0M189 306h0M167 350h0M166 340h0M164 343h0M184 269h0M164 244h0M183 235h0M168 280h0M172 231h0M179 370h0M168 369h0M192 346h0M165 225h0M186 308h0M188 220h0M168 205h0M170 209h0M194 313h0M186 232h0M172 273h0M190 276h0M185 210h0M178 343h0M182 225h0M185 353h0M169 278h0M180 283h0M173 283h0M190 306h0M192 314h0M172 275h0M162 220h0M181 368h0M170 360h0M187 217h0M187 222h0M175 350h0M179 355h0M163 310h0M192 273h0M167 348h0M178 370h0M162 363h0M159 233h0M160 358h0M188 252h0M171 254h0M164 228h0M191 258h0M162 298h0M160 273h0M172 328h0M182 337h0M166 269h0M170 346h0M185 224h0M187 338h0M186 250h0M194 333h0M193 328h0M190 203h0M161 352h0M162 228h0M190 276h0M186 312h0M170 285h0M183 333h0M189 317h0M181 349h0M188 371h0M175 363h0M164 343h0M182 267h0M170 314h0M193 366h0M185 250h0M185 315h0M191 260h0M163 344h0M174 293h0M179 353h0M162 312h0M162 309h0M189 290h0M167 283h0M167 228h0M162 329h0M181 264h0M189 209h0M182 328h0M195 207h0M190 216h0M186 188h0M186 178h0M186 136h0M187 155h0M185 210h0M183 214h0M187 198h0M189 125h0M189 79h0M188 160h0M184 216h0M189 125h0M184 183h0M187 188h0M192 178h0M185 197h0M185 155h0M186 135h0M184 169h0M186 126h0M189 217h0M186 149h0M169 201h0M168 207h0M171 220h0M171 184h0M170 202h0M164 206h0M172 212h0M170 194h0M171 188h0M163 198h0M172 210h0M162 212h0M170 207h0M170 198h0M171 190h0M170 184h0M165 160h0M172 221h0M170 212h0M198 344h0M180 329h0M199 294h0M181 299h0M182 276h0M182 288h0M151 276h0M151 269h0M181 355h0M207 324h0M173 265h0M160 283h0M160 257h0M143 267h0M183 319h0M146 271h0M180 306h0M172 269h0M177 291h0M178 356h0M186 334h0M181 313h0M172 356h0M160 257h0M174 318h0M173 350h0M177 351h0M201 298h0M172 311h0M189 346h0M178 356h0M191 259h0M185 296h0M179 343h0M185 335h0M193 354h0M168 324h0M166 282h0M182 273h0M184 273h0M170 367h0M199 255h0M202 286h0M170 327h0M172 287h0M191 350h0M162 311h0M171 333h0M173 311h0M181 290h0M192 356h0M182 364h0M179 332h0M175 249h0M177 324h0M188 359h0M162 336h0M164 313h0M196 321h0M177 343h0M197 250h0M176 250h0M167 252h0M173 348h0M154 280h0M160 349h0M175 269h0M185 245h0M173 261h0M150 303h0M183 246h0M167 261h0M169 256h0M184 316h0M171 257h0M162 329h0M200 352h0M191 360h0M167 272h0M182 362h0M171 264h0M159 326h0M182 346h0M167 254h0M183 283h0M198 267h0M183 294h0M173 294h0M162 298h0M176 358h0M204 309h0M174 307h0M171 252h0M170 282h0M153 251h0M176 353h0M205 345h0M184 273h0M190 347h0M193 315h0M174 341h0M197 269h0M207 286h0M193 251h0M204 300h0M180 346h0M164 352h0M199 323h0M192 306h0M150 287h0M195 266h0M191 297h0M158 302h0M162 324h0M174 323h0M143 264h0M206 315h0M177 319h0M161 347h0M184 362h0M160 268h0M177 271h0M145 272h0M179 301h0M177 371h0M179 369h0M178 287h0M177 318h0M157 286h0M146 321h0M180 286h0M188 345h0M177 328h0M181 368h0M189 287h0M168 271h0M160 267h0M189 264h0M163 259h0M177 274h0M195 348h0M151 333h0M204 351h0M167 312h0M202 286h0M178 329h0M165 272h0M169 304h0M171 254h0M196 281h0M171 265h0M178 328h0M203 289h0M174 269h0M175 315h0M176 298h0M171 360h0M183 304h0M212 330h0M173 259h0M205 281h0M170 254h0M176 315h0M174 286h0M178 266h0M176 303h0M167 330h0M171 363h0M115 293h0M208 338h0M226 341h0M158 330h0M206 347h0M211 316h0M148 268h0M196 260h0M218 300h0M192 273h0M219 335h0M147 309h0M202 287h0M104 316h0M162 346h0M157 324h0M146 344h0M212 350h0M102 290h0M162 357h0M237 332h0M140 338h0M141 262h0M142 308h0M221 345h0M138 259h0M193 337h0M159 272h0M127 276h0M119 308h0M144 293h0M194 321h0M146 349h0M198 334h0M105 318h0M112 331h0M209 334h0M203 303h0M215 273h0M104 305h0M154 336h0M212 290h0M202 333h0M221 255h0M127 326h0M229 312h0M158 287h0M203 287h0M131 296h0M195 341h0M119 290h0M213 269h0M159 315h0M136 292h0M130 295h0M192 350h0M128 254h0M162 349h0M222 261h0M162 329h0M161 301h0M246 314h0M195 282h0M151 352h0M155 293h0M192 337h0M152 270h0M144 304h0M130 268h0M201 340h0M214 288h0M149 341h0M223 340h0M212 289h0M209 288h0M148 286h0M123 300h0M227 329h0M132 309h0M218 285h0M122 255h0M104 286h0M229 320h0M88 308h0M131 279h0M142 300h0M222 329h0M198 289h0M156 294h0M161 343h0M225 289h0M155 313h0M132 337h0M149 302h0M113 325h0M187 48h0M187 65h0M289 278h0"/>
</svg>
</g>
<path d="M120.93 209.40V14.90M140.01 209.40V14.90M41.97 187.08H213.57M327.26 209.40V14.90M346.34 209.40V14.90M248.30 106.22H419.90M528.11 209.40V14.90M547.19 209.40V14.90M449.15 145.66H620.75M120.93 428.47V233.97M140.01 428.47V233.97M41.97 343.83H213.57M327.26 428.47V233.97M346.34 428.47V233.97M248.30 375.66H419.90M528.11 428.47V233.97M547.19 428.47V233.97M449.15 388.80H620.75M120.93 647.46V452.96M140.01 647.46V452.96M41.97 614.50H213.57M327.26 647.46V452.96M346.34 647.46V452.96M248.30 576.48H419.90M528.11 647.46V452.96M547.19 647.46V452.96M449.15 577.91H620.75" fill="none" stroke="#111" stroke-width="1.45" stroke-dasharray="5.8 5.8"/>
<g font-family="Liberation Sans, sans-serif" font-size="10.8" fill="#000" stroke="#000" stroke-width=".22">
<text x="129.77" y="9.10" text-anchor="middle">G1−UF</text>
<text x="36.57" y="204.55" text-anchor="end">0</text>
<text x="36.57" y="152.97" text-anchor="end">5</text>
<text x="37.77" y="101.38" text-anchor="end">10</text>
<text x="37.77" y="49.80" text-anchor="end">15</text>
<text x="336.10" y="9.10" text-anchor="middle">G2−G1</text>
<text x="244.70" y="204.55" text-anchor="end">0.0</text>
<text x="244.70" y="168.31" text-anchor="end">0.5</text>
<text x="244.70" y="132.08" text-anchor="end">1.0</text>
<text x="244.70" y="95.84" text-anchor="end">1.5</text>
<text x="244.70" y="59.61" text-anchor="end">2.0</text>
<text x="244.70" y="23.37" text-anchor="end">2.5</text>
<text x="536.95" y="9.10" text-anchor="middle">G3−G2</text>
<text x="444.95" y="204.55" text-anchor="end">0</text>
<text x="444.95" y="162.40" text-anchor="end">1</text>
<text x="444.95" y="120.25" text-anchor="end">2</text>
<text x="444.95" y="78.10" text-anchor="end">3</text>
<text x="444.95" y="35.95" text-anchor="end">4</text>
<text x="129.77" y="228.17" text-anchor="middle">G4−G3</text>
<text x="36.57" y="423.62" text-anchor="end">0</text>
<text x="36.57" y="365.40" text-anchor="end">1</text>
<text x="36.57" y="307.18" text-anchor="end">2</text>
<text x="36.57" y="248.96" text-anchor="end">3</text>
<text x="336.10" y="228.17" text-anchor="middle">G5−G4</text>
<text x="242.90" y="423.62" text-anchor="end">0</text>
<text x="242.90" y="389.87" text-anchor="end">1</text>
<text x="242.90" y="356.12" text-anchor="end">2</text>
<text x="242.90" y="322.37" text-anchor="end">3</text>
<text x="242.90" y="288.62" text-anchor="end">4</text>
<text x="242.90" y="254.87" text-anchor="end">5</text>
<text x="536.95" y="228.17" text-anchor="middle">G6−G5</text>
<text x="444.95" y="423.62" text-anchor="end">0</text>
<text x="444.95" y="376.32" text-anchor="end">2</text>
<text x="444.95" y="329.02" text-anchor="end">4</text>
<text x="444.95" y="281.72" text-anchor="end">6</text>
<text x="129.77" y="447.16" text-anchor="middle">24h−G6</text>
<text x="38.37" y="642.85" text-anchor="end">0.0</text>
<text x="38.37" y="596.15" text-anchor="end">2.5</text>
<text x="38.37" y="549.45" text-anchor="end">5.0</text>
<text x="38.37" y="502.75" text-anchor="end">7.5</text>
<text x="80.77" y="659.7" text-anchor="middle">−10</text>
<text x="130.47" y="659.7" text-anchor="middle">0</text>
<text x="177.47" y="659.7" text-anchor="middle">10</text>
<text x="336.10" y="447.16" text-anchor="middle">48h−24h</text>
<text x="242.90" y="642.85" text-anchor="end">0</text>
<text x="242.90" y="594.95" text-anchor="end">1</text>
<text x="242.90" y="547.05" text-anchor="end">2</text>
<text x="242.90" y="499.15" text-anchor="end">3</text>
<text x="287.10" y="659.7" text-anchor="middle">−10</text>
<text x="336.80" y="659.7" text-anchor="middle">0</text>
<text x="383.80" y="659.7" text-anchor="middle">10</text>
<text x="536.95" y="447.16" text-anchor="middle">72h−48h</text>
<text x="444.95" y="642.85" text-anchor="end">0</text>
<text x="444.95" y="596.05" text-anchor="end">1</text>
<text x="444.95" y="549.25" text-anchor="end">2</text>
<text x="444.95" y="502.45" text-anchor="end">3</text>
<text x="487.95" y="659.7" text-anchor="middle">−10</text>
<text x="537.65" y="659.7" text-anchor="middle">0</text>
<text x="584.65" y="659.7" text-anchor="middle">10</text>
<text x="322.4" y="680.7" text-anchor="middle">logFC</text>
<text transform="translate(9.3 343) rotate(-90)" text-anchor="middle">−log10(FDR)</text>
<text x="626.4" y="304.5">diff</text>
<circle cx="635.6" cy="320.4" r="2.20" fill="#F85E5E" fill-opacity=".5" stroke="none"/>
<text x="650.3" y="323.8">DOWN</text>
<circle cx="635.6" cy="339.0" r="2.20" fill="#8D99AE" fill-opacity=".5" stroke="none"/>
<text x="650.3" y="342.9">NO</text>
<circle cx="635.6" cy="357.7" r="2.20" fill="#5B8FF9" fill-opacity=".5" stroke="none"/>
<text x="650.3" y="361.4">UP</text>
</g>
</svg>
</body></html>
